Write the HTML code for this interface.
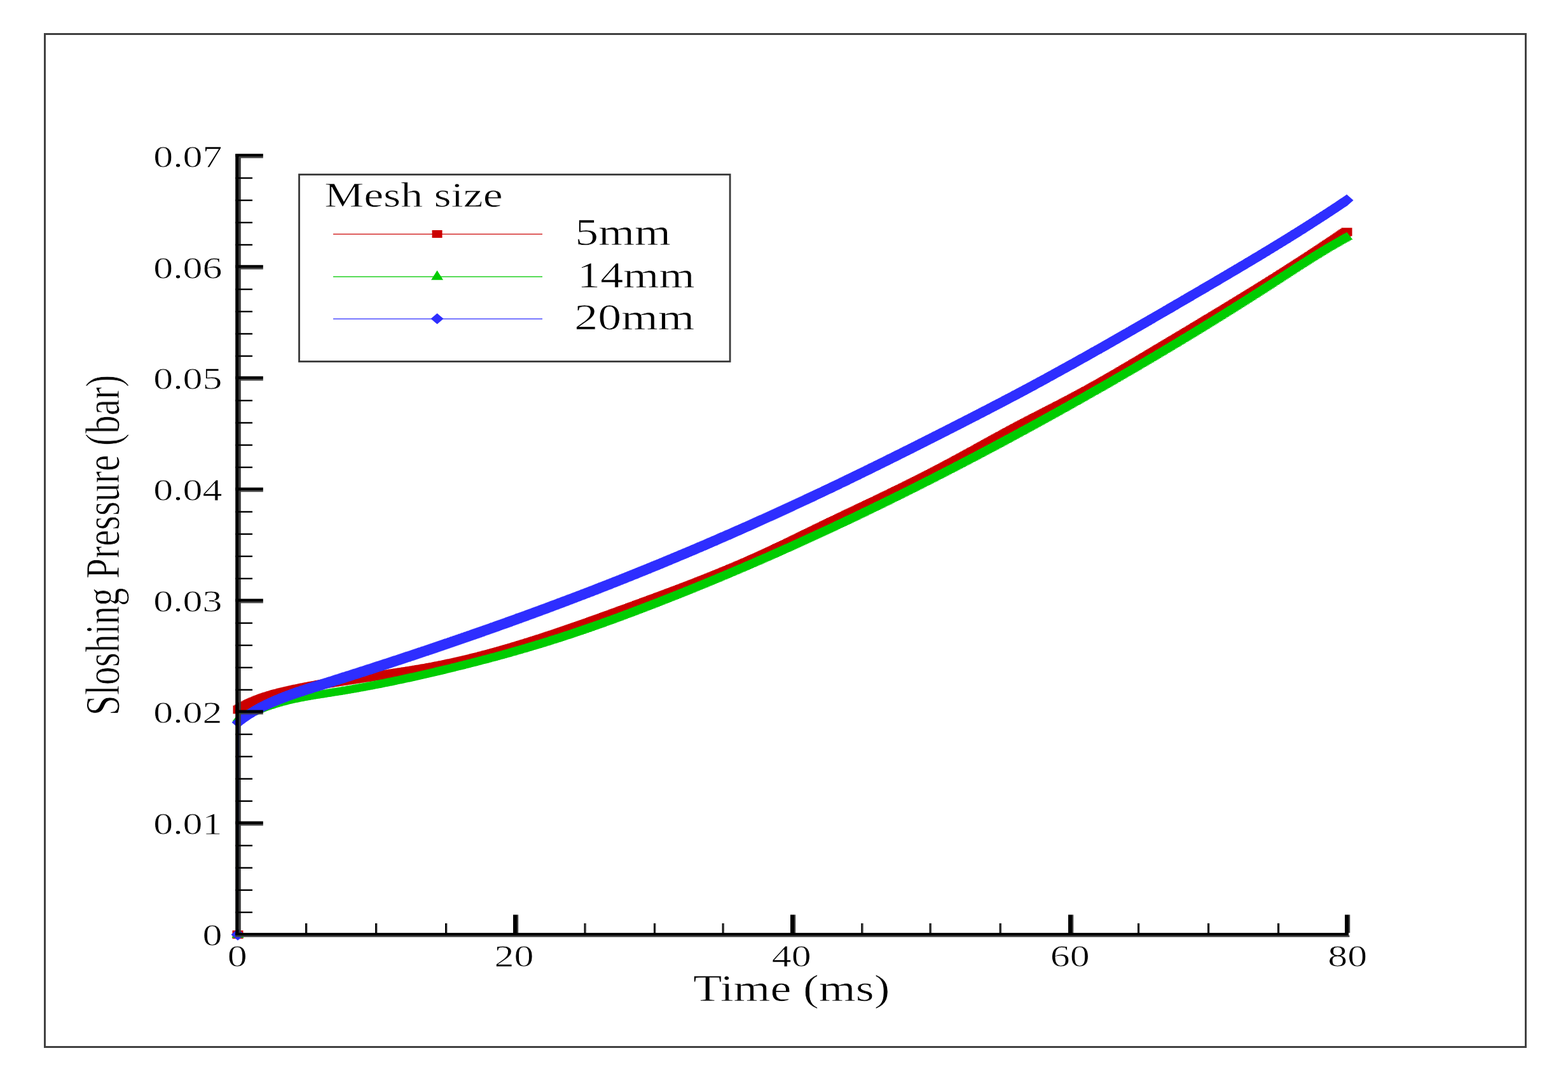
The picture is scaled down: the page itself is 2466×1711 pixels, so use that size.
<!DOCTYPE html>
<html><head><meta charset="utf-8"><title>Sloshing Pressure vs Time</title>
<style>html,body{margin:0;padding:0;background:#fff;overflow:hidden}svg{display:block}text{font-family:'Liberation Serif', 'Times New Roman', serif;fill:#000;stroke:#fff;stroke-width:0.7px}</style>
</head><body>
<svg width="2466" height="1711" viewBox="0 0 2466 1711">
<rect x="0" y="0" width="2466" height="1711" fill="#fff"/>
<rect x="70.5" y="53.5" width="2329" height="1593" fill="none" stroke="#404040" stroke-width="3"/>
<path d="M374.0 1469.8L375.0 1116.0L377.2 1114.7L379.4 1113.5L381.5 1112.3L383.7 1111.1L385.9 1110.0L388.1 1108.9L390.3 1107.8L392.4 1106.8L394.6 1105.8L396.8 1104.8L399.0 1103.8L401.1 1102.9L403.3 1102.0L405.5 1101.1L407.7 1100.2L409.9 1099.4L412.0 1098.6L414.2 1097.8L416.4 1097.0L418.6 1096.3L420.8 1095.6L422.9 1094.9L425.1 1094.2L427.3 1093.5L429.5 1092.9L431.6 1092.2L433.8 1091.6L436.0 1091.0L438.2 1090.4L440.4 1089.9L442.5 1089.3L444.7 1088.7L446.9 1088.2L449.1 1087.7L451.3 1087.2L453.4 1086.7L455.6 1086.2L457.8 1085.7L460.0 1085.2L462.1 1084.7L464.3 1084.2L466.5 1083.8L468.7 1083.3L470.9 1082.9L473.0 1082.4L475.2 1082.0L477.4 1081.5L479.6 1081.1L481.8 1080.7L483.9 1080.2L486.1 1079.8L488.3 1079.4L490.5 1079.0L492.7 1078.6L494.8 1078.2L497.0 1077.8L499.2 1077.4L501.4 1077.0L503.5 1076.6L505.7 1076.2L507.9 1075.8L510.1 1075.5L512.3 1075.1L514.4 1074.7L516.6 1074.4L518.8 1074.0L521.0 1073.6L523.2 1073.3L525.3 1072.9L527.5 1072.6L529.7 1072.2L531.9 1071.9L534.0 1071.5L536.2 1071.2L538.4 1070.9L540.6 1070.5L542.8 1070.2L544.9 1069.9L547.1 1069.5L549.3 1069.2L551.5 1068.9L553.7 1068.6L555.8 1068.2L558.0 1067.9L560.2 1067.6L562.4 1067.3L564.6 1067.0L566.7 1066.6L568.9 1066.3L571.1 1066.0L573.3 1065.7L575.4 1065.4L577.6 1065.1L579.8 1064.8L582.0 1064.4L584.2 1064.1L586.3 1063.8L588.5 1063.5L590.7 1063.2L592.9 1062.9L595.1 1062.6L597.2 1062.3L599.4 1061.9L601.6 1061.6L603.8 1061.3L605.9 1061.0L608.1 1060.7L610.3 1060.4L612.5 1060.0L614.7 1059.7L616.8 1059.4L619.0 1059.1L621.2 1058.8L623.4 1058.4L625.6 1058.1L627.7 1057.8L629.9 1057.5L632.1 1057.1L634.3 1056.8L636.5 1056.5L638.6 1056.1L640.8 1055.8L643.0 1055.4L645.2 1055.1L647.3 1054.7L649.5 1054.4L651.7 1054.0L653.9 1053.7L656.1 1053.3L658.2 1053.0L660.4 1052.6L662.6 1052.2L664.8 1051.9L667.0 1051.5L669.1 1051.1L671.3 1050.7L673.5 1050.4L675.7 1050.0L677.8 1049.6L680.0 1049.2L682.2 1048.8L684.4 1048.4L686.6 1048.0L688.7 1047.5L690.9 1047.1L693.1 1046.7L695.3 1046.3L697.5 1045.8L699.6 1045.4L701.8 1045.0L704.0 1044.5L706.2 1044.1L708.3 1043.6L710.5 1043.1L712.7 1042.7L714.9 1042.2L717.1 1041.7L719.2 1041.2L721.4 1040.8L723.6 1040.3L725.8 1039.8L728.0 1039.3L730.1 1038.8L732.3 1038.3L734.5 1037.8L736.7 1037.2L738.9 1036.7L741.0 1036.2L743.2 1035.7L745.4 1035.1L747.6 1034.6L749.7 1034.0L751.9 1033.5L754.1 1032.9L756.3 1032.4L758.5 1031.8L760.6 1031.3L762.8 1030.7L765.0 1030.1L767.2 1029.5L769.4 1029.0L771.5 1028.4L773.7 1027.8L775.9 1027.2L778.1 1026.6L780.2 1026.0L782.4 1025.4L784.6 1024.8L786.8 1024.2L789.0 1023.6L791.1 1022.9L793.3 1022.3L795.5 1021.7L797.7 1021.1L799.9 1020.4L802.0 1019.8L804.2 1019.2L806.4 1018.5L808.6 1017.9L810.8 1017.2L812.9 1016.6L815.1 1015.9L817.3 1015.3L819.5 1014.6L821.6 1014.0L823.8 1013.3L826.0 1012.6L828.2 1011.9L830.4 1011.3L832.5 1010.6L834.7 1009.9L836.9 1009.2L839.1 1008.5L841.3 1007.8L843.4 1007.2L845.6 1006.5L847.8 1005.8L850.0 1005.1L852.1 1004.4L854.3 1003.7L856.5 1002.9L858.7 1002.2L860.9 1001.5L863.0 1000.8L865.2 1000.1L867.4 999.4L869.6 998.6L871.8 997.9L873.9 997.2L876.1 996.5L878.3 995.7L880.5 995.0L882.6 994.3L884.8 993.5L887.0 992.8L889.2 992.0L891.4 991.3L893.5 990.6L895.7 989.8L897.9 989.1L900.1 988.3L902.3 987.6L904.4 986.8L906.6 986.0L908.8 985.3L911.0 984.5L913.2 983.8L915.3 983.0L917.5 982.2L919.7 981.5L921.9 980.7L924.0 979.9L926.2 979.2L928.4 978.4L930.6 977.6L932.8 976.8L934.9 976.1L937.1 975.3L939.3 974.5L941.5 973.7L943.7 973.0L945.8 972.2L948.0 971.4L950.2 970.6L952.4 969.8L954.5 969.0L956.7 968.2L958.9 967.5L961.1 966.7L963.3 965.9L965.4 965.1L967.6 964.3L969.8 963.5L972.0 962.7L974.2 961.9L976.3 961.1L978.5 960.3L980.7 959.5L982.9 958.8L985.0 958.0L987.2 957.2L989.4 956.4L991.6 955.6L993.8 954.8L995.9 954.0L998.1 953.2L1000.3 952.4L1002.5 951.6L1004.7 950.8L1006.8 950.0L1009.0 949.2L1011.2 948.4L1013.4 947.6L1015.6 946.8L1017.7 946.0L1019.9 945.2L1022.1 944.4L1024.3 943.6L1026.4 942.8L1028.6 942.0L1030.8 941.2L1033.0 940.4L1035.2 939.6L1037.3 938.8L1039.5 938.0L1041.7 937.2L1043.9 936.3L1046.1 935.5L1048.2 934.7L1050.4 933.9L1052.6 933.1L1054.8 932.3L1056.9 931.5L1059.1 930.7L1061.3 929.8L1063.5 929.0L1065.7 928.2L1067.8 927.4L1070.0 926.6L1072.2 925.7L1074.4 924.9L1076.6 924.1L1078.7 923.2L1080.9 922.4L1083.1 921.6L1085.3 920.7L1087.5 919.9L1089.6 919.1L1091.8 918.2L1094.0 917.4L1096.2 916.5L1098.3 915.7L1100.5 914.8L1102.7 914.0L1104.9 913.1L1107.1 912.3L1109.2 911.4L1111.4 910.6L1113.6 909.7L1115.8 908.8L1118.0 908.0L1120.1 907.1L1122.3 906.2L1124.5 905.3L1126.7 904.5L1128.8 903.6L1131.0 902.7L1133.2 901.8L1135.4 900.9L1137.6 900.0L1139.7 899.1L1141.9 898.2L1144.1 897.3L1146.3 896.4L1148.5 895.5L1150.6 894.6L1152.8 893.7L1155.0 892.8L1157.2 891.9L1159.3 890.9L1161.5 890.0L1163.7 889.1L1165.9 888.2L1168.1 887.2L1170.2 886.3L1172.4 885.3L1174.6 884.4L1176.8 883.4L1179.0 882.5L1181.1 881.5L1183.3 880.6L1185.5 879.6L1187.7 878.6L1189.9 877.7L1192.0 876.7L1194.2 875.7L1196.4 874.7L1198.6 873.7L1200.7 872.7L1202.9 871.7L1205.1 870.7L1207.3 869.7L1209.5 868.7L1211.6 867.7L1213.8 866.7L1216.0 865.7L1218.2 864.7L1220.4 863.6L1222.5 862.6L1224.7 861.6L1226.9 860.6L1229.1 859.5L1231.2 858.5L1233.4 857.4L1235.6 856.4L1237.8 855.4L1240.0 854.3L1242.1 853.3L1244.3 852.2L1246.5 851.2L1248.7 850.1L1250.9 849.1L1253.0 848.0L1255.2 846.9L1257.4 845.9L1259.6 844.8L1261.8 843.8L1263.9 842.7L1266.1 841.6L1268.3 840.6L1270.5 839.5L1272.6 838.5L1274.8 837.4L1277.0 836.3L1279.2 835.3L1281.4 834.2L1283.5 833.2L1285.7 832.1L1287.9 831.0L1290.1 830.0L1292.3 828.9L1294.4 827.9L1296.6 826.8L1298.8 825.8L1301.0 824.7L1303.1 823.7L1305.3 822.6L1307.5 821.6L1309.7 820.5L1311.9 819.5L1314.0 818.4L1316.2 817.4L1318.4 816.4L1320.6 815.3L1322.8 814.3L1324.9 813.2L1327.1 812.2L1329.3 811.2L1331.5 810.1L1333.7 809.1L1335.8 808.1L1338.0 807.0L1340.2 806.0L1342.4 805.0L1344.5 803.9L1346.7 802.9L1348.9 801.9L1351.1 800.8L1353.3 799.8L1355.4 798.8L1357.6 797.7L1359.8 796.7L1362.0 795.7L1364.2 794.6L1366.3 793.6L1368.5 792.5L1370.7 791.5L1372.9 790.5L1375.0 789.4L1377.2 788.4L1379.4 787.4L1381.6 786.3L1383.8 785.3L1385.9 784.2L1388.1 783.2L1390.3 782.1L1392.5 781.1L1394.7 780.0L1396.8 779.0L1399.0 777.9L1401.2 776.9L1403.4 775.8L1405.5 774.8L1407.7 773.7L1409.9 772.6L1412.1 771.6L1414.3 770.5L1416.4 769.5L1418.6 768.4L1420.8 767.3L1423.0 766.2L1425.2 765.2L1427.3 764.1L1429.5 763.0L1431.7 761.9L1433.9 760.8L1436.1 759.8L1438.2 758.7L1440.4 757.6L1442.6 756.5L1444.8 755.4L1446.9 754.3L1449.1 753.2L1451.3 752.1L1453.5 751.0L1455.7 749.9L1457.8 748.8L1460.0 747.7L1462.2 746.6L1464.4 745.4L1466.6 744.3L1468.7 743.2L1470.9 742.1L1473.1 740.9L1475.3 739.8L1477.4 738.7L1479.6 737.5L1481.8 736.4L1484.0 735.2L1486.2 734.1L1488.3 733.0L1490.5 731.8L1492.7 730.6L1494.9 729.5L1497.1 728.3L1499.2 727.2L1501.4 726.0L1503.6 724.8L1505.8 723.6L1508.0 722.5L1510.1 721.3L1512.3 720.1L1514.5 718.9L1516.7 717.7L1518.8 716.5L1521.0 715.3L1523.2 714.1L1525.4 713.0L1527.6 711.8L1529.7 710.6L1531.9 709.4L1534.1 708.2L1536.3 707.0L1538.5 705.8L1540.6 704.5L1542.8 703.3L1545.0 702.1L1547.2 700.9L1549.3 699.7L1551.5 698.5L1553.7 697.3L1555.9 696.1L1558.1 694.9L1560.2 693.7L1562.4 692.5L1564.6 691.3L1566.8 690.1L1569.0 688.9L1571.1 687.7L1573.3 686.5L1575.5 685.4L1577.7 684.2L1579.8 683.0L1582.0 681.8L1584.2 680.6L1586.4 679.4L1588.6 678.3L1590.7 677.1L1592.9 675.9L1595.1 674.7L1597.3 673.6L1599.5 672.4L1601.6 671.3L1603.8 670.1L1606.0 669.0L1608.2 667.8L1610.4 666.7L1612.5 665.5L1614.7 664.4L1616.9 663.3L1619.1 662.1L1621.2 661.0L1623.4 659.9L1625.6 658.8L1627.8 657.6L1630.0 656.5L1632.1 655.4L1634.3 654.3L1636.5 653.2L1638.7 652.0L1640.9 650.9L1643.0 649.8L1645.2 648.7L1647.4 647.6L1649.6 646.5L1651.7 645.3L1653.9 644.2L1656.1 643.1L1658.3 642.0L1660.5 640.9L1662.6 639.7L1664.8 638.6L1667.0 637.5L1669.2 636.4L1671.4 635.2L1673.5 634.1L1675.7 633.0L1677.9 631.8L1680.1 630.7L1682.2 629.6L1684.4 628.4L1686.6 627.3L1688.8 626.1L1691.0 625.0L1693.1 623.8L1695.3 622.6L1697.5 621.5L1699.7 620.3L1701.9 619.1L1704.0 617.9L1706.2 616.7L1708.4 615.6L1710.6 614.4L1712.8 613.2L1714.9 612.0L1717.1 610.8L1719.3 609.5L1721.5 608.3L1723.6 607.1L1725.8 605.9L1728.0 604.7L1730.2 603.4L1732.4 602.2L1734.5 601.0L1736.7 599.7L1738.9 598.5L1741.1 597.2L1743.3 596.0L1745.4 594.7L1747.6 593.5L1749.8 592.2L1752.0 591.0L1754.1 589.7L1756.3 588.4L1758.5 587.2L1760.7 585.9L1762.9 584.6L1765.0 583.4L1767.2 582.1L1769.4 580.8L1771.6 579.5L1773.8 578.3L1775.9 577.0L1778.1 575.7L1780.3 574.4L1782.5 573.1L1784.7 571.8L1786.8 570.5L1789.0 569.3L1791.2 568.0L1793.4 566.7L1795.5 565.4L1797.7 564.1L1799.9 562.8L1802.1 561.5L1804.3 560.2L1806.4 558.9L1808.6 557.6L1810.8 556.3L1813.0 555.0L1815.2 553.7L1817.3 552.4L1819.5 551.1L1821.7 549.8L1823.9 548.5L1826.0 547.2L1828.2 545.9L1830.4 544.6L1832.6 543.3L1834.8 542.0L1836.9 540.7L1839.1 539.4L1841.3 538.1L1843.5 536.8L1845.7 535.5L1847.8 534.2L1850.0 532.9L1852.2 531.6L1854.4 530.3L1856.5 529.0L1858.7 527.7L1860.9 526.4L1863.1 525.1L1865.3 523.8L1867.4 522.5L1869.6 521.2L1871.8 519.9L1874.0 518.5L1876.2 517.2L1878.3 515.9L1880.5 514.6L1882.7 513.3L1884.9 512.0L1887.1 510.7L1889.2 509.4L1891.4 508.1L1893.6 506.8L1895.8 505.5L1897.9 504.1L1900.1 502.8L1902.3 501.5L1904.5 500.2L1906.7 498.9L1908.8 497.6L1911.0 496.3L1913.2 494.9L1915.4 493.6L1917.6 492.3L1919.7 491.0L1921.9 489.7L1924.1 488.4L1926.3 487.0L1928.4 485.7L1930.6 484.4L1932.8 483.1L1935.0 481.8L1937.2 480.4L1939.3 479.1L1941.5 477.8L1943.7 476.4L1945.9 475.1L1948.1 473.8L1950.2 472.5L1952.4 471.1L1954.6 469.8L1956.8 468.5L1959.0 467.1L1961.1 465.8L1963.3 464.4L1965.5 463.1L1967.7 461.8L1969.8 460.4L1972.0 459.1L1974.2 457.7L1976.4 456.4L1978.6 455.0L1980.7 453.7L1982.9 452.3L1985.1 451.0L1987.3 449.6L1989.5 448.3L1991.6 446.9L1993.8 445.5L1996.0 444.2L1998.2 442.8L2000.3 441.5L2002.5 440.1L2004.7 438.7L2006.9 437.4L2009.1 436.0L2011.2 434.6L2013.4 433.2L2015.6 431.8L2017.8 430.5L2020.0 429.1L2022.1 427.7L2024.3 426.3L2026.5 424.9L2028.7 423.5L2030.8 422.1L2033.0 420.7L2035.2 419.3L2037.4 417.9L2039.6 416.5L2041.7 415.1L2043.9 413.7L2046.1 412.3L2048.3 410.9L2050.5 409.5L2052.6 408.1L2054.8 406.7L2057.0 405.2L2059.2 403.8L2061.4 402.4L2063.5 401.0L2065.7 399.5L2067.9 398.1L2070.1 396.7L2072.2 395.2L2074.4 393.8L2076.6 392.4L2078.8 390.9L2081.0 389.5L2083.1 388.0L2085.3 386.6L2087.5 385.1L2089.7 383.7L2091.9 382.2L2094.0 380.8L2096.2 379.3L2098.4 377.9L2100.6 376.4L2102.7 374.9L2104.9 373.5L2107.1 372.0L2109.3 370.6L2111.5 369.1L2113.6 367.6L2115.8 366.2L2118.0 364.7" fill="none" stroke="#cc0000" stroke-width="2"/>
<path d="M365.5 1463.2h17.0v13.0h-17.0zM366.5 1109.5h17.0v13.0h-17.0zM368.7 1108.2h17.0v13.0h-17.0zM370.9 1107.0h17.0v13.0h-17.0zM373.0 1105.8h17.0v13.0h-17.0zM375.2 1104.6h17.0v13.0h-17.0zM377.4 1103.5h17.0v13.0h-17.0zM379.6 1102.4h17.0v13.0h-17.0zM381.8 1101.3h17.0v13.0h-17.0zM383.9 1100.3h17.0v13.0h-17.0zM386.1 1099.3h17.0v13.0h-17.0zM388.3 1098.3h17.0v13.0h-17.0zM390.5 1097.3h17.0v13.0h-17.0zM392.6 1096.4h17.0v13.0h-17.0zM394.8 1095.5h17.0v13.0h-17.0zM397.0 1094.6h17.0v13.0h-17.0zM399.2 1093.7h17.0v13.0h-17.0zM401.4 1092.9h17.0v13.0h-17.0zM403.5 1092.1h17.0v13.0h-17.0zM405.7 1091.3h17.0v13.0h-17.0zM407.9 1090.5h17.0v13.0h-17.0zM410.1 1089.8h17.0v13.0h-17.0zM412.3 1089.1h17.0v13.0h-17.0zM414.4 1088.4h17.0v13.0h-17.0zM416.6 1087.7h17.0v13.0h-17.0zM418.8 1087.0h17.0v13.0h-17.0zM421.0 1086.4h17.0v13.0h-17.0zM423.1 1085.7h17.0v13.0h-17.0zM425.3 1085.1h17.0v13.0h-17.0zM427.5 1084.5h17.0v13.0h-17.0zM429.7 1083.9h17.0v13.0h-17.0zM431.9 1083.4h17.0v13.0h-17.0zM434.0 1082.8h17.0v13.0h-17.0zM436.2 1082.2h17.0v13.0h-17.0zM438.4 1081.7h17.0v13.0h-17.0zM440.6 1081.2h17.0v13.0h-17.0zM442.8 1080.7h17.0v13.0h-17.0zM444.9 1080.2h17.0v13.0h-17.0zM447.1 1079.7h17.0v13.0h-17.0zM449.3 1079.2h17.0v13.0h-17.0zM451.5 1078.7h17.0v13.0h-17.0zM453.6 1078.2h17.0v13.0h-17.0zM455.8 1077.7h17.0v13.0h-17.0zM458.0 1077.3h17.0v13.0h-17.0zM460.2 1076.8h17.0v13.0h-17.0zM462.4 1076.4h17.0v13.0h-17.0zM464.5 1075.9h17.0v13.0h-17.0zM466.7 1075.5h17.0v13.0h-17.0zM468.9 1075.0h17.0v13.0h-17.0zM471.1 1074.6h17.0v13.0h-17.0zM473.3 1074.2h17.0v13.0h-17.0zM475.4 1073.7h17.0v13.0h-17.0zM477.6 1073.3h17.0v13.0h-17.0zM479.8 1072.9h17.0v13.0h-17.0zM482.0 1072.5h17.0v13.0h-17.0zM484.2 1072.1h17.0v13.0h-17.0zM486.3 1071.7h17.0v13.0h-17.0zM488.5 1071.3h17.0v13.0h-17.0zM490.7 1070.9h17.0v13.0h-17.0zM492.9 1070.5h17.0v13.0h-17.0zM495.0 1070.1h17.0v13.0h-17.0zM497.2 1069.7h17.0v13.0h-17.0zM499.4 1069.3h17.0v13.0h-17.0zM501.6 1069.0h17.0v13.0h-17.0zM503.8 1068.6h17.0v13.0h-17.0zM505.9 1068.2h17.0v13.0h-17.0zM508.1 1067.9h17.0v13.0h-17.0zM510.3 1067.5h17.0v13.0h-17.0zM512.5 1067.1h17.0v13.0h-17.0zM514.7 1066.8h17.0v13.0h-17.0zM516.8 1066.4h17.0v13.0h-17.0zM519.0 1066.1h17.0v13.0h-17.0zM521.2 1065.7h17.0v13.0h-17.0zM523.4 1065.4h17.0v13.0h-17.0zM525.5 1065.0h17.0v13.0h-17.0zM527.7 1064.7h17.0v13.0h-17.0zM529.9 1064.4h17.0v13.0h-17.0zM532.1 1064.0h17.0v13.0h-17.0zM534.3 1063.7h17.0v13.0h-17.0zM536.4 1063.4h17.0v13.0h-17.0zM538.6 1063.0h17.0v13.0h-17.0zM540.8 1062.7h17.0v13.0h-17.0zM543.0 1062.4h17.0v13.0h-17.0zM545.2 1062.1h17.0v13.0h-17.0zM547.3 1061.7h17.0v13.0h-17.0zM549.5 1061.4h17.0v13.0h-17.0zM551.7 1061.1h17.0v13.0h-17.0zM553.9 1060.8h17.0v13.0h-17.0zM556.1 1060.5h17.0v13.0h-17.0zM558.2 1060.1h17.0v13.0h-17.0zM560.4 1059.8h17.0v13.0h-17.0zM562.6 1059.5h17.0v13.0h-17.0zM564.8 1059.2h17.0v13.0h-17.0zM566.9 1058.9h17.0v13.0h-17.0zM569.1 1058.6h17.0v13.0h-17.0zM571.3 1058.3h17.0v13.0h-17.0zM573.5 1057.9h17.0v13.0h-17.0zM575.7 1057.6h17.0v13.0h-17.0zM577.8 1057.3h17.0v13.0h-17.0zM580.0 1057.0h17.0v13.0h-17.0zM582.2 1056.7h17.0v13.0h-17.0zM584.4 1056.4h17.0v13.0h-17.0zM586.6 1056.1h17.0v13.0h-17.0zM588.7 1055.8h17.0v13.0h-17.0zM590.9 1055.4h17.0v13.0h-17.0zM593.1 1055.1h17.0v13.0h-17.0zM595.3 1054.8h17.0v13.0h-17.0zM597.4 1054.5h17.0v13.0h-17.0zM599.6 1054.2h17.0v13.0h-17.0zM601.8 1053.9h17.0v13.0h-17.0zM604.0 1053.5h17.0v13.0h-17.0zM606.2 1053.2h17.0v13.0h-17.0zM608.3 1052.9h17.0v13.0h-17.0zM610.5 1052.6h17.0v13.0h-17.0zM612.7 1052.3h17.0v13.0h-17.0zM614.9 1051.9h17.0v13.0h-17.0zM617.1 1051.6h17.0v13.0h-17.0zM619.2 1051.3h17.0v13.0h-17.0zM621.4 1051.0h17.0v13.0h-17.0zM623.6 1050.6h17.0v13.0h-17.0zM625.8 1050.3h17.0v13.0h-17.0zM628.0 1050.0h17.0v13.0h-17.0zM630.1 1049.6h17.0v13.0h-17.0zM632.3 1049.3h17.0v13.0h-17.0zM634.5 1048.9h17.0v13.0h-17.0zM636.7 1048.6h17.0v13.0h-17.0zM638.8 1048.2h17.0v13.0h-17.0zM641.0 1047.9h17.0v13.0h-17.0zM643.2 1047.5h17.0v13.0h-17.0zM645.4 1047.2h17.0v13.0h-17.0zM647.6 1046.8h17.0v13.0h-17.0zM649.7 1046.5h17.0v13.0h-17.0zM651.9 1046.1h17.0v13.0h-17.0zM654.1 1045.7h17.0v13.0h-17.0zM656.3 1045.4h17.0v13.0h-17.0zM658.5 1045.0h17.0v13.0h-17.0zM660.6 1044.6h17.0v13.0h-17.0zM662.8 1044.2h17.0v13.0h-17.0zM665.0 1043.9h17.0v13.0h-17.0zM667.2 1043.5h17.0v13.0h-17.0zM669.3 1043.1h17.0v13.0h-17.0zM671.5 1042.7h17.0v13.0h-17.0zM673.7 1042.3h17.0v13.0h-17.0zM675.9 1041.9h17.0v13.0h-17.0zM678.1 1041.5h17.0v13.0h-17.0zM680.2 1041.0h17.0v13.0h-17.0zM682.4 1040.6h17.0v13.0h-17.0zM684.6 1040.2h17.0v13.0h-17.0zM686.8 1039.8h17.0v13.0h-17.0zM689.0 1039.3h17.0v13.0h-17.0zM691.1 1038.9h17.0v13.0h-17.0zM693.3 1038.5h17.0v13.0h-17.0zM695.5 1038.0h17.0v13.0h-17.0zM697.7 1037.6h17.0v13.0h-17.0zM699.8 1037.1h17.0v13.0h-17.0zM702.0 1036.6h17.0v13.0h-17.0zM704.2 1036.2h17.0v13.0h-17.0zM706.4 1035.7h17.0v13.0h-17.0zM708.6 1035.2h17.0v13.0h-17.0zM710.7 1034.7h17.0v13.0h-17.0zM712.9 1034.3h17.0v13.0h-17.0zM715.1 1033.8h17.0v13.0h-17.0zM717.3 1033.3h17.0v13.0h-17.0zM719.5 1032.8h17.0v13.0h-17.0zM721.6 1032.3h17.0v13.0h-17.0zM723.8 1031.8h17.0v13.0h-17.0zM726.0 1031.3h17.0v13.0h-17.0zM728.2 1030.7h17.0v13.0h-17.0zM730.4 1030.2h17.0v13.0h-17.0zM732.5 1029.7h17.0v13.0h-17.0zM734.7 1029.2h17.0v13.0h-17.0zM736.9 1028.6h17.0v13.0h-17.0zM739.1 1028.1h17.0v13.0h-17.0zM741.2 1027.5h17.0v13.0h-17.0zM743.4 1027.0h17.0v13.0h-17.0zM745.6 1026.4h17.0v13.0h-17.0zM747.8 1025.9h17.0v13.0h-17.0zM750.0 1025.3h17.0v13.0h-17.0zM752.1 1024.8h17.0v13.0h-17.0zM754.3 1024.2h17.0v13.0h-17.0zM756.5 1023.6h17.0v13.0h-17.0zM758.7 1023.0h17.0v13.0h-17.0zM760.9 1022.5h17.0v13.0h-17.0zM763.0 1021.9h17.0v13.0h-17.0zM765.2 1021.3h17.0v13.0h-17.0zM767.4 1020.7h17.0v13.0h-17.0zM769.6 1020.1h17.0v13.0h-17.0zM771.7 1019.5h17.0v13.0h-17.0zM773.9 1018.9h17.0v13.0h-17.0zM776.1 1018.3h17.0v13.0h-17.0zM778.3 1017.7h17.0v13.0h-17.0zM780.5 1017.1h17.0v13.0h-17.0zM782.6 1016.4h17.0v13.0h-17.0zM784.8 1015.8h17.0v13.0h-17.0zM787.0 1015.2h17.0v13.0h-17.0zM789.2 1014.6h17.0v13.0h-17.0zM791.4 1013.9h17.0v13.0h-17.0zM793.5 1013.3h17.0v13.0h-17.0zM795.7 1012.7h17.0v13.0h-17.0zM797.9 1012.0h17.0v13.0h-17.0zM800.1 1011.4h17.0v13.0h-17.0zM802.2 1010.7h17.0v13.0h-17.0zM804.4 1010.1h17.0v13.0h-17.0zM806.6 1009.4h17.0v13.0h-17.0zM808.8 1008.8h17.0v13.0h-17.0zM811.0 1008.1h17.0v13.0h-17.0zM813.1 1007.5h17.0v13.0h-17.0zM815.3 1006.8h17.0v13.0h-17.0zM817.5 1006.1h17.0v13.0h-17.0zM819.7 1005.4h17.0v13.0h-17.0zM821.9 1004.8h17.0v13.0h-17.0zM824.0 1004.1h17.0v13.0h-17.0zM826.2 1003.4h17.0v13.0h-17.0zM828.4 1002.7h17.0v13.0h-17.0zM830.6 1002.0h17.0v13.0h-17.0zM832.8 1001.3h17.0v13.0h-17.0zM834.9 1000.7h17.0v13.0h-17.0zM837.1 1000.0h17.0v13.0h-17.0zM839.3 999.3h17.0v13.0h-17.0zM841.5 998.6h17.0v13.0h-17.0zM843.6 997.9h17.0v13.0h-17.0zM845.8 997.2h17.0v13.0h-17.0zM848.0 996.4h17.0v13.0h-17.0zM850.2 995.7h17.0v13.0h-17.0zM852.4 995.0h17.0v13.0h-17.0zM854.5 994.3h17.0v13.0h-17.0zM856.7 993.6h17.0v13.0h-17.0zM858.9 992.9h17.0v13.0h-17.0zM861.1 992.1h17.0v13.0h-17.0zM863.3 991.4h17.0v13.0h-17.0zM865.4 990.7h17.0v13.0h-17.0zM867.6 990.0h17.0v13.0h-17.0zM869.8 989.2h17.0v13.0h-17.0zM872.0 988.5h17.0v13.0h-17.0zM874.1 987.8h17.0v13.0h-17.0zM876.3 987.0h17.0v13.0h-17.0zM878.5 986.3h17.0v13.0h-17.0zM880.7 985.5h17.0v13.0h-17.0zM882.9 984.8h17.0v13.0h-17.0zM885.0 984.1h17.0v13.0h-17.0zM887.2 983.3h17.0v13.0h-17.0zM889.4 982.6h17.0v13.0h-17.0zM891.6 981.8h17.0v13.0h-17.0zM893.8 981.1h17.0v13.0h-17.0zM895.9 980.3h17.0v13.0h-17.0zM898.1 979.5h17.0v13.0h-17.0zM900.3 978.8h17.0v13.0h-17.0zM902.5 978.0h17.0v13.0h-17.0zM904.7 977.3h17.0v13.0h-17.0zM906.8 976.5h17.0v13.0h-17.0zM909.0 975.7h17.0v13.0h-17.0zM911.2 975.0h17.0v13.0h-17.0zM913.4 974.2h17.0v13.0h-17.0zM915.5 973.4h17.0v13.0h-17.0zM917.7 972.7h17.0v13.0h-17.0zM919.9 971.9h17.0v13.0h-17.0zM922.1 971.1h17.0v13.0h-17.0zM924.3 970.3h17.0v13.0h-17.0zM926.4 969.6h17.0v13.0h-17.0zM928.6 968.8h17.0v13.0h-17.0zM930.8 968.0h17.0v13.0h-17.0zM933.0 967.2h17.0v13.0h-17.0zM935.2 966.5h17.0v13.0h-17.0zM937.3 965.7h17.0v13.0h-17.0zM939.5 964.9h17.0v13.0h-17.0zM941.7 964.1h17.0v13.0h-17.0zM943.9 963.3h17.0v13.0h-17.0zM946.0 962.5h17.0v13.0h-17.0zM948.2 961.7h17.0v13.0h-17.0zM950.4 961.0h17.0v13.0h-17.0zM952.6 960.2h17.0v13.0h-17.0zM954.8 959.4h17.0v13.0h-17.0zM956.9 958.6h17.0v13.0h-17.0zM959.1 957.8h17.0v13.0h-17.0zM961.3 957.0h17.0v13.0h-17.0zM963.5 956.2h17.0v13.0h-17.0zM965.7 955.4h17.0v13.0h-17.0zM967.8 954.6h17.0v13.0h-17.0zM970.0 953.8h17.0v13.0h-17.0zM972.2 953.0h17.0v13.0h-17.0zM974.4 952.3h17.0v13.0h-17.0zM976.5 951.5h17.0v13.0h-17.0zM978.7 950.7h17.0v13.0h-17.0zM980.9 949.9h17.0v13.0h-17.0zM983.1 949.1h17.0v13.0h-17.0zM985.3 948.3h17.0v13.0h-17.0zM987.4 947.5h17.0v13.0h-17.0zM989.6 946.7h17.0v13.0h-17.0zM991.8 945.9h17.0v13.0h-17.0zM994.0 945.1h17.0v13.0h-17.0zM996.2 944.3h17.0v13.0h-17.0zM998.3 943.5h17.0v13.0h-17.0zM1000.5 942.7h17.0v13.0h-17.0zM1002.7 941.9h17.0v13.0h-17.0zM1004.9 941.1h17.0v13.0h-17.0zM1007.1 940.3h17.0v13.0h-17.0zM1009.2 939.5h17.0v13.0h-17.0zM1011.4 938.7h17.0v13.0h-17.0zM1013.6 937.9h17.0v13.0h-17.0zM1015.8 937.1h17.0v13.0h-17.0zM1017.9 936.3h17.0v13.0h-17.0zM1020.1 935.5h17.0v13.0h-17.0zM1022.3 934.7h17.0v13.0h-17.0zM1024.5 933.9h17.0v13.0h-17.0zM1026.7 933.1h17.0v13.0h-17.0zM1028.8 932.3h17.0v13.0h-17.0zM1031.0 931.5h17.0v13.0h-17.0zM1033.2 930.7h17.0v13.0h-17.0zM1035.4 929.8h17.0v13.0h-17.0zM1037.6 929.0h17.0v13.0h-17.0zM1039.7 928.2h17.0v13.0h-17.0zM1041.9 927.4h17.0v13.0h-17.0zM1044.1 926.6h17.0v13.0h-17.0zM1046.3 925.8h17.0v13.0h-17.0zM1048.4 925.0h17.0v13.0h-17.0zM1050.6 924.2h17.0v13.0h-17.0zM1052.8 923.3h17.0v13.0h-17.0zM1055.0 922.5h17.0v13.0h-17.0zM1057.2 921.7h17.0v13.0h-17.0zM1059.3 920.9h17.0v13.0h-17.0zM1061.5 920.1h17.0v13.0h-17.0zM1063.7 919.2h17.0v13.0h-17.0zM1065.9 918.4h17.0v13.0h-17.0zM1068.1 917.6h17.0v13.0h-17.0zM1070.2 916.7h17.0v13.0h-17.0zM1072.4 915.9h17.0v13.0h-17.0zM1074.6 915.1h17.0v13.0h-17.0zM1076.8 914.2h17.0v13.0h-17.0zM1079.0 913.4h17.0v13.0h-17.0zM1081.1 912.6h17.0v13.0h-17.0zM1083.3 911.7h17.0v13.0h-17.0zM1085.5 910.9h17.0v13.0h-17.0zM1087.7 910.0h17.0v13.0h-17.0zM1089.8 909.2h17.0v13.0h-17.0zM1092.0 908.3h17.0v13.0h-17.0zM1094.2 907.5h17.0v13.0h-17.0zM1096.4 906.6h17.0v13.0h-17.0zM1098.6 905.8h17.0v13.0h-17.0zM1100.7 904.9h17.0v13.0h-17.0zM1102.9 904.1h17.0v13.0h-17.0zM1105.1 903.2h17.0v13.0h-17.0zM1107.3 902.3h17.0v13.0h-17.0zM1109.5 901.5h17.0v13.0h-17.0zM1111.6 900.6h17.0v13.0h-17.0zM1113.8 899.7h17.0v13.0h-17.0zM1116.0 898.8h17.0v13.0h-17.0zM1118.2 898.0h17.0v13.0h-17.0zM1120.3 897.1h17.0v13.0h-17.0zM1122.5 896.2h17.0v13.0h-17.0zM1124.7 895.3h17.0v13.0h-17.0zM1126.9 894.4h17.0v13.0h-17.0zM1129.1 893.5h17.0v13.0h-17.0zM1131.2 892.6h17.0v13.0h-17.0zM1133.4 891.7h17.0v13.0h-17.0zM1135.6 890.8h17.0v13.0h-17.0zM1137.8 889.9h17.0v13.0h-17.0zM1140.0 889.0h17.0v13.0h-17.0zM1142.1 888.1h17.0v13.0h-17.0zM1144.3 887.2h17.0v13.0h-17.0zM1146.5 886.3h17.0v13.0h-17.0zM1148.7 885.4h17.0v13.0h-17.0zM1150.8 884.4h17.0v13.0h-17.0zM1153.0 883.5h17.0v13.0h-17.0zM1155.2 882.6h17.0v13.0h-17.0zM1157.4 881.7h17.0v13.0h-17.0zM1159.6 880.7h17.0v13.0h-17.0zM1161.7 879.8h17.0v13.0h-17.0zM1163.9 878.8h17.0v13.0h-17.0zM1166.1 877.9h17.0v13.0h-17.0zM1168.3 876.9h17.0v13.0h-17.0zM1170.5 876.0h17.0v13.0h-17.0zM1172.6 875.0h17.0v13.0h-17.0zM1174.8 874.1h17.0v13.0h-17.0zM1177.0 873.1h17.0v13.0h-17.0zM1179.2 872.1h17.0v13.0h-17.0zM1181.4 871.2h17.0v13.0h-17.0zM1183.5 870.2h17.0v13.0h-17.0zM1185.7 869.2h17.0v13.0h-17.0zM1187.9 868.2h17.0v13.0h-17.0zM1190.1 867.2h17.0v13.0h-17.0zM1192.2 866.2h17.0v13.0h-17.0zM1194.4 865.2h17.0v13.0h-17.0zM1196.6 864.2h17.0v13.0h-17.0zM1198.8 863.2h17.0v13.0h-17.0zM1201.0 862.2h17.0v13.0h-17.0zM1203.1 861.2h17.0v13.0h-17.0zM1205.3 860.2h17.0v13.0h-17.0zM1207.5 859.2h17.0v13.0h-17.0zM1209.7 858.2h17.0v13.0h-17.0zM1211.9 857.1h17.0v13.0h-17.0zM1214.0 856.1h17.0v13.0h-17.0zM1216.2 855.1h17.0v13.0h-17.0zM1218.4 854.1h17.0v13.0h-17.0zM1220.6 853.0h17.0v13.0h-17.0zM1222.7 852.0h17.0v13.0h-17.0zM1224.9 850.9h17.0v13.0h-17.0zM1227.1 849.9h17.0v13.0h-17.0zM1229.3 848.9h17.0v13.0h-17.0zM1231.5 847.8h17.0v13.0h-17.0zM1233.6 846.8h17.0v13.0h-17.0zM1235.8 845.7h17.0v13.0h-17.0zM1238.0 844.7h17.0v13.0h-17.0zM1240.2 843.6h17.0v13.0h-17.0zM1242.4 842.6h17.0v13.0h-17.0zM1244.5 841.5h17.0v13.0h-17.0zM1246.7 840.4h17.0v13.0h-17.0zM1248.9 839.4h17.0v13.0h-17.0zM1251.1 838.3h17.0v13.0h-17.0zM1253.3 837.3h17.0v13.0h-17.0zM1255.4 836.2h17.0v13.0h-17.0zM1257.6 835.1h17.0v13.0h-17.0zM1259.8 834.1h17.0v13.0h-17.0zM1262.0 833.0h17.0v13.0h-17.0zM1264.1 832.0h17.0v13.0h-17.0zM1266.3 830.9h17.0v13.0h-17.0zM1268.5 829.8h17.0v13.0h-17.0zM1270.7 828.8h17.0v13.0h-17.0zM1272.9 827.7h17.0v13.0h-17.0zM1275.0 826.7h17.0v13.0h-17.0zM1277.2 825.6h17.0v13.0h-17.0zM1279.4 824.5h17.0v13.0h-17.0zM1281.6 823.5h17.0v13.0h-17.0zM1283.8 822.4h17.0v13.0h-17.0zM1285.9 821.4h17.0v13.0h-17.0zM1288.1 820.3h17.0v13.0h-17.0zM1290.3 819.3h17.0v13.0h-17.0zM1292.5 818.2h17.0v13.0h-17.0zM1294.6 817.2h17.0v13.0h-17.0zM1296.8 816.1h17.0v13.0h-17.0zM1299.0 815.1h17.0v13.0h-17.0zM1301.2 814.0h17.0v13.0h-17.0zM1303.4 813.0h17.0v13.0h-17.0zM1305.5 811.9h17.0v13.0h-17.0zM1307.7 810.9h17.0v13.0h-17.0zM1309.9 809.9h17.0v13.0h-17.0zM1312.1 808.8h17.0v13.0h-17.0zM1314.3 807.8h17.0v13.0h-17.0zM1316.4 806.7h17.0v13.0h-17.0zM1318.6 805.7h17.0v13.0h-17.0zM1320.8 804.7h17.0v13.0h-17.0zM1323.0 803.6h17.0v13.0h-17.0zM1325.2 802.6h17.0v13.0h-17.0zM1327.3 801.6h17.0v13.0h-17.0zM1329.5 800.5h17.0v13.0h-17.0zM1331.7 799.5h17.0v13.0h-17.0zM1333.9 798.5h17.0v13.0h-17.0zM1336.0 797.4h17.0v13.0h-17.0zM1338.2 796.4h17.0v13.0h-17.0zM1340.4 795.4h17.0v13.0h-17.0zM1342.6 794.3h17.0v13.0h-17.0zM1344.8 793.3h17.0v13.0h-17.0zM1346.9 792.3h17.0v13.0h-17.0zM1349.1 791.2h17.0v13.0h-17.0zM1351.3 790.2h17.0v13.0h-17.0zM1353.5 789.2h17.0v13.0h-17.0zM1355.7 788.1h17.0v13.0h-17.0zM1357.8 787.1h17.0v13.0h-17.0zM1360.0 786.0h17.0v13.0h-17.0zM1362.2 785.0h17.0v13.0h-17.0zM1364.4 784.0h17.0v13.0h-17.0zM1366.5 782.9h17.0v13.0h-17.0zM1368.7 781.9h17.0v13.0h-17.0zM1370.9 780.9h17.0v13.0h-17.0zM1373.1 779.8h17.0v13.0h-17.0zM1375.3 778.8h17.0v13.0h-17.0zM1377.4 777.7h17.0v13.0h-17.0zM1379.6 776.7h17.0v13.0h-17.0zM1381.8 775.6h17.0v13.0h-17.0zM1384.0 774.6h17.0v13.0h-17.0zM1386.2 773.5h17.0v13.0h-17.0zM1388.3 772.5h17.0v13.0h-17.0zM1390.5 771.4h17.0v13.0h-17.0zM1392.7 770.4h17.0v13.0h-17.0zM1394.9 769.3h17.0v13.0h-17.0zM1397.0 768.3h17.0v13.0h-17.0zM1399.2 767.2h17.0v13.0h-17.0zM1401.4 766.1h17.0v13.0h-17.0zM1403.6 765.1h17.0v13.0h-17.0zM1405.8 764.0h17.0v13.0h-17.0zM1407.9 763.0h17.0v13.0h-17.0zM1410.1 761.9h17.0v13.0h-17.0zM1412.3 760.8h17.0v13.0h-17.0zM1414.5 759.7h17.0v13.0h-17.0zM1416.7 758.7h17.0v13.0h-17.0zM1418.8 757.6h17.0v13.0h-17.0zM1421.0 756.5h17.0v13.0h-17.0zM1423.2 755.4h17.0v13.0h-17.0zM1425.4 754.3h17.0v13.0h-17.0zM1427.6 753.3h17.0v13.0h-17.0zM1429.7 752.2h17.0v13.0h-17.0zM1431.9 751.1h17.0v13.0h-17.0zM1434.1 750.0h17.0v13.0h-17.0zM1436.3 748.9h17.0v13.0h-17.0zM1438.4 747.8h17.0v13.0h-17.0zM1440.6 746.7h17.0v13.0h-17.0zM1442.8 745.6h17.0v13.0h-17.0zM1445.0 744.5h17.0v13.0h-17.0zM1447.2 743.4h17.0v13.0h-17.0zM1449.3 742.3h17.0v13.0h-17.0zM1451.5 741.2h17.0v13.0h-17.0zM1453.7 740.1h17.0v13.0h-17.0zM1455.9 738.9h17.0v13.0h-17.0zM1458.1 737.8h17.0v13.0h-17.0zM1460.2 736.7h17.0v13.0h-17.0zM1462.4 735.6h17.0v13.0h-17.0zM1464.6 734.4h17.0v13.0h-17.0zM1466.8 733.3h17.0v13.0h-17.0zM1468.9 732.2h17.0v13.0h-17.0zM1471.1 731.0h17.0v13.0h-17.0zM1473.3 729.9h17.0v13.0h-17.0zM1475.5 728.7h17.0v13.0h-17.0zM1477.7 727.6h17.0v13.0h-17.0zM1479.8 726.5h17.0v13.0h-17.0zM1482.0 725.3h17.0v13.0h-17.0zM1484.2 724.1h17.0v13.0h-17.0zM1486.4 723.0h17.0v13.0h-17.0zM1488.6 721.8h17.0v13.0h-17.0zM1490.7 720.7h17.0v13.0h-17.0zM1492.9 719.5h17.0v13.0h-17.0zM1495.1 718.3h17.0v13.0h-17.0zM1497.3 717.1h17.0v13.0h-17.0zM1499.5 716.0h17.0v13.0h-17.0zM1501.6 714.8h17.0v13.0h-17.0zM1503.8 713.6h17.0v13.0h-17.0zM1506.0 712.4h17.0v13.0h-17.0zM1508.2 711.2h17.0v13.0h-17.0zM1510.3 710.0h17.0v13.0h-17.0zM1512.5 708.8h17.0v13.0h-17.0zM1514.7 707.6h17.0v13.0h-17.0zM1516.9 706.5h17.0v13.0h-17.0zM1519.1 705.3h17.0v13.0h-17.0zM1521.2 704.1h17.0v13.0h-17.0zM1523.4 702.9h17.0v13.0h-17.0zM1525.6 701.7h17.0v13.0h-17.0zM1527.8 700.5h17.0v13.0h-17.0zM1530.0 699.3h17.0v13.0h-17.0zM1532.1 698.0h17.0v13.0h-17.0zM1534.3 696.8h17.0v13.0h-17.0zM1536.5 695.6h17.0v13.0h-17.0zM1538.7 694.4h17.0v13.0h-17.0zM1540.8 693.2h17.0v13.0h-17.0zM1543.0 692.0h17.0v13.0h-17.0zM1545.2 690.8h17.0v13.0h-17.0zM1547.4 689.6h17.0v13.0h-17.0zM1549.6 688.4h17.0v13.0h-17.0zM1551.7 687.2h17.0v13.0h-17.0zM1553.9 686.0h17.0v13.0h-17.0zM1556.1 684.8h17.0v13.0h-17.0zM1558.3 683.6h17.0v13.0h-17.0zM1560.5 682.4h17.0v13.0h-17.0zM1562.6 681.2h17.0v13.0h-17.0zM1564.8 680.0h17.0v13.0h-17.0zM1567.0 678.9h17.0v13.0h-17.0zM1569.2 677.7h17.0v13.0h-17.0zM1571.3 676.5h17.0v13.0h-17.0zM1573.5 675.3h17.0v13.0h-17.0zM1575.7 674.1h17.0v13.0h-17.0zM1577.9 672.9h17.0v13.0h-17.0zM1580.1 671.8h17.0v13.0h-17.0zM1582.2 670.6h17.0v13.0h-17.0zM1584.4 669.4h17.0v13.0h-17.0zM1586.6 668.2h17.0v13.0h-17.0zM1588.8 667.1h17.0v13.0h-17.0zM1591.0 665.9h17.0v13.0h-17.0zM1593.1 664.8h17.0v13.0h-17.0zM1595.3 663.6h17.0v13.0h-17.0zM1597.5 662.5h17.0v13.0h-17.0zM1599.7 661.3h17.0v13.0h-17.0zM1601.9 660.2h17.0v13.0h-17.0zM1604.0 659.0h17.0v13.0h-17.0zM1606.2 657.9h17.0v13.0h-17.0zM1608.4 656.8h17.0v13.0h-17.0zM1610.6 655.6h17.0v13.0h-17.0zM1612.7 654.5h17.0v13.0h-17.0zM1614.9 653.4h17.0v13.0h-17.0zM1617.1 652.3h17.0v13.0h-17.0zM1619.3 651.1h17.0v13.0h-17.0zM1621.5 650.0h17.0v13.0h-17.0zM1623.6 648.9h17.0v13.0h-17.0zM1625.8 647.8h17.0v13.0h-17.0zM1628.0 646.7h17.0v13.0h-17.0zM1630.2 645.5h17.0v13.0h-17.0zM1632.4 644.4h17.0v13.0h-17.0zM1634.5 643.3h17.0v13.0h-17.0zM1636.7 642.2h17.0v13.0h-17.0zM1638.9 641.1h17.0v13.0h-17.0zM1641.1 640.0h17.0v13.0h-17.0zM1643.2 638.8h17.0v13.0h-17.0zM1645.4 637.7h17.0v13.0h-17.0zM1647.6 636.6h17.0v13.0h-17.0zM1649.8 635.5h17.0v13.0h-17.0zM1652.0 634.4h17.0v13.0h-17.0zM1654.1 633.2h17.0v13.0h-17.0zM1656.3 632.1h17.0v13.0h-17.0zM1658.5 631.0h17.0v13.0h-17.0zM1660.7 629.9h17.0v13.0h-17.0zM1662.9 628.7h17.0v13.0h-17.0zM1665.0 627.6h17.0v13.0h-17.0zM1667.2 626.5h17.0v13.0h-17.0zM1669.4 625.3h17.0v13.0h-17.0zM1671.6 624.2h17.0v13.0h-17.0zM1673.8 623.1h17.0v13.0h-17.0zM1675.9 621.9h17.0v13.0h-17.0zM1678.1 620.8h17.0v13.0h-17.0zM1680.3 619.6h17.0v13.0h-17.0zM1682.5 618.5h17.0v13.0h-17.0zM1684.6 617.3h17.0v13.0h-17.0zM1686.8 616.1h17.0v13.0h-17.0zM1689.0 615.0h17.0v13.0h-17.0zM1691.2 613.8h17.0v13.0h-17.0zM1693.4 612.6h17.0v13.0h-17.0zM1695.5 611.4h17.0v13.0h-17.0zM1697.7 610.2h17.0v13.0h-17.0zM1699.9 609.1h17.0v13.0h-17.0zM1702.1 607.9h17.0v13.0h-17.0zM1704.3 606.7h17.0v13.0h-17.0zM1706.4 605.5h17.0v13.0h-17.0zM1708.6 604.3h17.0v13.0h-17.0zM1710.8 603.0h17.0v13.0h-17.0zM1713.0 601.8h17.0v13.0h-17.0zM1715.1 600.6h17.0v13.0h-17.0zM1717.3 599.4h17.0v13.0h-17.0zM1719.5 598.2h17.0v13.0h-17.0zM1721.7 596.9h17.0v13.0h-17.0zM1723.9 595.7h17.0v13.0h-17.0zM1726.0 594.5h17.0v13.0h-17.0zM1728.2 593.2h17.0v13.0h-17.0zM1730.4 592.0h17.0v13.0h-17.0zM1732.6 590.7h17.0v13.0h-17.0zM1734.8 589.5h17.0v13.0h-17.0zM1736.9 588.2h17.0v13.0h-17.0zM1739.1 587.0h17.0v13.0h-17.0zM1741.3 585.7h17.0v13.0h-17.0zM1743.5 584.5h17.0v13.0h-17.0zM1745.6 583.2h17.0v13.0h-17.0zM1747.8 581.9h17.0v13.0h-17.0zM1750.0 580.7h17.0v13.0h-17.0zM1752.2 579.4h17.0v13.0h-17.0zM1754.4 578.1h17.0v13.0h-17.0zM1756.5 576.9h17.0v13.0h-17.0zM1758.7 575.6h17.0v13.0h-17.0zM1760.9 574.3h17.0v13.0h-17.0zM1763.1 573.0h17.0v13.0h-17.0zM1765.3 571.8h17.0v13.0h-17.0zM1767.4 570.5h17.0v13.0h-17.0zM1769.6 569.2h17.0v13.0h-17.0zM1771.8 567.9h17.0v13.0h-17.0zM1774.0 566.6h17.0v13.0h-17.0zM1776.2 565.3h17.0v13.0h-17.0zM1778.3 564.0h17.0v13.0h-17.0zM1780.5 562.8h17.0v13.0h-17.0zM1782.7 561.5h17.0v13.0h-17.0zM1784.9 560.2h17.0v13.0h-17.0zM1787.0 558.9h17.0v13.0h-17.0zM1789.2 557.6h17.0v13.0h-17.0zM1791.4 556.3h17.0v13.0h-17.0zM1793.6 555.0h17.0v13.0h-17.0zM1795.8 553.7h17.0v13.0h-17.0zM1797.9 552.4h17.0v13.0h-17.0zM1800.1 551.1h17.0v13.0h-17.0zM1802.3 549.8h17.0v13.0h-17.0zM1804.5 548.5h17.0v13.0h-17.0zM1806.7 547.2h17.0v13.0h-17.0zM1808.8 545.9h17.0v13.0h-17.0zM1811.0 544.6h17.0v13.0h-17.0zM1813.2 543.3h17.0v13.0h-17.0zM1815.4 542.0h17.0v13.0h-17.0zM1817.5 540.7h17.0v13.0h-17.0zM1819.7 539.4h17.0v13.0h-17.0zM1821.9 538.1h17.0v13.0h-17.0zM1824.1 536.8h17.0v13.0h-17.0zM1826.3 535.5h17.0v13.0h-17.0zM1828.4 534.2h17.0v13.0h-17.0zM1830.6 532.9h17.0v13.0h-17.0zM1832.8 531.6h17.0v13.0h-17.0zM1835.0 530.3h17.0v13.0h-17.0zM1837.2 529.0h17.0v13.0h-17.0zM1839.3 527.7h17.0v13.0h-17.0zM1841.5 526.4h17.0v13.0h-17.0zM1843.7 525.1h17.0v13.0h-17.0zM1845.9 523.8h17.0v13.0h-17.0zM1848.0 522.5h17.0v13.0h-17.0zM1850.2 521.2h17.0v13.0h-17.0zM1852.4 519.9h17.0v13.0h-17.0zM1854.6 518.6h17.0v13.0h-17.0zM1856.8 517.3h17.0v13.0h-17.0zM1858.9 516.0h17.0v13.0h-17.0zM1861.1 514.7h17.0v13.0h-17.0zM1863.3 513.4h17.0v13.0h-17.0zM1865.5 512.0h17.0v13.0h-17.0zM1867.7 510.7h17.0v13.0h-17.0zM1869.8 509.4h17.0v13.0h-17.0zM1872.0 508.1h17.0v13.0h-17.0zM1874.2 506.8h17.0v13.0h-17.0zM1876.4 505.5h17.0v13.0h-17.0zM1878.6 504.2h17.0v13.0h-17.0zM1880.7 502.9h17.0v13.0h-17.0zM1882.9 501.6h17.0v13.0h-17.0zM1885.1 500.3h17.0v13.0h-17.0zM1887.3 499.0h17.0v13.0h-17.0zM1889.4 497.6h17.0v13.0h-17.0zM1891.6 496.3h17.0v13.0h-17.0zM1893.8 495.0h17.0v13.0h-17.0zM1896.0 493.7h17.0v13.0h-17.0zM1898.2 492.4h17.0v13.0h-17.0zM1900.3 491.1h17.0v13.0h-17.0zM1902.5 489.8h17.0v13.0h-17.0zM1904.7 488.4h17.0v13.0h-17.0zM1906.9 487.1h17.0v13.0h-17.0zM1909.1 485.8h17.0v13.0h-17.0zM1911.2 484.5h17.0v13.0h-17.0zM1913.4 483.2h17.0v13.0h-17.0zM1915.6 481.9h17.0v13.0h-17.0zM1917.8 480.5h17.0v13.0h-17.0zM1919.9 479.2h17.0v13.0h-17.0zM1922.1 477.9h17.0v13.0h-17.0zM1924.3 476.6h17.0v13.0h-17.0zM1926.5 475.3h17.0v13.0h-17.0zM1928.7 473.9h17.0v13.0h-17.0zM1930.8 472.6h17.0v13.0h-17.0zM1933.0 471.3h17.0v13.0h-17.0zM1935.2 469.9h17.0v13.0h-17.0zM1937.4 468.6h17.0v13.0h-17.0zM1939.6 467.3h17.0v13.0h-17.0zM1941.7 466.0h17.0v13.0h-17.0zM1943.9 464.6h17.0v13.0h-17.0zM1946.1 463.3h17.0v13.0h-17.0zM1948.3 462.0h17.0v13.0h-17.0zM1950.5 460.6h17.0v13.0h-17.0zM1952.6 459.3h17.0v13.0h-17.0zM1954.8 457.9h17.0v13.0h-17.0zM1957.0 456.6h17.0v13.0h-17.0zM1959.2 455.3h17.0v13.0h-17.0zM1961.3 453.9h17.0v13.0h-17.0zM1963.5 452.6h17.0v13.0h-17.0zM1965.7 451.2h17.0v13.0h-17.0zM1967.9 449.9h17.0v13.0h-17.0zM1970.1 448.5h17.0v13.0h-17.0zM1972.2 447.2h17.0v13.0h-17.0zM1974.4 445.8h17.0v13.0h-17.0zM1976.6 444.5h17.0v13.0h-17.0zM1978.8 443.1h17.0v13.0h-17.0zM1981.0 441.8h17.0v13.0h-17.0zM1983.1 440.4h17.0v13.0h-17.0zM1985.3 439.0h17.0v13.0h-17.0zM1987.5 437.7h17.0v13.0h-17.0zM1989.7 436.3h17.0v13.0h-17.0zM1991.8 435.0h17.0v13.0h-17.0zM1994.0 433.6h17.0v13.0h-17.0zM1996.2 432.2h17.0v13.0h-17.0zM1998.4 430.9h17.0v13.0h-17.0zM2000.6 429.5h17.0v13.0h-17.0zM2002.7 428.1h17.0v13.0h-17.0zM2004.9 426.7h17.0v13.0h-17.0zM2007.1 425.3h17.0v13.0h-17.0zM2009.3 424.0h17.0v13.0h-17.0zM2011.5 422.6h17.0v13.0h-17.0zM2013.6 421.2h17.0v13.0h-17.0zM2015.8 419.8h17.0v13.0h-17.0zM2018.0 418.4h17.0v13.0h-17.0zM2020.2 417.0h17.0v13.0h-17.0zM2022.3 415.6h17.0v13.0h-17.0zM2024.5 414.2h17.0v13.0h-17.0zM2026.7 412.8h17.0v13.0h-17.0zM2028.9 411.4h17.0v13.0h-17.0zM2031.1 410.0h17.0v13.0h-17.0zM2033.2 408.6h17.0v13.0h-17.0zM2035.4 407.2h17.0v13.0h-17.0zM2037.6 405.8h17.0v13.0h-17.0zM2039.8 404.4h17.0v13.0h-17.0zM2042.0 403.0h17.0v13.0h-17.0zM2044.1 401.6h17.0v13.0h-17.0zM2046.3 400.2h17.0v13.0h-17.0zM2048.5 398.7h17.0v13.0h-17.0zM2050.7 397.3h17.0v13.0h-17.0zM2052.9 395.9h17.0v13.0h-17.0zM2055.0 394.5h17.0v13.0h-17.0zM2057.2 393.0h17.0v13.0h-17.0zM2059.4 391.6h17.0v13.0h-17.0zM2061.6 390.2h17.0v13.0h-17.0zM2063.7 388.7h17.0v13.0h-17.0zM2065.9 387.3h17.0v13.0h-17.0zM2068.1 385.9h17.0v13.0h-17.0zM2070.3 384.4h17.0v13.0h-17.0zM2072.5 383.0h17.0v13.0h-17.0zM2074.6 381.5h17.0v13.0h-17.0zM2076.8 380.1h17.0v13.0h-17.0zM2079.0 378.6h17.0v13.0h-17.0zM2081.2 377.2h17.0v13.0h-17.0zM2083.4 375.7h17.0v13.0h-17.0zM2085.5 374.3h17.0v13.0h-17.0zM2087.7 372.8h17.0v13.0h-17.0zM2089.9 371.4h17.0v13.0h-17.0zM2092.1 369.9h17.0v13.0h-17.0zM2094.2 368.4h17.0v13.0h-17.0zM2096.4 367.0h17.0v13.0h-17.0zM2098.6 365.5h17.0v13.0h-17.0zM2100.8 364.1h17.0v13.0h-17.0zM2103.0 362.6h17.0v13.0h-17.0zM2105.1 361.1h17.0v13.0h-17.0zM2107.3 359.7h17.0v13.0h-17.0zM2109.5 358.2h17.0v13.0h-17.0z" fill="#cc0000"/>
<path d="M374.0 1469.8L375.0 1129.0L377.2 1127.9L379.4 1126.8L381.5 1125.8L383.7 1124.8L385.9 1123.7L388.1 1122.7L390.3 1121.7L392.4 1120.8L394.6 1119.8L396.8 1118.9L399.0 1118.0L401.1 1117.1L403.3 1116.2L405.5 1115.3L407.7 1114.5L409.9 1113.6L412.0 1112.8L414.2 1112.0L416.4 1111.3L418.6 1110.5L420.8 1109.8L422.9 1109.1L425.1 1108.4L427.3 1107.7L429.5 1107.0L431.6 1106.4L433.8 1105.7L436.0 1105.1L438.2 1104.5L440.4 1104.0L442.5 1103.4L444.7 1102.9L446.9 1102.3L449.1 1101.8L451.3 1101.3L453.4 1100.8L455.6 1100.3L457.8 1099.8L460.0 1099.4L462.1 1098.9L464.3 1098.5L466.5 1098.0L468.7 1097.6L470.9 1097.2L473.0 1096.8L475.2 1096.4L477.4 1096.0L479.6 1095.6L481.8 1095.2L483.9 1094.9L486.1 1094.5L488.3 1094.1L490.5 1093.8L492.7 1093.4L494.8 1093.1L497.0 1092.7L499.2 1092.4L501.4 1092.1L503.5 1091.7L505.7 1091.4L507.9 1091.0L510.1 1090.7L512.3 1090.4L514.4 1090.0L516.6 1089.7L518.8 1089.3L521.0 1089.0L523.2 1088.6L525.3 1088.3L527.5 1087.9L529.7 1087.6L531.9 1087.2L534.0 1086.9L536.2 1086.5L538.4 1086.1L540.6 1085.8L542.8 1085.4L544.9 1085.0L547.1 1084.6L549.3 1084.3L551.5 1083.9L553.7 1083.5L555.8 1083.1L558.0 1082.7L560.2 1082.3L562.4 1081.9L564.6 1081.5L566.7 1081.1L568.9 1080.7L571.1 1080.3L573.3 1079.9L575.4 1079.5L577.6 1079.1L579.8 1078.7L582.0 1078.3L584.2 1077.8L586.3 1077.4L588.5 1077.0L590.7 1076.6L592.9 1076.1L595.1 1075.7L597.2 1075.3L599.4 1074.8L601.6 1074.4L603.8 1073.9L605.9 1073.5L608.1 1073.1L610.3 1072.6L612.5 1072.2L614.7 1071.7L616.8 1071.2L619.0 1070.8L621.2 1070.3L623.4 1069.9L625.6 1069.4L627.7 1068.9L629.9 1068.5L632.1 1068.0L634.3 1067.5L636.5 1067.1L638.6 1066.6L640.8 1066.1L643.0 1065.6L645.2 1065.1L647.3 1064.7L649.5 1064.2L651.7 1063.7L653.9 1063.2L656.1 1062.7L658.2 1062.2L660.4 1061.7L662.6 1061.2L664.8 1060.7L667.0 1060.2L669.1 1059.7L671.3 1059.2L673.5 1058.7L675.7 1058.2L677.8 1057.7L680.0 1057.2L682.2 1056.7L684.4 1056.1L686.6 1055.6L688.7 1055.1L690.9 1054.6L693.1 1054.1L695.3 1053.5L697.5 1053.0L699.6 1052.5L701.8 1052.0L704.0 1051.4L706.2 1050.9L708.3 1050.4L710.5 1049.8L712.7 1049.3L714.9 1048.8L717.1 1048.2L719.2 1047.7L721.4 1047.1L723.6 1046.6L725.8 1046.0L728.0 1045.5L730.1 1044.9L732.3 1044.4L734.5 1043.8L736.7 1043.3L738.9 1042.7L741.0 1042.2L743.2 1041.6L745.4 1041.0L747.6 1040.5L749.7 1039.9L751.9 1039.3L754.1 1038.8L756.3 1038.2L758.5 1037.6L760.6 1037.1L762.8 1036.5L765.0 1035.9L767.2 1035.3L769.4 1034.7L771.5 1034.1L773.7 1033.6L775.9 1033.0L778.1 1032.4L780.2 1031.8L782.4 1031.2L784.6 1030.6L786.8 1030.0L789.0 1029.4L791.1 1028.8L793.3 1028.2L795.5 1027.6L797.7 1026.9L799.9 1026.3L802.0 1025.7L804.2 1025.1L806.4 1024.5L808.6 1023.8L810.8 1023.2L812.9 1022.6L815.1 1022.0L817.3 1021.3L819.5 1020.7L821.6 1020.1L823.8 1019.4L826.0 1018.8L828.2 1018.1L830.4 1017.5L832.5 1016.8L834.7 1016.2L836.9 1015.5L839.1 1014.9L841.3 1014.2L843.4 1013.6L845.6 1012.9L847.8 1012.2L850.0 1011.6L852.1 1010.9L854.3 1010.2L856.5 1009.6L858.7 1008.9L860.9 1008.2L863.0 1007.5L865.2 1006.8L867.4 1006.1L869.6 1005.5L871.8 1004.8L873.9 1004.1L876.1 1003.4L878.3 1002.7L880.5 1002.0L882.6 1001.3L884.8 1000.5L887.0 999.8L889.2 999.1L891.4 998.4L893.5 997.7L895.7 997.0L897.9 996.2L900.1 995.5L902.3 994.8L904.4 994.0L906.6 993.3L908.8 992.6L911.0 991.8L913.2 991.1L915.3 990.3L917.5 989.6L919.7 988.8L921.9 988.1L924.0 987.3L926.2 986.6L928.4 985.8L930.6 985.0L932.8 984.3L934.9 983.5L937.1 982.7L939.3 981.9L941.5 981.2L943.7 980.4L945.8 979.6L948.0 978.8L950.2 978.0L952.4 977.3L954.5 976.5L956.7 975.7L958.9 974.9L961.1 974.1L963.3 973.3L965.4 972.5L967.6 971.7L969.8 970.9L972.0 970.1L974.2 969.3L976.3 968.5L978.5 967.7L980.7 966.8L982.9 966.0L985.0 965.2L987.2 964.4L989.4 963.6L991.6 962.8L993.8 961.9L995.9 961.1L998.1 960.3L1000.3 959.5L1002.5 958.6L1004.7 957.8L1006.8 957.0L1009.0 956.1L1011.2 955.3L1013.4 954.5L1015.6 953.6L1017.7 952.8L1019.9 951.9L1022.1 951.1L1024.3 950.3L1026.4 949.4L1028.6 948.6L1030.8 947.7L1033.0 946.9L1035.2 946.0L1037.3 945.2L1039.5 944.3L1041.7 943.5L1043.9 942.6L1046.1 941.8L1048.2 940.9L1050.4 940.0L1052.6 939.2L1054.8 938.3L1056.9 937.5L1059.1 936.6L1061.3 935.7L1063.5 934.9L1065.7 934.0L1067.8 933.1L1070.0 932.2L1072.2 931.4L1074.4 930.5L1076.6 929.6L1078.7 928.7L1080.9 927.9L1083.1 927.0L1085.3 926.1L1087.5 925.2L1089.6 924.3L1091.8 923.4L1094.0 922.5L1096.2 921.7L1098.3 920.8L1100.5 919.9L1102.7 919.0L1104.9 918.1L1107.1 917.2L1109.2 916.3L1111.4 915.4L1113.6 914.5L1115.8 913.6L1118.0 912.7L1120.1 911.8L1122.3 910.9L1124.5 910.0L1126.7 909.1L1128.8 908.1L1131.0 907.2L1133.2 906.3L1135.4 905.4L1137.6 904.5L1139.7 903.6L1141.9 902.7L1144.1 901.7L1146.3 900.8L1148.5 899.9L1150.6 899.0L1152.8 898.0L1155.0 897.1L1157.2 896.2L1159.3 895.3L1161.5 894.3L1163.7 893.4L1165.9 892.5L1168.1 891.5L1170.2 890.6L1172.4 889.6L1174.6 888.7L1176.8 887.8L1179.0 886.8L1181.1 885.9L1183.3 884.9L1185.5 884.0L1187.7 883.0L1189.9 882.1L1192.0 881.1L1194.2 880.2L1196.4 879.2L1198.6 878.3L1200.7 877.3L1202.9 876.4L1205.1 875.4L1207.3 874.5L1209.5 873.5L1211.6 872.5L1213.8 871.6L1216.0 870.6L1218.2 869.6L1220.4 868.7L1222.5 867.7L1224.7 866.7L1226.9 865.8L1229.1 864.8L1231.2 863.8L1233.4 862.8L1235.6 861.9L1237.8 860.9L1240.0 859.9L1242.1 858.9L1244.3 857.9L1246.5 857.0L1248.7 856.0L1250.9 855.0L1253.0 854.0L1255.2 853.0L1257.4 852.0L1259.6 851.0L1261.8 850.0L1263.9 849.0L1266.1 848.0L1268.3 847.0L1270.5 846.0L1272.6 845.0L1274.8 844.0L1277.0 843.0L1279.2 842.0L1281.4 841.0L1283.5 840.0L1285.7 839.0L1287.9 838.0L1290.1 837.0L1292.3 836.0L1294.4 835.0L1296.6 834.0L1298.8 833.0L1301.0 831.9L1303.1 830.9L1305.3 829.9L1307.5 828.9L1309.7 827.9L1311.9 826.8L1314.0 825.8L1316.2 824.8L1318.4 823.8L1320.6 822.7L1322.8 821.7L1324.9 820.7L1327.1 819.6L1329.3 818.6L1331.5 817.6L1333.7 816.5L1335.8 815.5L1338.0 814.5L1340.2 813.4L1342.4 812.4L1344.5 811.4L1346.7 810.3L1348.9 809.3L1351.1 808.2L1353.3 807.2L1355.4 806.1L1357.6 805.1L1359.8 804.0L1362.0 803.0L1364.2 801.9L1366.3 800.9L1368.5 799.8L1370.7 798.8L1372.9 797.7L1375.0 796.6L1377.2 795.6L1379.4 794.5L1381.6 793.5L1383.8 792.4L1385.9 791.3L1388.1 790.3L1390.3 789.2L1392.5 788.1L1394.7 787.1L1396.8 786.0L1399.0 784.9L1401.2 783.8L1403.4 782.8L1405.5 781.7L1407.7 780.6L1409.9 779.5L1412.1 778.5L1414.3 777.4L1416.4 776.3L1418.6 775.2L1420.8 774.1L1423.0 773.0L1425.2 771.9L1427.3 770.9L1429.5 769.8L1431.7 768.7L1433.9 767.6L1436.1 766.5L1438.2 765.4L1440.4 764.3L1442.6 763.2L1444.8 762.1L1446.9 761.0L1449.1 759.9L1451.3 758.8L1453.5 757.7L1455.7 756.6L1457.8 755.5L1460.0 754.4L1462.2 753.3L1464.4 752.2L1466.6 751.1L1468.7 750.0L1470.9 748.8L1473.1 747.7L1475.3 746.6L1477.4 745.5L1479.6 744.4L1481.8 743.3L1484.0 742.1L1486.2 741.0L1488.3 739.9L1490.5 738.8L1492.7 737.7L1494.9 736.5L1497.1 735.4L1499.2 734.3L1501.4 733.1L1503.6 732.0L1505.8 730.9L1508.0 729.7L1510.1 728.6L1512.3 727.5L1514.5 726.3L1516.7 725.2L1518.8 724.1L1521.0 722.9L1523.2 721.8L1525.4 720.6L1527.6 719.5L1529.7 718.4L1531.9 717.2L1534.1 716.1L1536.3 714.9L1538.5 713.8L1540.6 712.6L1542.8 711.5L1545.0 710.3L1547.2 709.2L1549.3 708.0L1551.5 706.9L1553.7 705.7L1555.9 704.5L1558.1 703.4L1560.2 702.2L1562.4 701.1L1564.6 699.9L1566.8 698.7L1569.0 697.6L1571.1 696.4L1573.3 695.2L1575.5 694.1L1577.7 692.9L1579.8 691.7L1582.0 690.6L1584.2 689.4L1586.4 688.2L1588.6 687.0L1590.7 685.9L1592.9 684.7L1595.1 683.5L1597.3 682.3L1599.5 681.2L1601.6 680.0L1603.8 678.8L1606.0 677.6L1608.2 676.4L1610.4 675.2L1612.5 674.0L1614.7 672.9L1616.9 671.7L1619.1 670.5L1621.2 669.3L1623.4 668.1L1625.6 666.9L1627.8 665.7L1630.0 664.5L1632.1 663.3L1634.3 662.1L1636.5 660.9L1638.7 659.7L1640.9 658.5L1643.0 657.3L1645.2 656.1L1647.4 654.9L1649.6 653.7L1651.7 652.5L1653.9 651.3L1656.1 650.1L1658.3 648.9L1660.5 647.7L1662.6 646.5L1664.8 645.2L1667.0 644.0L1669.2 642.8L1671.4 641.6L1673.5 640.4L1675.7 639.2L1677.9 637.9L1680.1 636.7L1682.2 635.5L1684.4 634.3L1686.6 633.0L1688.8 631.8L1691.0 630.6L1693.1 629.4L1695.3 628.1L1697.5 626.9L1699.7 625.7L1701.9 624.5L1704.0 623.2L1706.2 622.0L1708.4 620.8L1710.6 619.5L1712.8 618.3L1714.9 617.0L1717.1 615.8L1719.3 614.6L1721.5 613.3L1723.6 612.1L1725.8 610.8L1728.0 609.6L1730.2 608.4L1732.4 607.1L1734.5 605.9L1736.7 604.6L1738.9 603.4L1741.1 602.1L1743.3 600.9L1745.4 599.6L1747.6 598.4L1749.8 597.1L1752.0 595.8L1754.1 594.6L1756.3 593.3L1758.5 592.1L1760.7 590.8L1762.9 589.5L1765.0 588.3L1767.2 587.0L1769.4 585.8L1771.6 584.5L1773.8 583.2L1775.9 581.9L1778.1 580.7L1780.3 579.4L1782.5 578.1L1784.7 576.9L1786.8 575.6L1789.0 574.3L1791.2 573.0L1793.4 571.8L1795.5 570.5L1797.7 569.2L1799.9 567.9L1802.1 566.6L1804.3 565.3L1806.4 564.1L1808.6 562.8L1810.8 561.5L1813.0 560.2L1815.2 558.9L1817.3 557.6L1819.5 556.3L1821.7 555.0L1823.9 553.7L1826.0 552.4L1828.2 551.1L1830.4 549.8L1832.6 548.5L1834.8 547.2L1836.9 545.9L1839.1 544.6L1841.3 543.3L1843.5 542.0L1845.7 540.7L1847.8 539.4L1850.0 538.1L1852.2 536.8L1854.4 535.4L1856.5 534.1L1858.7 532.8L1860.9 531.5L1863.1 530.2L1865.3 528.9L1867.4 527.5L1869.6 526.2L1871.8 524.9L1874.0 523.6L1876.2 522.2L1878.3 520.9L1880.5 519.6L1882.7 518.2L1884.9 516.9L1887.1 515.6L1889.2 514.2L1891.4 512.9L1893.6 511.6L1895.8 510.2L1897.9 508.9L1900.1 507.5L1902.3 506.2L1904.5 504.9L1906.7 503.5L1908.8 502.2L1911.0 500.8L1913.2 499.5L1915.4 498.1L1917.6 496.8L1919.7 495.4L1921.9 494.0L1924.1 492.7L1926.3 491.3L1928.4 490.0L1930.6 488.6L1932.8 487.2L1935.0 485.9L1937.2 484.5L1939.3 483.1L1941.5 481.8L1943.7 480.4L1945.9 479.0L1948.1 477.7L1950.2 476.3L1952.4 474.9L1954.6 473.5L1956.8 472.2L1959.0 470.8L1961.1 469.4L1963.3 468.0L1965.5 466.6L1967.7 465.2L1969.8 463.8L1972.0 462.5L1974.2 461.1L1976.4 459.7L1978.6 458.3L1980.7 456.9L1982.9 455.5L1985.1 454.1L1987.3 452.7L1989.5 451.3L1991.6 449.9L1993.8 448.5L1996.0 447.1L1998.2 445.7L2000.3 444.2L2002.5 442.8L2004.7 441.4L2006.9 440.0L2009.1 438.6L2011.2 437.2L2013.4 435.8L2015.6 434.3L2017.8 432.9L2020.0 431.5L2022.1 430.1L2024.3 428.7L2026.5 427.3L2028.7 425.9L2030.8 424.5L2033.0 423.0L2035.2 421.6L2037.4 420.2L2039.6 418.8L2041.7 417.4L2043.9 416.0L2046.1 414.6L2048.3 413.2L2050.5 411.9L2052.6 410.5L2054.8 409.1L2057.0 407.7L2059.2 406.3L2061.4 405.0L2063.5 403.6L2065.7 402.3L2067.9 400.9L2070.1 399.6L2072.2 398.2L2074.4 396.9L2076.6 395.6L2078.8 394.2L2081.0 392.9L2083.1 391.6L2085.3 390.3L2087.5 389.0L2089.7 387.7L2091.9 386.5L2094.0 385.2L2096.2 383.9L2098.4 382.7L2100.6 381.4L2102.7 380.2L2104.9 379.0L2107.1 377.7L2109.3 376.5L2111.5 375.3L2113.6 374.1L2115.8 373.0L2118.0 371.8" fill="none" stroke="#00cc00" stroke-width="2"/>
<path d="M374.0 1462.8L383.5 1475.0L364.5 1475.0zM375.0 1122.0L384.5 1134.3L365.5 1134.3zM377.2 1120.9L386.7 1133.2L367.7 1133.2zM379.4 1119.8L388.9 1132.1L369.9 1132.1zM381.5 1118.8L391.0 1131.1L372.0 1131.1zM383.7 1117.8L393.2 1130.1L374.2 1130.1zM385.9 1116.7L395.4 1129.0L376.4 1129.0zM388.1 1115.7L397.6 1128.0L378.6 1128.0zM390.3 1114.7L399.8 1127.0L380.8 1127.0zM392.4 1113.8L401.9 1126.1L382.9 1126.1zM394.6 1112.8L404.1 1125.1L385.1 1125.1zM396.8 1111.9L406.3 1124.2L387.3 1124.2zM399.0 1111.0L408.5 1123.3L389.5 1123.3zM401.1 1110.1L410.6 1122.4L391.6 1122.4zM403.3 1109.2L412.8 1121.5L393.8 1121.5zM405.5 1108.3L415.0 1120.6L396.0 1120.6zM407.7 1107.5L417.2 1119.8L398.2 1119.8zM409.9 1106.6L419.4 1118.9L400.4 1118.9zM412.0 1105.8L421.5 1118.1L402.5 1118.1zM414.2 1105.0L423.7 1117.3L404.7 1117.3zM416.4 1104.3L425.9 1116.6L406.9 1116.6zM418.6 1103.5L428.1 1115.8L409.1 1115.8zM420.8 1102.8L430.3 1115.1L411.3 1115.1zM422.9 1102.1L432.4 1114.4L413.4 1114.4zM425.1 1101.4L434.6 1113.7L415.6 1113.7zM427.3 1100.7L436.8 1113.0L417.8 1113.0zM429.5 1100.0L439.0 1112.3L420.0 1112.3zM431.6 1099.4L441.1 1111.7L422.1 1111.7zM433.8 1098.7L443.3 1111.0L424.3 1111.0zM436.0 1098.1L445.5 1110.4L426.5 1110.4zM438.2 1097.5L447.7 1109.8L428.7 1109.8zM440.4 1097.0L449.9 1109.3L430.9 1109.3zM442.5 1096.4L452.0 1108.7L433.0 1108.7zM444.7 1095.9L454.2 1108.2L435.2 1108.2zM446.9 1095.3L456.4 1107.6L437.4 1107.6zM449.1 1094.8L458.6 1107.1L439.6 1107.1zM451.3 1094.3L460.8 1106.6L441.8 1106.6zM453.4 1093.8L462.9 1106.1L443.9 1106.1zM455.6 1093.3L465.1 1105.6L446.1 1105.6zM457.8 1092.8L467.3 1105.1L448.3 1105.1zM460.0 1092.4L469.5 1104.7L450.5 1104.7zM462.1 1091.9L471.6 1104.2L452.6 1104.2zM464.3 1091.5L473.8 1103.8L454.8 1103.8zM466.5 1091.0L476.0 1103.3L457.0 1103.3zM468.7 1090.6L478.2 1102.9L459.2 1102.9zM470.9 1090.2L480.4 1102.5L461.4 1102.5zM473.0 1089.8L482.5 1102.1L463.5 1102.1zM475.2 1089.4L484.7 1101.7L465.7 1101.7zM477.4 1089.0L486.9 1101.3L467.9 1101.3zM479.6 1088.6L489.1 1100.9L470.1 1100.9zM481.8 1088.2L491.3 1100.5L472.3 1100.5zM483.9 1087.9L493.4 1100.2L474.4 1100.2zM486.1 1087.5L495.6 1099.8L476.6 1099.8zM488.3 1087.1L497.8 1099.4L478.8 1099.4zM490.5 1086.8L500.0 1099.1L481.0 1099.1zM492.7 1086.4L502.2 1098.7L483.2 1098.7zM494.8 1086.1L504.3 1098.4L485.3 1098.4zM497.0 1085.7L506.5 1098.0L487.5 1098.0zM499.2 1085.4L508.7 1097.7L489.7 1097.7zM501.4 1085.1L510.9 1097.4L491.9 1097.4zM503.5 1084.7L513.0 1097.0L494.0 1097.0zM505.7 1084.4L515.2 1096.7L496.2 1096.7zM507.9 1084.0L517.4 1096.3L498.4 1096.3zM510.1 1083.7L519.6 1096.0L500.6 1096.0zM512.3 1083.4L521.8 1095.7L502.8 1095.7zM514.4 1083.0L523.9 1095.3L504.9 1095.3zM516.6 1082.7L526.1 1095.0L507.1 1095.0zM518.8 1082.3L528.3 1094.6L509.3 1094.6zM521.0 1082.0L530.5 1094.3L511.5 1094.3zM523.2 1081.6L532.7 1093.9L513.7 1093.9zM525.3 1081.3L534.8 1093.6L515.8 1093.6zM527.5 1080.9L537.0 1093.2L518.0 1093.2zM529.7 1080.6L539.2 1092.9L520.2 1092.9zM531.9 1080.2L541.4 1092.5L522.4 1092.5zM534.0 1079.9L543.5 1092.2L524.5 1092.2zM536.2 1079.5L545.7 1091.8L526.7 1091.8zM538.4 1079.1L547.9 1091.4L528.9 1091.4zM540.6 1078.8L550.1 1091.1L531.1 1091.1zM542.8 1078.4L552.3 1090.7L533.3 1090.7zM544.9 1078.0L554.4 1090.3L535.4 1090.3zM547.1 1077.6L556.6 1089.9L537.6 1089.9zM549.3 1077.3L558.8 1089.6L539.8 1089.6zM551.5 1076.9L561.0 1089.2L542.0 1089.2zM553.7 1076.5L563.2 1088.8L544.2 1088.8zM555.8 1076.1L565.3 1088.4L546.3 1088.4zM558.0 1075.7L567.5 1088.0L548.5 1088.0zM560.2 1075.3L569.7 1087.6L550.7 1087.6zM562.4 1074.9L571.9 1087.2L552.9 1087.2zM564.6 1074.5L574.1 1086.8L555.1 1086.8zM566.7 1074.1L576.2 1086.4L557.2 1086.4zM568.9 1073.7L578.4 1086.0L559.4 1086.0zM571.1 1073.3L580.6 1085.6L561.6 1085.6zM573.3 1072.9L582.8 1085.2L563.8 1085.2zM575.4 1072.5L584.9 1084.8L565.9 1084.8zM577.6 1072.1L587.1 1084.4L568.1 1084.4zM579.8 1071.7L589.3 1084.0L570.3 1084.0zM582.0 1071.3L591.5 1083.6L572.5 1083.6zM584.2 1070.8L593.7 1083.1L574.7 1083.1zM586.3 1070.4L595.8 1082.7L576.8 1082.7zM588.5 1070.0L598.0 1082.3L579.0 1082.3zM590.7 1069.6L600.2 1081.9L581.2 1081.9zM592.9 1069.1L602.4 1081.4L583.4 1081.4zM595.1 1068.7L604.6 1081.0L585.6 1081.0zM597.2 1068.3L606.7 1080.6L587.7 1080.6zM599.4 1067.8L608.9 1080.1L589.9 1080.1zM601.6 1067.4L611.1 1079.7L592.1 1079.7zM603.8 1066.9L613.3 1079.2L594.3 1079.2zM605.9 1066.5L615.4 1078.8L596.4 1078.8zM608.1 1066.1L617.6 1078.4L598.6 1078.4zM610.3 1065.6L619.8 1077.9L600.8 1077.9zM612.5 1065.2L622.0 1077.5L603.0 1077.5zM614.7 1064.7L624.2 1077.0L605.2 1077.0zM616.8 1064.2L626.3 1076.5L607.3 1076.5zM619.0 1063.8L628.5 1076.1L609.5 1076.1zM621.2 1063.3L630.7 1075.6L611.7 1075.6zM623.4 1062.9L632.9 1075.2L613.9 1075.2zM625.6 1062.4L635.1 1074.7L616.1 1074.7zM627.7 1061.9L637.2 1074.2L618.2 1074.2zM629.9 1061.5L639.4 1073.8L620.4 1073.8zM632.1 1061.0L641.6 1073.3L622.6 1073.3zM634.3 1060.5L643.8 1072.8L624.8 1072.8zM636.5 1060.1L646.0 1072.4L627.0 1072.4zM638.6 1059.6L648.1 1071.9L629.1 1071.9zM640.8 1059.1L650.3 1071.4L631.3 1071.4zM643.0 1058.6L652.5 1070.9L633.5 1070.9zM645.2 1058.1L654.7 1070.4L635.7 1070.4zM647.3 1057.7L656.8 1070.0L637.8 1070.0zM649.5 1057.2L659.0 1069.5L640.0 1069.5zM651.7 1056.7L661.2 1069.0L642.2 1069.0zM653.9 1056.2L663.4 1068.5L644.4 1068.5zM656.1 1055.7L665.6 1068.0L646.6 1068.0zM658.2 1055.2L667.7 1067.5L648.7 1067.5zM660.4 1054.7L669.9 1067.0L650.9 1067.0zM662.6 1054.2L672.1 1066.5L653.1 1066.5zM664.8 1053.7L674.3 1066.0L655.3 1066.0zM667.0 1053.2L676.5 1065.5L657.5 1065.5zM669.1 1052.7L678.6 1065.0L659.6 1065.0zM671.3 1052.2L680.8 1064.5L661.8 1064.5zM673.5 1051.7L683.0 1064.0L664.0 1064.0zM675.7 1051.2L685.2 1063.5L666.2 1063.5zM677.8 1050.7L687.3 1063.0L668.3 1063.0zM680.0 1050.2L689.5 1062.5L670.5 1062.5zM682.2 1049.7L691.7 1062.0L672.7 1062.0zM684.4 1049.1L693.9 1061.4L674.9 1061.4zM686.6 1048.6L696.1 1060.9L677.1 1060.9zM688.7 1048.1L698.2 1060.4L679.2 1060.4zM690.9 1047.6L700.4 1059.9L681.4 1059.9zM693.1 1047.1L702.6 1059.4L683.6 1059.4zM695.3 1046.5L704.8 1058.8L685.8 1058.8zM697.5 1046.0L707.0 1058.3L688.0 1058.3zM699.6 1045.5L709.1 1057.8L690.1 1057.8zM701.8 1045.0L711.3 1057.3L692.3 1057.3zM704.0 1044.4L713.5 1056.7L694.5 1056.7zM706.2 1043.9L715.7 1056.2L696.7 1056.2zM708.3 1043.4L717.8 1055.7L698.8 1055.7zM710.5 1042.8L720.0 1055.1L701.0 1055.1zM712.7 1042.3L722.2 1054.6L703.2 1054.6zM714.9 1041.8L724.4 1054.1L705.4 1054.1zM717.1 1041.2L726.6 1053.5L707.6 1053.5zM719.2 1040.7L728.7 1053.0L709.7 1053.0zM721.4 1040.1L730.9 1052.4L711.9 1052.4zM723.6 1039.6L733.1 1051.9L714.1 1051.9zM725.8 1039.0L735.3 1051.3L716.3 1051.3zM728.0 1038.5L737.5 1050.8L718.5 1050.8zM730.1 1037.9L739.6 1050.2L720.6 1050.2zM732.3 1037.4L741.8 1049.7L722.8 1049.7zM734.5 1036.8L744.0 1049.1L725.0 1049.1zM736.7 1036.3L746.2 1048.6L727.2 1048.6zM738.9 1035.7L748.4 1048.0L729.4 1048.0zM741.0 1035.2L750.5 1047.5L731.5 1047.5zM743.2 1034.6L752.7 1046.9L733.7 1046.9zM745.4 1034.0L754.9 1046.3L735.9 1046.3zM747.6 1033.5L757.1 1045.8L738.1 1045.8zM749.7 1032.9L759.2 1045.2L740.2 1045.2zM751.9 1032.3L761.4 1044.6L742.4 1044.6zM754.1 1031.8L763.6 1044.1L744.6 1044.1zM756.3 1031.2L765.8 1043.5L746.8 1043.5zM758.5 1030.6L768.0 1042.9L749.0 1042.9zM760.6 1030.1L770.1 1042.4L751.1 1042.4zM762.8 1029.5L772.3 1041.8L753.3 1041.8zM765.0 1028.9L774.5 1041.2L755.5 1041.2zM767.2 1028.3L776.7 1040.6L757.7 1040.6zM769.4 1027.7L778.9 1040.0L759.9 1040.0zM771.5 1027.1L781.0 1039.4L762.0 1039.4zM773.7 1026.6L783.2 1038.9L764.2 1038.9zM775.9 1026.0L785.4 1038.3L766.4 1038.3zM778.1 1025.4L787.6 1037.7L768.6 1037.7zM780.2 1024.8L789.7 1037.1L770.7 1037.1zM782.4 1024.2L791.9 1036.5L772.9 1036.5zM784.6 1023.6L794.1 1035.9L775.1 1035.9zM786.8 1023.0L796.3 1035.3L777.3 1035.3zM789.0 1022.4L798.5 1034.7L779.5 1034.7zM791.1 1021.8L800.6 1034.1L781.6 1034.1zM793.3 1021.2L802.8 1033.5L783.8 1033.5zM795.5 1020.6L805.0 1032.9L786.0 1032.9zM797.7 1019.9L807.2 1032.2L788.2 1032.2zM799.9 1019.3L809.4 1031.6L790.4 1031.6zM802.0 1018.7L811.5 1031.0L792.5 1031.0zM804.2 1018.1L813.7 1030.4L794.7 1030.4zM806.4 1017.5L815.9 1029.8L796.9 1029.8zM808.6 1016.8L818.1 1029.1L799.1 1029.1zM810.8 1016.2L820.2 1028.5L801.2 1028.5zM812.9 1015.6L822.4 1027.9L803.4 1027.9zM815.1 1015.0L824.6 1027.3L805.6 1027.3zM817.3 1014.3L826.8 1026.6L807.8 1026.6zM819.5 1013.7L829.0 1026.0L810.0 1026.0zM821.6 1013.1L831.1 1025.4L812.1 1025.4zM823.8 1012.4L833.3 1024.7L814.3 1024.7zM826.0 1011.8L835.5 1024.1L816.5 1024.1zM828.2 1011.1L837.7 1023.4L818.7 1023.4zM830.4 1010.5L839.9 1022.8L820.9 1022.8zM832.5 1009.8L842.0 1022.1L823.0 1022.1zM834.7 1009.2L844.2 1021.5L825.2 1021.5zM836.9 1008.5L846.4 1020.8L827.4 1020.8zM839.1 1007.9L848.6 1020.2L829.6 1020.2zM841.3 1007.2L850.8 1019.5L831.8 1019.5zM843.4 1006.6L852.9 1018.9L833.9 1018.9zM845.6 1005.9L855.1 1018.2L836.1 1018.2zM847.8 1005.2L857.3 1017.5L838.3 1017.5zM850.0 1004.6L859.5 1016.9L840.5 1016.9zM852.1 1003.9L861.6 1016.2L842.6 1016.2zM854.3 1003.2L863.8 1015.5L844.8 1015.5zM856.5 1002.6L866.0 1014.9L847.0 1014.9zM858.7 1001.9L868.2 1014.2L849.2 1014.2zM860.9 1001.2L870.4 1013.5L851.4 1013.5zM863.0 1000.5L872.5 1012.8L853.5 1012.8zM865.2 999.8L874.7 1012.1L855.7 1012.1zM867.4 999.1L876.9 1011.4L857.9 1011.4zM869.6 998.5L879.1 1010.8L860.1 1010.8zM871.8 997.8L881.3 1010.1L862.3 1010.1zM873.9 997.1L883.4 1009.4L864.4 1009.4zM876.1 996.4L885.6 1008.7L866.6 1008.7zM878.3 995.7L887.8 1008.0L868.8 1008.0zM880.5 995.0L890.0 1007.3L871.0 1007.3zM882.6 994.3L892.1 1006.6L873.1 1006.6zM884.8 993.5L894.3 1005.8L875.3 1005.8zM887.0 992.8L896.5 1005.1L877.5 1005.1zM889.2 992.1L898.7 1004.4L879.7 1004.4zM891.4 991.4L900.9 1003.7L881.9 1003.7zM893.5 990.7L903.0 1003.0L884.0 1003.0zM895.7 990.0L905.2 1002.3L886.2 1002.3zM897.9 989.2L907.4 1001.5L888.4 1001.5zM900.1 988.5L909.6 1000.8L890.6 1000.8zM902.3 987.8L911.8 1000.1L892.8 1000.1zM904.4 987.0L913.9 999.3L894.9 999.3zM906.6 986.3L916.1 998.6L897.1 998.6zM908.8 985.6L918.3 997.9L899.3 997.9zM911.0 984.8L920.5 997.1L901.5 997.1zM913.2 984.1L922.7 996.4L903.7 996.4zM915.3 983.3L924.8 995.6L905.8 995.6zM917.5 982.6L927.0 994.9L908.0 994.9zM919.7 981.8L929.2 994.1L910.2 994.1zM921.9 981.1L931.4 993.4L912.4 993.4zM924.0 980.3L933.5 992.6L914.5 992.6zM926.2 979.6L935.7 991.9L916.7 991.9zM928.4 978.8L937.9 991.1L918.9 991.1zM930.6 978.0L940.1 990.3L921.1 990.3zM932.8 977.3L942.3 989.6L923.3 989.6zM934.9 976.5L944.4 988.8L925.4 988.8zM937.1 975.7L946.6 988.0L927.6 988.0zM939.3 974.9L948.8 987.2L929.8 987.2zM941.5 974.2L951.0 986.5L932.0 986.5zM943.7 973.4L953.2 985.7L934.2 985.7zM945.8 972.6L955.3 984.9L936.3 984.9zM948.0 971.8L957.5 984.1L938.5 984.1zM950.2 971.0L959.7 983.3L940.7 983.3zM952.4 970.3L961.9 982.6L942.9 982.6zM954.5 969.5L964.0 981.8L945.0 981.8zM956.7 968.7L966.2 981.0L947.2 981.0zM958.9 967.9L968.4 980.2L949.4 980.2zM961.1 967.1L970.6 979.4L951.6 979.4zM963.3 966.3L972.8 978.6L953.8 978.6zM965.4 965.5L974.9 977.8L955.9 977.8zM967.6 964.7L977.1 977.0L958.1 977.0zM969.8 963.9L979.3 976.2L960.3 976.2zM972.0 963.1L981.5 975.4L962.5 975.4zM974.2 962.3L983.7 974.6L964.7 974.6zM976.3 961.5L985.8 973.8L966.8 973.8zM978.5 960.7L988.0 973.0L969.0 973.0zM980.7 959.8L990.2 972.1L971.2 972.1zM982.9 959.0L992.4 971.3L973.4 971.3zM985.0 958.2L994.5 970.5L975.5 970.5zM987.2 957.4L996.7 969.7L977.7 969.7zM989.4 956.6L998.9 968.9L979.9 968.9zM991.6 955.8L1001.1 968.1L982.1 968.1zM993.8 954.9L1003.3 967.2L984.3 967.2zM995.9 954.1L1005.4 966.4L986.4 966.4zM998.1 953.3L1007.6 965.6L988.6 965.6zM1000.3 952.5L1009.8 964.8L990.8 964.8zM1002.5 951.6L1012.0 963.9L993.0 963.9zM1004.7 950.8L1014.2 963.1L995.2 963.1zM1006.8 950.0L1016.3 962.3L997.3 962.3zM1009.0 949.1L1018.5 961.4L999.5 961.4zM1011.2 948.3L1020.7 960.6L1001.7 960.6zM1013.4 947.5L1022.9 959.8L1003.9 959.8zM1015.6 946.6L1025.1 958.9L1006.1 958.9zM1017.7 945.8L1027.2 958.1L1008.2 958.1zM1019.9 944.9L1029.4 957.2L1010.4 957.2zM1022.1 944.1L1031.6 956.4L1012.6 956.4zM1024.3 943.3L1033.8 955.6L1014.8 955.6zM1026.4 942.4L1035.9 954.7L1016.9 954.7zM1028.6 941.6L1038.1 953.9L1019.1 953.9zM1030.8 940.7L1040.3 953.0L1021.3 953.0zM1033.0 939.9L1042.5 952.2L1023.5 952.2zM1035.2 939.0L1044.7 951.3L1025.7 951.3zM1037.3 938.2L1046.8 950.5L1027.8 950.5zM1039.5 937.3L1049.0 949.6L1030.0 949.6zM1041.7 936.5L1051.2 948.8L1032.2 948.8zM1043.9 935.6L1053.4 947.9L1034.4 947.9zM1046.1 934.8L1055.6 947.1L1036.6 947.1zM1048.2 933.9L1057.7 946.2L1038.7 946.2zM1050.4 933.0L1059.9 945.3L1040.9 945.3zM1052.6 932.2L1062.1 944.5L1043.1 944.5zM1054.8 931.3L1064.3 943.6L1045.3 943.6zM1056.9 930.5L1066.4 942.8L1047.4 942.8zM1059.1 929.6L1068.6 941.9L1049.6 941.9zM1061.3 928.7L1070.8 941.0L1051.8 941.0zM1063.5 927.9L1073.0 940.2L1054.0 940.2zM1065.7 927.0L1075.2 939.3L1056.2 939.3zM1067.8 926.1L1077.3 938.4L1058.3 938.4zM1070.0 925.2L1079.5 937.5L1060.5 937.5zM1072.2 924.4L1081.7 936.7L1062.7 936.7zM1074.4 923.5L1083.9 935.8L1064.9 935.8zM1076.6 922.6L1086.1 934.9L1067.1 934.9zM1078.7 921.7L1088.2 934.0L1069.2 934.0zM1080.9 920.9L1090.4 933.2L1071.4 933.2zM1083.1 920.0L1092.6 932.3L1073.6 932.3zM1085.3 919.1L1094.8 931.4L1075.8 931.4zM1087.5 918.2L1097.0 930.5L1078.0 930.5zM1089.6 917.3L1099.1 929.6L1080.1 929.6zM1091.8 916.4L1101.3 928.7L1082.3 928.7zM1094.0 915.5L1103.5 927.8L1084.5 927.8zM1096.2 914.7L1105.7 927.0L1086.7 927.0zM1098.3 913.8L1107.8 926.1L1088.8 926.1zM1100.5 912.9L1110.0 925.2L1091.0 925.2zM1102.7 912.0L1112.2 924.3L1093.2 924.3zM1104.9 911.1L1114.4 923.4L1095.4 923.4zM1107.1 910.2L1116.6 922.5L1097.6 922.5zM1109.2 909.3L1118.7 921.6L1099.7 921.6zM1111.4 908.4L1120.9 920.7L1101.9 920.7zM1113.6 907.5L1123.1 919.8L1104.1 919.8zM1115.8 906.6L1125.3 918.9L1106.3 918.9zM1118.0 905.7L1127.5 918.0L1108.5 918.0zM1120.1 904.8L1129.6 917.1L1110.6 917.1zM1122.3 903.9L1131.8 916.2L1112.8 916.2zM1124.5 903.0L1134.0 915.3L1115.0 915.3zM1126.7 902.1L1136.2 914.4L1117.2 914.4zM1128.8 901.1L1138.3 913.4L1119.3 913.4zM1131.0 900.2L1140.5 912.5L1121.5 912.5zM1133.2 899.3L1142.7 911.6L1123.7 911.6zM1135.4 898.4L1144.9 910.7L1125.9 910.7zM1137.6 897.5L1147.1 909.8L1128.1 909.8zM1139.7 896.6L1149.2 908.9L1130.2 908.9zM1141.9 895.7L1151.4 908.0L1132.4 908.0zM1144.1 894.7L1153.6 907.0L1134.6 907.0zM1146.3 893.8L1155.8 906.1L1136.8 906.1zM1148.5 892.9L1158.0 905.2L1139.0 905.2zM1150.6 892.0L1160.1 904.3L1141.1 904.3zM1152.8 891.0L1162.3 903.3L1143.3 903.3zM1155.0 890.1L1164.5 902.4L1145.5 902.4zM1157.2 889.2L1166.7 901.5L1147.7 901.5zM1159.3 888.3L1168.8 900.6L1149.8 900.6zM1161.5 887.3L1171.0 899.6L1152.0 899.6zM1163.7 886.4L1173.2 898.7L1154.2 898.7zM1165.9 885.5L1175.4 897.8L1156.4 897.8zM1168.1 884.5L1177.6 896.8L1158.6 896.8zM1170.2 883.6L1179.7 895.9L1160.7 895.9zM1172.4 882.6L1181.9 894.9L1162.9 894.9zM1174.6 881.7L1184.1 894.0L1165.1 894.0zM1176.8 880.8L1186.3 893.1L1167.3 893.1zM1179.0 879.8L1188.5 892.1L1169.5 892.1zM1181.1 878.9L1190.6 891.2L1171.6 891.2zM1183.3 877.9L1192.8 890.2L1173.8 890.2zM1185.5 877.0L1195.0 889.3L1176.0 889.3zM1187.7 876.0L1197.2 888.3L1178.2 888.3zM1189.9 875.1L1199.4 887.4L1180.4 887.4zM1192.0 874.1L1201.5 886.4L1182.5 886.4zM1194.2 873.2L1203.7 885.5L1184.7 885.5zM1196.4 872.2L1205.9 884.5L1186.9 884.5zM1198.6 871.3L1208.1 883.6L1189.1 883.6zM1200.7 870.3L1210.2 882.6L1191.2 882.6zM1202.9 869.4L1212.4 881.7L1193.4 881.7zM1205.1 868.4L1214.6 880.7L1195.6 880.7zM1207.3 867.5L1216.8 879.8L1197.8 879.8zM1209.5 866.5L1219.0 878.8L1200.0 878.8zM1211.6 865.5L1221.1 877.8L1202.1 877.8zM1213.8 864.6L1223.3 876.9L1204.3 876.9zM1216.0 863.6L1225.5 875.9L1206.5 875.9zM1218.2 862.6L1227.7 874.9L1208.7 874.9zM1220.4 861.7L1229.9 874.0L1210.9 874.0zM1222.5 860.7L1232.0 873.0L1213.0 873.0zM1224.7 859.7L1234.2 872.0L1215.2 872.0zM1226.9 858.8L1236.4 871.1L1217.4 871.1zM1229.1 857.8L1238.6 870.1L1219.6 870.1zM1231.2 856.8L1240.7 869.1L1221.7 869.1zM1233.4 855.8L1242.9 868.1L1223.9 868.1zM1235.6 854.9L1245.1 867.2L1226.1 867.2zM1237.8 853.9L1247.3 866.2L1228.3 866.2zM1240.0 852.9L1249.5 865.2L1230.5 865.2zM1242.1 851.9L1251.6 864.2L1232.6 864.2zM1244.3 850.9L1253.8 863.2L1234.8 863.2zM1246.5 850.0L1256.0 862.3L1237.0 862.3zM1248.7 849.0L1258.2 861.3L1239.2 861.3zM1250.9 848.0L1260.4 860.3L1241.4 860.3zM1253.0 847.0L1262.5 859.3L1243.5 859.3zM1255.2 846.0L1264.7 858.3L1245.7 858.3zM1257.4 845.0L1266.9 857.3L1247.9 857.3zM1259.6 844.0L1269.1 856.3L1250.1 856.3zM1261.8 843.0L1271.3 855.3L1252.3 855.3zM1263.9 842.0L1273.4 854.3L1254.4 854.3zM1266.1 841.0L1275.6 853.3L1256.6 853.3zM1268.3 840.0L1277.8 852.3L1258.8 852.3zM1270.5 839.0L1280.0 851.3L1261.0 851.3zM1272.6 838.0L1282.1 850.3L1263.1 850.3zM1274.8 837.0L1284.3 849.3L1265.3 849.3zM1277.0 836.0L1286.5 848.3L1267.5 848.3zM1279.2 835.0L1288.7 847.3L1269.7 847.3zM1281.4 834.0L1290.9 846.3L1271.9 846.3zM1283.5 833.0L1293.0 845.3L1274.0 845.3zM1285.7 832.0L1295.2 844.3L1276.2 844.3zM1287.9 831.0L1297.4 843.3L1278.4 843.3zM1290.1 830.0L1299.6 842.3L1280.6 842.3zM1292.3 829.0L1301.8 841.3L1282.8 841.3zM1294.4 828.0L1303.9 840.3L1284.9 840.3zM1296.6 827.0L1306.1 839.3L1287.1 839.3zM1298.8 826.0L1308.3 838.3L1289.3 838.3zM1301.0 824.9L1310.5 837.2L1291.5 837.2zM1303.1 823.9L1312.6 836.2L1293.6 836.2zM1305.3 822.9L1314.8 835.2L1295.8 835.2zM1307.5 821.9L1317.0 834.2L1298.0 834.2zM1309.7 820.9L1319.2 833.2L1300.2 833.2zM1311.9 819.8L1321.4 832.1L1302.4 832.1zM1314.0 818.8L1323.5 831.1L1304.5 831.1zM1316.2 817.8L1325.7 830.1L1306.7 830.1zM1318.4 816.8L1327.9 829.1L1308.9 829.1zM1320.6 815.7L1330.1 828.0L1311.1 828.0zM1322.8 814.7L1332.3 827.0L1313.3 827.0zM1324.9 813.7L1334.4 826.0L1315.4 826.0zM1327.1 812.6L1336.6 824.9L1317.6 824.9zM1329.3 811.6L1338.8 823.9L1319.8 823.9zM1331.5 810.6L1341.0 822.9L1322.0 822.9zM1333.7 809.5L1343.2 821.8L1324.2 821.8zM1335.8 808.5L1345.3 820.8L1326.3 820.8zM1338.0 807.5L1347.5 819.8L1328.5 819.8zM1340.2 806.4L1349.7 818.7L1330.7 818.7zM1342.4 805.4L1351.9 817.7L1332.9 817.7zM1344.5 804.4L1354.0 816.7L1335.0 816.7zM1346.7 803.3L1356.2 815.6L1337.2 815.6zM1348.9 802.3L1358.4 814.6L1339.4 814.6zM1351.1 801.2L1360.6 813.5L1341.6 813.5zM1353.3 800.2L1362.8 812.5L1343.8 812.5zM1355.4 799.1L1364.9 811.4L1345.9 811.4zM1357.6 798.1L1367.1 810.4L1348.1 810.4zM1359.8 797.0L1369.3 809.3L1350.3 809.3zM1362.0 796.0L1371.5 808.3L1352.5 808.3zM1364.2 794.9L1373.7 807.2L1354.7 807.2zM1366.3 793.9L1375.8 806.2L1356.8 806.2zM1368.5 792.8L1378.0 805.1L1359.0 805.1zM1370.7 791.8L1380.2 804.1L1361.2 804.1zM1372.9 790.7L1382.4 803.0L1363.4 803.0zM1375.0 789.6L1384.5 801.9L1365.5 801.9zM1377.2 788.6L1386.7 800.9L1367.7 800.9zM1379.4 787.5L1388.9 799.8L1369.9 799.8zM1381.6 786.5L1391.1 798.8L1372.1 798.8zM1383.8 785.4L1393.3 797.7L1374.3 797.7zM1385.9 784.3L1395.4 796.6L1376.4 796.6zM1388.1 783.3L1397.6 795.6L1378.6 795.6zM1390.3 782.2L1399.8 794.5L1380.8 794.5zM1392.5 781.1L1402.0 793.4L1383.0 793.4zM1394.7 780.1L1404.2 792.4L1385.2 792.4zM1396.8 779.0L1406.3 791.3L1387.3 791.3zM1399.0 777.9L1408.5 790.2L1389.5 790.2zM1401.2 776.8L1410.7 789.1L1391.7 789.1zM1403.4 775.8L1412.9 788.1L1393.9 788.1zM1405.5 774.7L1415.0 787.0L1396.0 787.0zM1407.7 773.6L1417.2 785.9L1398.2 785.9zM1409.9 772.5L1419.4 784.8L1400.4 784.8zM1412.1 771.5L1421.6 783.8L1402.6 783.8zM1414.3 770.4L1423.8 782.7L1404.8 782.7zM1416.4 769.3L1425.9 781.6L1406.9 781.6zM1418.6 768.2L1428.1 780.5L1409.1 780.5zM1420.8 767.1L1430.3 779.4L1411.3 779.4zM1423.0 766.0L1432.5 778.3L1413.5 778.3zM1425.2 764.9L1434.7 777.2L1415.7 777.2zM1427.3 763.9L1436.8 776.2L1417.8 776.2zM1429.5 762.8L1439.0 775.1L1420.0 775.1zM1431.7 761.7L1441.2 774.0L1422.2 774.0zM1433.9 760.6L1443.4 772.9L1424.4 772.9zM1436.1 759.5L1445.6 771.8L1426.6 771.8zM1438.2 758.4L1447.7 770.7L1428.7 770.7zM1440.4 757.3L1449.9 769.6L1430.9 769.6zM1442.6 756.2L1452.1 768.5L1433.1 768.5zM1444.8 755.1L1454.3 767.4L1435.3 767.4zM1446.9 754.0L1456.4 766.3L1437.4 766.3zM1449.1 752.9L1458.6 765.2L1439.6 765.2zM1451.3 751.8L1460.8 764.1L1441.8 764.1zM1453.5 750.7L1463.0 763.0L1444.0 763.0zM1455.7 749.6L1465.2 761.9L1446.2 761.9zM1457.8 748.5L1467.3 760.8L1448.3 760.8zM1460.0 747.4L1469.5 759.7L1450.5 759.7zM1462.2 746.3L1471.7 758.6L1452.7 758.6zM1464.4 745.2L1473.9 757.5L1454.9 757.5zM1466.6 744.1L1476.1 756.4L1457.1 756.4zM1468.7 743.0L1478.2 755.3L1459.2 755.3zM1470.9 741.8L1480.4 754.1L1461.4 754.1zM1473.1 740.7L1482.6 753.0L1463.6 753.0zM1475.3 739.6L1484.8 751.9L1465.8 751.9zM1477.4 738.5L1486.9 750.8L1467.9 750.8zM1479.6 737.4L1489.1 749.7L1470.1 749.7zM1481.8 736.3L1491.3 748.6L1472.3 748.6zM1484.0 735.1L1493.5 747.4L1474.5 747.4zM1486.2 734.0L1495.7 746.3L1476.7 746.3zM1488.3 732.9L1497.8 745.2L1478.8 745.2zM1490.5 731.8L1500.0 744.1L1481.0 744.1zM1492.7 730.7L1502.2 743.0L1483.2 743.0zM1494.9 729.5L1504.4 741.8L1485.4 741.8zM1497.1 728.4L1506.6 740.7L1487.6 740.7zM1499.2 727.3L1508.7 739.6L1489.7 739.6zM1501.4 726.1L1510.9 738.4L1491.9 738.4zM1503.6 725.0L1513.1 737.3L1494.1 737.3zM1505.8 723.9L1515.3 736.2L1496.3 736.2zM1508.0 722.7L1517.5 735.0L1498.5 735.0zM1510.1 721.6L1519.6 733.9L1500.6 733.9zM1512.3 720.5L1521.8 732.8L1502.8 732.8zM1514.5 719.3L1524.0 731.6L1505.0 731.6zM1516.7 718.2L1526.2 730.5L1507.2 730.5zM1518.8 717.1L1528.3 729.4L1509.3 729.4zM1521.0 715.9L1530.5 728.2L1511.5 728.2zM1523.2 714.8L1532.7 727.1L1513.7 727.1zM1525.4 713.6L1534.9 725.9L1515.9 725.9zM1527.6 712.5L1537.1 724.8L1518.1 724.8zM1529.7 711.4L1539.2 723.7L1520.2 723.7zM1531.9 710.2L1541.4 722.5L1522.4 722.5zM1534.1 709.1L1543.6 721.4L1524.6 721.4zM1536.3 707.9L1545.8 720.2L1526.8 720.2zM1538.5 706.8L1548.0 719.1L1529.0 719.1zM1540.6 705.6L1550.1 717.9L1531.1 717.9zM1542.8 704.5L1552.3 716.8L1533.3 716.8zM1545.0 703.3L1554.5 715.6L1535.5 715.6zM1547.2 702.2L1556.7 714.5L1537.7 714.5zM1549.3 701.0L1558.8 713.3L1539.8 713.3zM1551.5 699.9L1561.0 712.2L1542.0 712.2zM1553.7 698.7L1563.2 711.0L1544.2 711.0zM1555.9 697.5L1565.4 709.8L1546.4 709.8zM1558.1 696.4L1567.6 708.7L1548.6 708.7zM1560.2 695.2L1569.7 707.5L1550.7 707.5zM1562.4 694.1L1571.9 706.4L1552.9 706.4zM1564.6 692.9L1574.1 705.2L1555.1 705.2zM1566.8 691.7L1576.3 704.0L1557.3 704.0zM1569.0 690.6L1578.5 702.9L1559.5 702.9zM1571.1 689.4L1580.6 701.7L1561.6 701.7zM1573.3 688.2L1582.8 700.5L1563.8 700.5zM1575.5 687.1L1585.0 699.4L1566.0 699.4zM1577.7 685.9L1587.2 698.2L1568.2 698.2zM1579.8 684.7L1589.3 697.0L1570.3 697.0zM1582.0 683.6L1591.5 695.9L1572.5 695.9zM1584.2 682.4L1593.7 694.7L1574.7 694.7zM1586.4 681.2L1595.9 693.5L1576.9 693.5zM1588.6 680.0L1598.1 692.3L1579.1 692.3zM1590.7 678.9L1600.2 691.2L1581.2 691.2zM1592.9 677.7L1602.4 690.0L1583.4 690.0zM1595.1 676.5L1604.6 688.8L1585.6 688.8zM1597.3 675.3L1606.8 687.6L1587.8 687.6zM1599.5 674.2L1609.0 686.5L1590.0 686.5zM1601.6 673.0L1611.1 685.3L1592.1 685.3zM1603.8 671.8L1613.3 684.1L1594.3 684.1zM1606.0 670.6L1615.5 682.9L1596.5 682.9zM1608.2 669.4L1617.7 681.7L1598.7 681.7zM1610.4 668.2L1619.9 680.5L1600.9 680.5zM1612.5 667.0L1622.0 679.3L1603.0 679.3zM1614.7 665.9L1624.2 678.2L1605.2 678.2zM1616.9 664.7L1626.4 677.0L1607.4 677.0zM1619.1 663.5L1628.6 675.8L1609.6 675.8zM1621.2 662.3L1630.7 674.6L1611.7 674.6zM1623.4 661.1L1632.9 673.4L1613.9 673.4zM1625.6 659.9L1635.1 672.2L1616.1 672.2zM1627.8 658.7L1637.3 671.0L1618.3 671.0zM1630.0 657.5L1639.5 669.8L1620.5 669.8zM1632.1 656.3L1641.6 668.6L1622.6 668.6zM1634.3 655.1L1643.8 667.4L1624.8 667.4zM1636.5 653.9L1646.0 666.2L1627.0 666.2zM1638.7 652.7L1648.2 665.0L1629.2 665.0zM1640.9 651.5L1650.4 663.8L1631.4 663.8zM1643.0 650.3L1652.5 662.6L1633.5 662.6zM1645.2 649.1L1654.7 661.4L1635.7 661.4zM1647.4 647.9L1656.9 660.2L1637.9 660.2zM1649.6 646.7L1659.1 659.0L1640.1 659.0zM1651.7 645.5L1661.2 657.8L1642.2 657.8zM1653.9 644.3L1663.4 656.6L1644.4 656.6zM1656.1 643.1L1665.6 655.4L1646.6 655.4zM1658.3 641.9L1667.8 654.2L1648.8 654.2zM1660.5 640.7L1670.0 653.0L1651.0 653.0zM1662.6 639.5L1672.1 651.8L1653.1 651.8zM1664.8 638.2L1674.3 650.5L1655.3 650.5zM1667.0 637.0L1676.5 649.3L1657.5 649.3zM1669.2 635.8L1678.7 648.1L1659.7 648.1zM1671.4 634.6L1680.9 646.9L1661.9 646.9zM1673.5 633.4L1683.0 645.7L1664.0 645.7zM1675.7 632.2L1685.2 644.5L1666.2 644.5zM1677.9 630.9L1687.4 643.2L1668.4 643.2zM1680.1 629.7L1689.6 642.0L1670.6 642.0zM1682.2 628.5L1691.8 640.8L1672.8 640.8zM1684.4 627.3L1693.9 639.6L1674.9 639.6zM1686.6 626.0L1696.1 638.3L1677.1 638.3zM1688.8 624.8L1698.3 637.1L1679.3 637.1zM1691.0 623.6L1700.5 635.9L1681.5 635.9zM1693.1 622.4L1702.6 634.7L1683.6 634.7zM1695.3 621.1L1704.8 633.4L1685.8 633.4zM1697.5 619.9L1707.0 632.2L1688.0 632.2zM1699.7 618.7L1709.2 631.0L1690.2 631.0zM1701.9 617.5L1711.4 629.8L1692.4 629.8zM1704.0 616.2L1713.5 628.5L1694.5 628.5zM1706.2 615.0L1715.7 627.3L1696.7 627.3zM1708.4 613.8L1717.9 626.1L1698.9 626.1zM1710.6 612.5L1720.1 624.8L1701.1 624.8zM1712.8 611.3L1722.3 623.6L1703.3 623.6zM1714.9 610.0L1724.4 622.3L1705.4 622.3zM1717.1 608.8L1726.6 621.1L1707.6 621.1zM1719.3 607.6L1728.8 619.9L1709.8 619.9zM1721.5 606.3L1731.0 618.6L1712.0 618.6zM1723.6 605.1L1733.1 617.4L1714.1 617.4zM1725.8 603.8L1735.3 616.1L1716.3 616.1zM1728.0 602.6L1737.5 614.9L1718.5 614.9zM1730.2 601.4L1739.7 613.7L1720.7 613.7zM1732.4 600.1L1741.9 612.4L1722.9 612.4zM1734.5 598.9L1744.0 611.2L1725.0 611.2zM1736.7 597.6L1746.2 609.9L1727.2 609.9zM1738.9 596.4L1748.4 608.7L1729.4 608.7zM1741.1 595.1L1750.6 607.4L1731.6 607.4zM1743.3 593.9L1752.8 606.2L1733.8 606.2zM1745.4 592.6L1754.9 604.9L1735.9 604.9zM1747.6 591.4L1757.1 603.7L1738.1 603.7zM1749.8 590.1L1759.3 602.4L1740.3 602.4zM1752.0 588.8L1761.5 601.1L1742.5 601.1zM1754.1 587.6L1763.6 599.9L1744.6 599.9zM1756.3 586.3L1765.8 598.6L1746.8 598.6zM1758.5 585.1L1768.0 597.4L1749.0 597.4zM1760.7 583.8L1770.2 596.1L1751.2 596.1zM1762.9 582.5L1772.4 594.8L1753.4 594.8zM1765.0 581.3L1774.5 593.6L1755.5 593.6zM1767.2 580.0L1776.7 592.3L1757.7 592.3zM1769.4 578.8L1778.9 591.1L1759.9 591.1zM1771.6 577.5L1781.1 589.8L1762.1 589.8zM1773.8 576.2L1783.3 588.5L1764.3 588.5zM1775.9 574.9L1785.4 587.2L1766.4 587.2zM1778.1 573.7L1787.6 586.0L1768.6 586.0zM1780.3 572.4L1789.8 584.7L1770.8 584.7zM1782.5 571.1L1792.0 583.4L1773.0 583.4zM1784.7 569.9L1794.2 582.2L1775.2 582.2zM1786.8 568.6L1796.3 580.9L1777.3 580.9zM1789.0 567.3L1798.5 579.6L1779.5 579.6zM1791.2 566.0L1800.7 578.3L1781.7 578.3zM1793.4 564.8L1802.9 577.1L1783.9 577.1zM1795.5 563.5L1805.0 575.8L1786.0 575.8zM1797.7 562.2L1807.2 574.5L1788.2 574.5zM1799.9 560.9L1809.4 573.2L1790.4 573.2zM1802.1 559.6L1811.6 571.9L1792.6 571.9zM1804.3 558.3L1813.8 570.6L1794.8 570.6zM1806.4 557.1L1815.9 569.4L1796.9 569.4zM1808.6 555.8L1818.1 568.1L1799.1 568.1zM1810.8 554.5L1820.3 566.8L1801.3 566.8zM1813.0 553.2L1822.5 565.5L1803.5 565.5zM1815.2 551.9L1824.7 564.2L1805.7 564.2zM1817.3 550.6L1826.8 562.9L1807.8 562.9zM1819.5 549.3L1829.0 561.6L1810.0 561.6zM1821.7 548.0L1831.2 560.3L1812.2 560.3zM1823.9 546.7L1833.4 559.0L1814.4 559.0zM1826.0 545.4L1835.5 557.7L1816.5 557.7zM1828.2 544.1L1837.7 556.4L1818.7 556.4zM1830.4 542.8L1839.9 555.1L1820.9 555.1zM1832.6 541.5L1842.1 553.8L1823.1 553.8zM1834.8 540.2L1844.3 552.5L1825.3 552.5zM1836.9 538.9L1846.4 551.2L1827.4 551.2zM1839.1 537.6L1848.6 549.9L1829.6 549.9zM1841.3 536.3L1850.8 548.6L1831.8 548.6zM1843.5 535.0L1853.0 547.3L1834.0 547.3zM1845.7 533.7L1855.2 546.0L1836.2 546.0zM1847.8 532.4L1857.3 544.7L1838.3 544.7zM1850.0 531.1L1859.5 543.4L1840.5 543.4zM1852.2 529.8L1861.7 542.1L1842.7 542.1zM1854.4 528.4L1863.9 540.7L1844.9 540.7zM1856.5 527.1L1866.0 539.4L1847.0 539.4zM1858.7 525.8L1868.2 538.1L1849.2 538.1zM1860.9 524.5L1870.4 536.8L1851.4 536.8zM1863.1 523.2L1872.6 535.5L1853.6 535.5zM1865.3 521.9L1874.8 534.2L1855.8 534.2zM1867.4 520.5L1876.9 532.8L1857.9 532.8zM1869.6 519.2L1879.1 531.5L1860.1 531.5zM1871.8 517.9L1881.3 530.2L1862.3 530.2zM1874.0 516.6L1883.5 528.9L1864.5 528.9zM1876.2 515.2L1885.7 527.5L1866.7 527.5zM1878.3 513.9L1887.8 526.2L1868.8 526.2zM1880.5 512.6L1890.0 524.9L1871.0 524.9zM1882.7 511.2L1892.2 523.5L1873.2 523.5zM1884.9 509.9L1894.4 522.2L1875.4 522.2zM1887.1 508.6L1896.6 520.9L1877.6 520.9zM1889.2 507.2L1898.7 519.5L1879.7 519.5zM1891.4 505.9L1900.9 518.2L1881.9 518.2zM1893.6 504.6L1903.1 516.9L1884.1 516.9zM1895.8 503.2L1905.3 515.5L1886.3 515.5zM1897.9 501.9L1907.4 514.2L1888.4 514.2zM1900.1 500.5L1909.6 512.8L1890.6 512.8zM1902.3 499.2L1911.8 511.5L1892.8 511.5zM1904.5 497.9L1914.0 510.2L1895.0 510.2zM1906.7 496.5L1916.2 508.8L1897.2 508.8zM1908.8 495.2L1918.3 507.5L1899.3 507.5zM1911.0 493.8L1920.5 506.1L1901.5 506.1zM1913.2 492.5L1922.7 504.8L1903.7 504.8zM1915.4 491.1L1924.9 503.4L1905.9 503.4zM1917.6 489.8L1927.1 502.1L1908.1 502.1zM1919.7 488.4L1929.2 500.7L1910.2 500.7zM1921.9 487.0L1931.4 499.3L1912.4 499.3zM1924.1 485.7L1933.6 498.0L1914.6 498.0zM1926.3 484.3L1935.8 496.6L1916.8 496.6zM1928.4 483.0L1937.9 495.3L1918.9 495.3zM1930.6 481.6L1940.1 493.9L1921.1 493.9zM1932.8 480.2L1942.3 492.5L1923.3 492.5zM1935.0 478.9L1944.5 491.2L1925.5 491.2zM1937.2 477.5L1946.7 489.8L1927.7 489.8zM1939.3 476.1L1948.8 488.4L1929.8 488.4zM1941.5 474.8L1951.0 487.1L1932.0 487.1zM1943.7 473.4L1953.2 485.7L1934.2 485.7zM1945.9 472.0L1955.4 484.3L1936.4 484.3zM1948.1 470.7L1957.6 483.0L1938.6 483.0zM1950.2 469.3L1959.7 481.6L1940.7 481.6zM1952.4 467.9L1961.9 480.2L1942.9 480.2zM1954.6 466.5L1964.1 478.8L1945.1 478.8zM1956.8 465.2L1966.3 477.5L1947.3 477.5zM1959.0 463.8L1968.5 476.1L1949.5 476.1zM1961.1 462.4L1970.6 474.7L1951.6 474.7zM1963.3 461.0L1972.8 473.3L1953.8 473.3zM1965.5 459.6L1975.0 471.9L1956.0 471.9zM1967.7 458.2L1977.2 470.5L1958.2 470.5zM1969.8 456.8L1979.3 469.1L1960.3 469.1zM1972.0 455.5L1981.5 467.8L1962.5 467.8zM1974.2 454.1L1983.7 466.4L1964.7 466.4zM1976.4 452.7L1985.9 465.0L1966.9 465.0zM1978.6 451.3L1988.1 463.6L1969.1 463.6zM1980.7 449.9L1990.2 462.2L1971.2 462.2zM1982.9 448.5L1992.4 460.8L1973.4 460.8zM1985.1 447.1L1994.6 459.4L1975.6 459.4zM1987.3 445.7L1996.8 458.0L1977.8 458.0zM1989.5 444.3L1999.0 456.6L1980.0 456.6zM1991.6 442.9L2001.1 455.2L1982.1 455.2zM1993.8 441.5L2003.3 453.8L1984.3 453.8zM1996.0 440.1L2005.5 452.4L1986.5 452.4zM1998.2 438.7L2007.7 451.0L1988.7 451.0zM2000.3 437.2L2009.8 449.5L1990.8 449.5zM2002.5 435.8L2012.0 448.1L1993.0 448.1zM2004.7 434.4L2014.2 446.7L1995.2 446.7zM2006.9 433.0L2016.4 445.3L1997.4 445.3zM2009.1 431.6L2018.6 443.9L1999.6 443.9zM2011.2 430.2L2020.7 442.5L2001.7 442.5zM2013.4 428.8L2022.9 441.1L2003.9 441.1zM2015.6 427.3L2025.1 439.6L2006.1 439.6zM2017.8 425.9L2027.3 438.2L2008.3 438.2zM2020.0 424.5L2029.5 436.8L2010.5 436.8zM2022.1 423.1L2031.6 435.4L2012.6 435.4zM2024.3 421.7L2033.8 434.0L2014.8 434.0zM2026.5 420.3L2036.0 432.6L2017.0 432.6zM2028.7 418.9L2038.2 431.2L2019.2 431.2zM2030.8 417.5L2040.3 429.8L2021.3 429.8zM2033.0 416.0L2042.5 428.3L2023.5 428.3zM2035.2 414.6L2044.7 426.9L2025.7 426.9zM2037.4 413.2L2046.9 425.5L2027.9 425.5zM2039.6 411.8L2049.1 424.1L2030.1 424.1zM2041.7 410.4L2051.2 422.7L2032.2 422.7zM2043.9 409.0L2053.4 421.3L2034.4 421.3zM2046.1 407.6L2055.6 419.9L2036.6 419.9zM2048.3 406.2L2057.8 418.5L2038.8 418.5zM2050.5 404.9L2060.0 417.2L2041.0 417.2zM2052.6 403.5L2062.1 415.8L2043.1 415.8zM2054.8 402.1L2064.3 414.4L2045.3 414.4zM2057.0 400.7L2066.5 413.0L2047.5 413.0zM2059.2 399.3L2068.7 411.6L2049.7 411.6zM2061.4 398.0L2070.9 410.3L2051.9 410.3zM2063.5 396.6L2073.0 408.9L2054.0 408.9zM2065.7 395.3L2075.2 407.6L2056.2 407.6zM2067.9 393.9L2077.4 406.2L2058.4 406.2zM2070.1 392.6L2079.6 404.9L2060.6 404.9zM2072.2 391.2L2081.7 403.5L2062.7 403.5zM2074.4 389.9L2083.9 402.2L2064.9 402.2zM2076.6 388.6L2086.1 400.9L2067.1 400.9zM2078.8 387.2L2088.3 399.5L2069.3 399.5zM2081.0 385.9L2090.5 398.2L2071.5 398.2zM2083.1 384.6L2092.6 396.9L2073.6 396.9zM2085.3 383.3L2094.8 395.6L2075.8 395.6zM2087.5 382.0L2097.0 394.3L2078.0 394.3zM2089.7 380.7L2099.2 393.0L2080.2 393.0zM2091.9 379.5L2101.4 391.8L2082.4 391.8zM2094.0 378.2L2103.5 390.5L2084.5 390.5zM2096.2 376.9L2105.7 389.2L2086.7 389.2zM2098.4 375.7L2107.9 388.0L2088.9 388.0zM2100.6 374.4L2110.1 386.7L2091.1 386.7zM2102.7 373.2L2112.2 385.5L2093.2 385.5zM2104.9 372.0L2114.4 384.3L2095.4 384.3zM2107.1 370.7L2116.6 383.0L2097.6 383.0zM2109.3 369.5L2118.8 381.8L2099.8 381.8zM2111.5 368.3L2121.0 380.6L2102.0 380.6zM2113.6 367.1L2123.1 379.4L2104.1 379.4zM2115.8 366.0L2125.3 378.3L2106.3 378.3zM2118.0 364.8L2127.5 377.1L2108.5 377.1z" fill="#00cc00"/>
<path d="M374.0 1469.8L375.0 1136.0L377.2 1134.1L379.4 1132.4L381.5 1130.6L383.7 1129.0L385.9 1127.3L388.1 1125.8L390.3 1124.3L392.4 1122.8L394.6 1121.4L396.8 1120.0L399.0 1118.7L401.1 1117.4L403.3 1116.2L405.5 1115.0L407.7 1113.8L409.9 1112.7L412.0 1111.6L414.2 1110.5L416.4 1109.4L418.6 1108.4L420.8 1107.4L422.9 1106.4L425.1 1105.4L427.3 1104.4L429.5 1103.4L431.6 1102.5L433.8 1101.6L436.0 1100.7L438.2 1099.8L440.4 1098.9L442.5 1098.1L444.7 1097.2L446.9 1096.4L449.1 1095.5L451.3 1094.7L453.4 1093.9L455.6 1093.1L457.8 1092.3L460.0 1091.6L462.1 1090.8L464.3 1090.0L466.5 1089.3L468.7 1088.6L470.9 1087.8L473.0 1087.1L475.2 1086.4L477.4 1085.7L479.6 1084.9L481.8 1084.2L483.9 1083.5L486.1 1082.8L488.3 1082.2L490.5 1081.5L492.7 1080.8L494.8 1080.1L497.0 1079.4L499.2 1078.7L501.4 1078.0L503.5 1077.4L505.7 1076.7L507.9 1076.0L510.1 1075.3L512.3 1074.6L514.4 1073.9L516.6 1073.2L518.8 1072.6L521.0 1071.9L523.2 1071.2L525.3 1070.5L527.5 1069.8L529.7 1069.1L531.9 1068.4L534.0 1067.7L536.2 1067.0L538.4 1066.3L540.6 1065.6L542.8 1065.0L544.9 1064.3L547.1 1063.6L549.3 1062.9L551.5 1062.2L553.7 1061.5L555.8 1060.8L558.0 1060.1L560.2 1059.4L562.4 1058.7L564.6 1058.0L566.7 1057.3L568.9 1056.6L571.1 1055.9L573.3 1055.2L575.4 1054.5L577.6 1053.8L579.8 1053.1L582.0 1052.4L584.2 1051.7L586.3 1051.0L588.5 1050.3L590.7 1049.5L592.9 1048.8L595.1 1048.1L597.2 1047.4L599.4 1046.7L601.6 1046.0L603.8 1045.3L605.9 1044.6L608.1 1043.9L610.3 1043.2L612.5 1042.4L614.7 1041.7L616.8 1041.0L619.0 1040.3L621.2 1039.6L623.4 1038.9L625.6 1038.1L627.7 1037.4L629.9 1036.7L632.1 1036.0L634.3 1035.3L636.5 1034.5L638.6 1033.8L640.8 1033.1L643.0 1032.4L645.2 1031.7L647.3 1030.9L649.5 1030.2L651.7 1029.5L653.9 1028.7L656.1 1028.0L658.2 1027.3L660.4 1026.6L662.6 1025.8L664.8 1025.1L667.0 1024.4L669.1 1023.6L671.3 1022.9L673.5 1022.2L675.7 1021.4L677.8 1020.7L680.0 1020.0L682.2 1019.2L684.4 1018.5L686.6 1017.8L688.7 1017.0L690.9 1016.3L693.1 1015.5L695.3 1014.8L697.5 1014.0L699.6 1013.3L701.8 1012.6L704.0 1011.8L706.2 1011.1L708.3 1010.3L710.5 1009.6L712.7 1008.8L714.9 1008.1L717.1 1007.3L719.2 1006.6L721.4 1005.8L723.6 1005.1L725.8 1004.3L728.0 1003.6L730.1 1002.8L732.3 1002.1L734.5 1001.3L736.7 1000.6L738.9 999.8L741.0 999.0L743.2 998.3L745.4 997.5L747.6 996.8L749.7 996.0L751.9 995.2L754.1 994.5L756.3 993.7L758.5 992.9L760.6 992.2L762.8 991.4L765.0 990.6L767.2 989.9L769.4 989.1L771.5 988.3L773.7 987.6L775.9 986.8L778.1 986.0L780.2 985.2L782.4 984.5L784.6 983.7L786.8 982.9L789.0 982.1L791.1 981.4L793.3 980.6L795.5 979.8L797.7 979.0L799.9 978.2L802.0 977.5L804.2 976.7L806.4 975.9L808.6 975.1L810.8 974.3L812.9 973.5L815.1 972.7L817.3 971.9L819.5 971.2L821.6 970.4L823.8 969.6L826.0 968.8L828.2 968.0L830.4 967.2L832.5 966.4L834.7 965.6L836.9 964.8L839.1 964.0L841.3 963.2L843.4 962.4L845.6 961.6L847.8 960.8L850.0 960.0L852.1 959.2L854.3 958.4L856.5 957.6L858.7 956.8L860.9 956.0L863.0 955.2L865.2 954.3L867.4 953.5L869.6 952.7L871.8 951.9L873.9 951.1L876.1 950.3L878.3 949.5L880.5 948.6L882.6 947.8L884.8 947.0L887.0 946.2L889.2 945.4L891.4 944.5L893.5 943.7L895.7 942.9L897.9 942.1L900.1 941.2L902.3 940.4L904.4 939.6L906.6 938.8L908.8 937.9L911.0 937.1L913.2 936.3L915.3 935.4L917.5 934.6L919.7 933.8L921.9 932.9L924.0 932.1L926.2 931.2L928.4 930.4L930.6 929.6L932.8 928.7L934.9 927.9L937.1 927.0L939.3 926.2L941.5 925.3L943.7 924.5L945.8 923.6L948.0 922.8L950.2 921.9L952.4 921.1L954.5 920.2L956.7 919.4L958.9 918.5L961.1 917.7L963.3 916.8L965.4 915.9L967.6 915.1L969.8 914.2L972.0 913.4L974.2 912.5L976.3 911.6L978.5 910.8L980.7 909.9L982.9 909.0L985.0 908.2L987.2 907.3L989.4 906.4L991.6 905.5L993.8 904.7L995.9 903.8L998.1 902.9L1000.3 902.0L1002.5 901.2L1004.7 900.3L1006.8 899.4L1009.0 898.5L1011.2 897.6L1013.4 896.8L1015.6 895.9L1017.7 895.0L1019.9 894.1L1022.1 893.2L1024.3 892.3L1026.4 891.4L1028.6 890.5L1030.8 889.6L1033.0 888.7L1035.2 887.9L1037.3 887.0L1039.5 886.1L1041.7 885.2L1043.9 884.3L1046.1 883.4L1048.2 882.5L1050.4 881.5L1052.6 880.6L1054.8 879.7L1056.9 878.8L1059.1 877.9L1061.3 877.0L1063.5 876.1L1065.7 875.2L1067.8 874.3L1070.0 873.4L1072.2 872.4L1074.4 871.5L1076.6 870.6L1078.7 869.7L1080.9 868.8L1083.1 867.9L1085.3 866.9L1087.5 866.0L1089.6 865.1L1091.8 864.2L1094.0 863.2L1096.2 862.3L1098.3 861.4L1100.5 860.4L1102.7 859.5L1104.9 858.6L1107.1 857.6L1109.2 856.7L1111.4 855.8L1113.6 854.8L1115.8 853.9L1118.0 853.0L1120.1 852.0L1122.3 851.1L1124.5 850.1L1126.7 849.2L1128.8 848.2L1131.0 847.3L1133.2 846.3L1135.4 845.4L1137.6 844.4L1139.7 843.5L1141.9 842.5L1144.1 841.6L1146.3 840.6L1148.5 839.7L1150.6 838.7L1152.8 837.8L1155.0 836.8L1157.2 835.8L1159.3 834.9L1161.5 833.9L1163.7 833.0L1165.9 832.0L1168.1 831.0L1170.2 830.1L1172.4 829.1L1174.6 828.1L1176.8 827.1L1179.0 826.2L1181.1 825.2L1183.3 824.2L1185.5 823.2L1187.7 822.3L1189.9 821.3L1192.0 820.3L1194.2 819.3L1196.4 818.4L1198.6 817.4L1200.7 816.4L1202.9 815.4L1205.1 814.4L1207.3 813.4L1209.5 812.4L1211.6 811.4L1213.8 810.5L1216.0 809.5L1218.2 808.5L1220.4 807.5L1222.5 806.5L1224.7 805.5L1226.9 804.5L1229.1 803.5L1231.2 802.5L1233.4 801.5L1235.6 800.5L1237.8 799.5L1240.0 798.5L1242.1 797.5L1244.3 796.5L1246.5 795.5L1248.7 794.5L1250.9 793.4L1253.0 792.4L1255.2 791.4L1257.4 790.4L1259.6 789.4L1261.8 788.4L1263.9 787.4L1266.1 786.3L1268.3 785.3L1270.5 784.3L1272.6 783.3L1274.8 782.3L1277.0 781.2L1279.2 780.2L1281.4 779.2L1283.5 778.2L1285.7 777.1L1287.9 776.1L1290.1 775.1L1292.3 774.0L1294.4 773.0L1296.6 772.0L1298.8 770.9L1301.0 769.9L1303.1 768.9L1305.3 767.8L1307.5 766.8L1309.7 765.7L1311.9 764.7L1314.0 763.6L1316.2 762.6L1318.4 761.6L1320.6 760.5L1322.8 759.5L1324.9 758.4L1327.1 757.4L1329.3 756.3L1331.5 755.3L1333.7 754.2L1335.8 753.2L1338.0 752.1L1340.2 751.0L1342.4 750.0L1344.5 748.9L1346.7 747.9L1348.9 746.8L1351.1 745.7L1353.3 744.7L1355.4 743.6L1357.6 742.6L1359.8 741.5L1362.0 740.4L1364.2 739.4L1366.3 738.3L1368.5 737.2L1370.7 736.2L1372.9 735.1L1375.0 734.0L1377.2 732.9L1379.4 731.9L1381.6 730.8L1383.8 729.7L1385.9 728.6L1388.1 727.6L1390.3 726.5L1392.5 725.4L1394.7 724.3L1396.8 723.3L1399.0 722.2L1401.2 721.1L1403.4 720.0L1405.5 718.9L1407.7 717.8L1409.9 716.8L1412.1 715.7L1414.3 714.6L1416.4 713.5L1418.6 712.4L1420.8 711.3L1423.0 710.2L1425.2 709.1L1427.3 708.1L1429.5 707.0L1431.7 705.9L1433.9 704.8L1436.1 703.7L1438.2 702.6L1440.4 701.5L1442.6 700.4L1444.8 699.3L1446.9 698.2L1449.1 697.1L1451.3 696.0L1453.5 694.9L1455.7 693.8L1457.8 692.7L1460.0 691.6L1462.2 690.5L1464.4 689.4L1466.6 688.3L1468.7 687.2L1470.9 686.1L1473.1 685.0L1475.3 683.9L1477.4 682.8L1479.6 681.7L1481.8 680.6L1484.0 679.5L1486.2 678.4L1488.3 677.3L1490.5 676.2L1492.7 675.1L1494.9 673.9L1497.1 672.8L1499.2 671.7L1501.4 670.6L1503.6 669.5L1505.8 668.4L1508.0 667.3L1510.1 666.2L1512.3 665.1L1514.5 664.0L1516.7 662.8L1518.8 661.7L1521.0 660.6L1523.2 659.5L1525.4 658.4L1527.6 657.3L1529.7 656.1L1531.9 655.0L1534.1 653.9L1536.3 652.8L1538.5 651.7L1540.6 650.5L1542.8 649.4L1545.0 648.3L1547.2 647.2L1549.3 646.1L1551.5 644.9L1553.7 643.8L1555.9 642.7L1558.1 641.5L1560.2 640.4L1562.4 639.3L1564.6 638.1L1566.8 637.0L1569.0 635.9L1571.1 634.7L1573.3 633.6L1575.5 632.5L1577.7 631.3L1579.8 630.2L1582.0 629.0L1584.2 627.9L1586.4 626.7L1588.6 625.6L1590.7 624.4L1592.9 623.3L1595.1 622.1L1597.3 621.0L1599.5 619.8L1601.6 618.7L1603.8 617.5L1606.0 616.4L1608.2 615.2L1610.4 614.0L1612.5 612.9L1614.7 611.7L1616.9 610.5L1619.1 609.4L1621.2 608.2L1623.4 607.0L1625.6 605.8L1627.8 604.7L1630.0 603.5L1632.1 602.3L1634.3 601.1L1636.5 599.9L1638.7 598.8L1640.9 597.6L1643.0 596.4L1645.2 595.2L1647.4 594.0L1649.6 592.8L1651.7 591.6L1653.9 590.4L1656.1 589.2L1658.3 588.0L1660.5 586.8L1662.6 585.6L1664.8 584.4L1667.0 583.2L1669.2 582.0L1671.4 580.8L1673.5 579.6L1675.7 578.4L1677.9 577.2L1680.1 576.0L1682.2 574.8L1684.4 573.6L1686.6 572.4L1688.8 571.2L1691.0 570.0L1693.1 568.7L1695.3 567.5L1697.5 566.3L1699.7 565.1L1701.9 563.9L1704.0 562.6L1706.2 561.4L1708.4 560.2L1710.6 559.0L1712.8 557.7L1714.9 556.5L1717.1 555.3L1719.3 554.1L1721.5 552.8L1723.6 551.6L1725.8 550.4L1728.0 549.1L1730.2 547.9L1732.4 546.7L1734.5 545.4L1736.7 544.2L1738.9 543.0L1741.1 541.7L1743.3 540.5L1745.4 539.2L1747.6 538.0L1749.8 536.8L1752.0 535.5L1754.1 534.3L1756.3 533.0L1758.5 531.8L1760.7 530.5L1762.9 529.3L1765.0 528.0L1767.2 526.8L1769.4 525.6L1771.6 524.3L1773.8 523.1L1775.9 521.8L1778.1 520.5L1780.3 519.3L1782.5 518.0L1784.7 516.8L1786.8 515.5L1789.0 514.3L1791.2 513.0L1793.4 511.8L1795.5 510.5L1797.7 509.3L1799.9 508.0L1802.1 506.7L1804.3 505.5L1806.4 504.2L1808.6 503.0L1810.8 501.7L1813.0 500.4L1815.2 499.2L1817.3 497.9L1819.5 496.6L1821.7 495.4L1823.9 494.1L1826.0 492.9L1828.2 491.6L1830.4 490.3L1832.6 489.1L1834.8 487.8L1836.9 486.5L1839.1 485.3L1841.3 484.0L1843.5 482.7L1845.7 481.5L1847.8 480.2L1850.0 478.9L1852.2 477.7L1854.4 476.4L1856.5 475.1L1858.7 473.8L1860.9 472.6L1863.1 471.3L1865.3 470.0L1867.4 468.8L1869.6 467.5L1871.8 466.2L1874.0 465.0L1876.2 463.7L1878.3 462.4L1880.5 461.1L1882.7 459.9L1884.9 458.6L1887.1 457.3L1889.2 456.0L1891.4 454.8L1893.6 453.5L1895.8 452.2L1897.9 451.0L1900.1 449.7L1902.3 448.4L1904.5 447.1L1906.7 445.9L1908.8 444.6L1911.0 443.3L1913.2 442.0L1915.4 440.7L1917.6 439.5L1919.7 438.2L1921.9 436.9L1924.1 435.6L1926.3 434.3L1928.4 433.1L1930.6 431.8L1932.8 430.5L1935.0 429.2L1937.2 427.9L1939.3 426.6L1941.5 425.3L1943.7 424.1L1945.9 422.8L1948.1 421.5L1950.2 420.2L1952.4 418.9L1954.6 417.6L1956.8 416.3L1959.0 415.0L1961.1 413.7L1963.3 412.4L1965.5 411.1L1967.7 409.8L1969.8 408.5L1972.0 407.2L1974.2 405.9L1976.4 404.6L1978.6 403.3L1980.7 402.0L1982.9 400.7L1985.1 399.3L1987.3 398.0L1989.5 396.7L1991.6 395.4L1993.8 394.1L1996.0 392.7L1998.2 391.4L2000.3 390.1L2002.5 388.8L2004.7 387.4L2006.9 386.1L2009.1 384.8L2011.2 383.4L2013.4 382.1L2015.6 380.8L2017.8 379.4L2020.0 378.1L2022.1 376.7L2024.3 375.4L2026.5 374.0L2028.7 372.7L2030.8 371.3L2033.0 370.0L2035.2 368.6L2037.4 367.3L2039.6 365.9L2041.7 364.5L2043.9 363.2L2046.1 361.8L2048.3 360.4L2050.5 359.0L2052.6 357.7L2054.8 356.3L2057.0 354.9L2059.2 353.5L2061.4 352.1L2063.5 350.7L2065.7 349.3L2067.9 347.9L2070.1 346.5L2072.2 345.1L2074.4 343.7L2076.6 342.3L2078.8 340.9L2081.0 339.5L2083.1 338.1L2085.3 336.7L2087.5 335.2L2089.7 333.8L2091.9 332.4L2094.0 331.0L2096.2 329.5L2098.4 328.1L2100.6 326.6L2102.7 325.2L2104.9 323.8L2107.1 322.3L2109.3 320.8L2111.5 319.4L2113.6 317.9L2115.8 316.5L2118.0 315.0" fill="none" stroke="#2e2eff" stroke-width="2"/>
<path d="M374.0 1460.5L384.5 1469.8L374.0 1479.0L363.5 1469.8zM375.0 1126.8L385.5 1136.0L375.0 1145.2L364.5 1136.0zM377.2 1124.9L387.7 1134.1L377.2 1143.3L366.7 1134.1zM379.4 1123.2L389.9 1132.4L379.4 1141.6L368.9 1132.4zM381.5 1121.4L392.0 1130.6L381.5 1139.8L371.0 1130.6zM383.7 1119.8L394.2 1129.0L383.7 1138.2L373.2 1129.0zM385.9 1118.1L396.4 1127.3L385.9 1136.5L375.4 1127.3zM388.1 1116.6L398.6 1125.8L388.1 1135.0L377.6 1125.8zM390.3 1115.1L400.8 1124.3L390.3 1133.5L379.8 1124.3zM392.4 1113.6L402.9 1122.8L392.4 1132.0L381.9 1122.8zM394.6 1112.2L405.1 1121.4L394.6 1130.6L384.1 1121.4zM396.8 1110.8L407.3 1120.0L396.8 1129.2L386.3 1120.0zM399.0 1109.5L409.5 1118.7L399.0 1127.9L388.5 1118.7zM401.1 1108.2L411.6 1117.4L401.1 1126.6L390.6 1117.4zM403.3 1107.0L413.8 1116.2L403.3 1125.4L392.8 1116.2zM405.5 1105.8L416.0 1115.0L405.5 1124.2L395.0 1115.0zM407.7 1104.6L418.2 1113.8L407.7 1123.0L397.2 1113.8zM409.9 1103.5L420.4 1112.7L409.9 1121.9L399.4 1112.7zM412.0 1102.4L422.5 1111.6L412.0 1120.8L401.5 1111.6zM414.2 1101.3L424.7 1110.5L414.2 1119.7L403.7 1110.5zM416.4 1100.2L426.9 1109.4L416.4 1118.6L405.9 1109.4zM418.6 1099.2L429.1 1108.4L418.6 1117.6L408.1 1108.4zM420.8 1098.2L431.3 1107.4L420.8 1116.6L410.3 1107.4zM422.9 1097.2L433.4 1106.4L422.9 1115.6L412.4 1106.4zM425.1 1096.2L435.6 1105.4L425.1 1114.6L414.6 1105.4zM427.3 1095.2L437.8 1104.4L427.3 1113.6L416.8 1104.4zM429.5 1094.2L440.0 1103.4L429.5 1112.6L419.0 1103.4zM431.6 1093.3L442.1 1102.5L431.6 1111.7L421.1 1102.5zM433.8 1092.4L444.3 1101.6L433.8 1110.8L423.3 1101.6zM436.0 1091.5L446.5 1100.7L436.0 1109.9L425.5 1100.7zM438.2 1090.6L448.7 1099.8L438.2 1109.0L427.7 1099.8zM440.4 1089.7L450.9 1098.9L440.4 1108.1L429.9 1098.9zM442.5 1088.9L453.0 1098.1L442.5 1107.3L432.0 1098.1zM444.7 1088.0L455.2 1097.2L444.7 1106.4L434.2 1097.2zM446.9 1087.2L457.4 1096.4L446.9 1105.6L436.4 1096.4zM449.1 1086.3L459.6 1095.5L449.1 1104.7L438.6 1095.5zM451.3 1085.5L461.8 1094.7L451.3 1103.9L440.8 1094.7zM453.4 1084.7L463.9 1093.9L453.4 1103.1L442.9 1093.9zM455.6 1083.9L466.1 1093.1L455.6 1102.3L445.1 1093.1zM457.8 1083.1L468.3 1092.3L457.8 1101.5L447.3 1092.3zM460.0 1082.4L470.5 1091.6L460.0 1100.8L449.5 1091.6zM462.1 1081.6L472.6 1090.8L462.1 1100.0L451.6 1090.8zM464.3 1080.8L474.8 1090.0L464.3 1099.2L453.8 1090.0zM466.5 1080.1L477.0 1089.3L466.5 1098.5L456.0 1089.3zM468.7 1079.4L479.2 1088.6L468.7 1097.8L458.2 1088.6zM470.9 1078.6L481.4 1087.8L470.9 1097.0L460.4 1087.8zM473.0 1077.9L483.5 1087.1L473.0 1096.3L462.5 1087.1zM475.2 1077.2L485.7 1086.4L475.2 1095.6L464.7 1086.4zM477.4 1076.5L487.9 1085.7L477.4 1094.9L466.9 1085.7zM479.6 1075.7L490.1 1084.9L479.6 1094.1L469.1 1084.9zM481.8 1075.0L492.3 1084.2L481.8 1093.4L471.3 1084.2zM483.9 1074.3L494.4 1083.5L483.9 1092.7L473.4 1083.5zM486.1 1073.6L496.6 1082.8L486.1 1092.0L475.6 1082.8zM488.3 1073.0L498.8 1082.2L488.3 1091.4L477.8 1082.2zM490.5 1072.3L501.0 1081.5L490.5 1090.7L480.0 1081.5zM492.7 1071.6L503.2 1080.8L492.7 1090.0L482.2 1080.8zM494.8 1070.9L505.3 1080.1L494.8 1089.3L484.3 1080.1zM497.0 1070.2L507.5 1079.4L497.0 1088.6L486.5 1079.4zM499.2 1069.5L509.7 1078.7L499.2 1087.9L488.7 1078.7zM501.4 1068.8L511.9 1078.0L501.4 1087.2L490.9 1078.0zM503.5 1068.2L514.0 1077.4L503.5 1086.6L493.0 1077.4zM505.7 1067.5L516.2 1076.7L505.7 1085.9L495.2 1076.7zM507.9 1066.8L518.4 1076.0L507.9 1085.2L497.4 1076.0zM510.1 1066.1L520.6 1075.3L510.1 1084.5L499.6 1075.3zM512.3 1065.4L522.8 1074.6L512.3 1083.8L501.8 1074.6zM514.4 1064.7L524.9 1073.9L514.4 1083.1L503.9 1073.9zM516.6 1064.0L527.1 1073.2L516.6 1082.4L506.1 1073.2zM518.8 1063.4L529.3 1072.6L518.8 1081.8L508.3 1072.6zM521.0 1062.7L531.5 1071.9L521.0 1081.1L510.5 1071.9zM523.2 1062.0L533.7 1071.2L523.2 1080.4L512.7 1071.2zM525.3 1061.3L535.8 1070.5L525.3 1079.7L514.8 1070.5zM527.5 1060.6L538.0 1069.8L527.5 1079.0L517.0 1069.8zM529.7 1059.9L540.2 1069.1L529.7 1078.3L519.2 1069.1zM531.9 1059.2L542.4 1068.4L531.9 1077.6L521.4 1068.4zM534.0 1058.5L544.5 1067.7L534.0 1076.9L523.5 1067.7zM536.2 1057.8L546.7 1067.0L536.2 1076.2L525.7 1067.0zM538.4 1057.1L548.9 1066.3L538.4 1075.5L527.9 1066.3zM540.6 1056.4L551.1 1065.6L540.6 1074.8L530.1 1065.6zM542.8 1055.8L553.3 1065.0L542.8 1074.2L532.3 1065.0zM544.9 1055.1L555.4 1064.3L544.9 1073.5L534.4 1064.3zM547.1 1054.4L557.6 1063.6L547.1 1072.8L536.6 1063.6zM549.3 1053.7L559.8 1062.9L549.3 1072.1L538.8 1062.9zM551.5 1053.0L562.0 1062.2L551.5 1071.4L541.0 1062.2zM553.7 1052.3L564.2 1061.5L553.7 1070.7L543.2 1061.5zM555.8 1051.6L566.3 1060.8L555.8 1070.0L545.3 1060.8zM558.0 1050.9L568.5 1060.1L558.0 1069.3L547.5 1060.1zM560.2 1050.2L570.7 1059.4L560.2 1068.6L549.7 1059.4zM562.4 1049.5L572.9 1058.7L562.4 1067.9L551.9 1058.7zM564.6 1048.8L575.1 1058.0L564.6 1067.2L554.1 1058.0zM566.7 1048.1L577.2 1057.3L566.7 1066.5L556.2 1057.3zM568.9 1047.4L579.4 1056.6L568.9 1065.8L558.4 1056.6zM571.1 1046.7L581.6 1055.9L571.1 1065.1L560.6 1055.9zM573.3 1046.0L583.8 1055.2L573.3 1064.4L562.8 1055.2zM575.4 1045.3L585.9 1054.5L575.4 1063.7L564.9 1054.5zM577.6 1044.6L588.1 1053.8L577.6 1063.0L567.1 1053.8zM579.8 1043.9L590.3 1053.1L579.8 1062.3L569.3 1053.1zM582.0 1043.2L592.5 1052.4L582.0 1061.6L571.5 1052.4zM584.2 1042.5L594.7 1051.7L584.2 1060.9L573.7 1051.7zM586.3 1041.8L596.8 1051.0L586.3 1060.2L575.8 1051.0zM588.5 1041.1L599.0 1050.3L588.5 1059.5L578.0 1050.3zM590.7 1040.3L601.2 1049.5L590.7 1058.7L580.2 1049.5zM592.9 1039.6L603.4 1048.8L592.9 1058.0L582.4 1048.8zM595.1 1038.9L605.6 1048.1L595.1 1057.3L584.6 1048.1zM597.2 1038.2L607.7 1047.4L597.2 1056.6L586.7 1047.4zM599.4 1037.5L609.9 1046.7L599.4 1055.9L588.9 1046.7zM601.6 1036.8L612.1 1046.0L601.6 1055.2L591.1 1046.0zM603.8 1036.1L614.3 1045.3L603.8 1054.5L593.3 1045.3zM605.9 1035.4L616.4 1044.6L605.9 1053.8L595.4 1044.6zM608.1 1034.7L618.6 1043.9L608.1 1053.1L597.6 1043.9zM610.3 1034.0L620.8 1043.2L610.3 1052.4L599.8 1043.2zM612.5 1033.2L623.0 1042.4L612.5 1051.6L602.0 1042.4zM614.7 1032.5L625.2 1041.7L614.7 1050.9L604.2 1041.7zM616.8 1031.8L627.3 1041.0L616.8 1050.2L606.3 1041.0zM619.0 1031.1L629.5 1040.3L619.0 1049.5L608.5 1040.3zM621.2 1030.4L631.7 1039.6L621.2 1048.8L610.7 1039.6zM623.4 1029.7L633.9 1038.9L623.4 1048.1L612.9 1038.9zM625.6 1028.9L636.1 1038.1L625.6 1047.3L615.1 1038.1zM627.7 1028.2L638.2 1037.4L627.7 1046.6L617.2 1037.4zM629.9 1027.5L640.4 1036.7L629.9 1045.9L619.4 1036.7zM632.1 1026.8L642.6 1036.0L632.1 1045.2L621.6 1036.0zM634.3 1026.1L644.8 1035.3L634.3 1044.5L623.8 1035.3zM636.5 1025.3L647.0 1034.5L636.5 1043.7L626.0 1034.5zM638.6 1024.6L649.1 1033.8L638.6 1043.0L628.1 1033.8zM640.8 1023.9L651.3 1033.1L640.8 1042.3L630.3 1033.1zM643.0 1023.2L653.5 1032.4L643.0 1041.6L632.5 1032.4zM645.2 1022.5L655.7 1031.7L645.2 1040.9L634.7 1031.7zM647.3 1021.7L657.8 1030.9L647.3 1040.1L636.8 1030.9zM649.5 1021.0L660.0 1030.2L649.5 1039.4L639.0 1030.2zM651.7 1020.3L662.2 1029.5L651.7 1038.7L641.2 1029.5zM653.9 1019.5L664.4 1028.7L653.9 1037.9L643.4 1028.7zM656.1 1018.8L666.6 1028.0L656.1 1037.2L645.6 1028.0zM658.2 1018.1L668.7 1027.3L658.2 1036.5L647.7 1027.3zM660.4 1017.4L670.9 1026.6L660.4 1035.8L649.9 1026.6zM662.6 1016.6L673.1 1025.8L662.6 1035.0L652.1 1025.8zM664.8 1015.9L675.3 1025.1L664.8 1034.3L654.3 1025.1zM667.0 1015.2L677.5 1024.4L667.0 1033.6L656.5 1024.4zM669.1 1014.4L679.6 1023.6L669.1 1032.8L658.6 1023.6zM671.3 1013.7L681.8 1022.9L671.3 1032.1L660.8 1022.9zM673.5 1013.0L684.0 1022.2L673.5 1031.4L663.0 1022.2zM675.7 1012.2L686.2 1021.4L675.7 1030.6L665.2 1021.4zM677.8 1011.5L688.3 1020.7L677.8 1029.9L667.3 1020.7zM680.0 1010.8L690.5 1020.0L680.0 1029.2L669.5 1020.0zM682.2 1010.0L692.7 1019.2L682.2 1028.4L671.7 1019.2zM684.4 1009.3L694.9 1018.5L684.4 1027.7L673.9 1018.5zM686.6 1008.6L697.1 1017.8L686.6 1027.0L676.1 1017.8zM688.7 1007.8L699.2 1017.0L688.7 1026.2L678.2 1017.0zM690.9 1007.1L701.4 1016.3L690.9 1025.5L680.4 1016.3zM693.1 1006.3L703.6 1015.5L693.1 1024.7L682.6 1015.5zM695.3 1005.6L705.8 1014.8L695.3 1024.0L684.8 1014.8zM697.5 1004.8L708.0 1014.0L697.5 1023.2L687.0 1014.0zM699.6 1004.1L710.1 1013.3L699.6 1022.5L689.1 1013.3zM701.8 1003.4L712.3 1012.6L701.8 1021.8L691.3 1012.6zM704.0 1002.6L714.5 1011.8L704.0 1021.0L693.5 1011.8zM706.2 1001.9L716.7 1011.1L706.2 1020.3L695.7 1011.1zM708.3 1001.1L718.8 1010.3L708.3 1019.5L697.8 1010.3zM710.5 1000.4L721.0 1009.6L710.5 1018.8L700.0 1009.6zM712.7 999.6L723.2 1008.8L712.7 1018.0L702.2 1008.8zM714.9 998.9L725.4 1008.1L714.9 1017.3L704.4 1008.1zM717.1 998.1L727.6 1007.3L717.1 1016.5L706.6 1007.3zM719.2 997.4L729.7 1006.6L719.2 1015.8L708.7 1006.6zM721.4 996.6L731.9 1005.8L721.4 1015.0L710.9 1005.8zM723.6 995.9L734.1 1005.1L723.6 1014.3L713.1 1005.1zM725.8 995.1L736.3 1004.3L725.8 1013.5L715.3 1004.3zM728.0 994.4L738.5 1003.6L728.0 1012.8L717.5 1003.6zM730.1 993.6L740.6 1002.8L730.1 1012.0L719.6 1002.8zM732.3 992.9L742.8 1002.1L732.3 1011.3L721.8 1002.1zM734.5 992.1L745.0 1001.3L734.5 1010.5L724.0 1001.3zM736.7 991.4L747.2 1000.6L736.7 1009.8L726.2 1000.6zM738.9 990.6L749.4 999.8L738.9 1009.0L728.4 999.8zM741.0 989.8L751.5 999.0L741.0 1008.2L730.5 999.0zM743.2 989.1L753.7 998.3L743.2 1007.5L732.7 998.3zM745.4 988.3L755.9 997.5L745.4 1006.7L734.9 997.5zM747.6 987.6L758.1 996.8L747.6 1006.0L737.1 996.8zM749.7 986.8L760.2 996.0L749.7 1005.2L739.2 996.0zM751.9 986.0L762.4 995.2L751.9 1004.4L741.4 995.2zM754.1 985.3L764.6 994.5L754.1 1003.7L743.6 994.5zM756.3 984.5L766.8 993.7L756.3 1002.9L745.8 993.7zM758.5 983.7L769.0 992.9L758.5 1002.1L748.0 992.9zM760.6 983.0L771.1 992.2L760.6 1001.4L750.1 992.2zM762.8 982.2L773.3 991.4L762.8 1000.6L752.3 991.4zM765.0 981.4L775.5 990.6L765.0 999.8L754.5 990.6zM767.2 980.7L777.7 989.9L767.2 999.1L756.7 989.9zM769.4 979.9L779.9 989.1L769.4 998.3L758.9 989.1zM771.5 979.1L782.0 988.3L771.5 997.5L761.0 988.3zM773.7 978.4L784.2 987.6L773.7 996.8L763.2 987.6zM775.9 977.6L786.4 986.8L775.9 996.0L765.4 986.8zM778.1 976.8L788.6 986.0L778.1 995.2L767.6 986.0zM780.2 976.0L790.7 985.2L780.2 994.4L769.7 985.2zM782.4 975.3L792.9 984.5L782.4 993.7L771.9 984.5zM784.6 974.5L795.1 983.7L784.6 992.9L774.1 983.7zM786.8 973.7L797.3 982.9L786.8 992.1L776.3 982.9zM789.0 972.9L799.5 982.1L789.0 991.3L778.5 982.1zM791.1 972.2L801.6 981.4L791.1 990.6L780.6 981.4zM793.3 971.4L803.8 980.6L793.3 989.8L782.8 980.6zM795.5 970.6L806.0 979.8L795.5 989.0L785.0 979.8zM797.7 969.8L808.2 979.0L797.7 988.2L787.2 979.0zM799.9 969.0L810.4 978.2L799.9 987.4L789.4 978.2zM802.0 968.3L812.5 977.5L802.0 986.7L791.5 977.5zM804.2 967.5L814.7 976.7L804.2 985.9L793.7 976.7zM806.4 966.7L816.9 975.9L806.4 985.1L795.9 975.9zM808.6 965.9L819.1 975.1L808.6 984.3L798.1 975.1zM810.8 965.1L821.2 974.3L810.8 983.5L800.2 974.3zM812.9 964.3L823.4 973.5L812.9 982.7L802.4 973.5zM815.1 963.5L825.6 972.7L815.1 981.9L804.6 972.7zM817.3 962.7L827.8 971.9L817.3 981.1L806.8 971.9zM819.5 962.0L830.0 971.2L819.5 980.4L809.0 971.2zM821.6 961.2L832.1 970.4L821.6 979.6L811.1 970.4zM823.8 960.4L834.3 969.6L823.8 978.8L813.3 969.6zM826.0 959.6L836.5 968.8L826.0 978.0L815.5 968.8zM828.2 958.8L838.7 968.0L828.2 977.2L817.7 968.0zM830.4 958.0L840.9 967.2L830.4 976.4L819.9 967.2zM832.5 957.2L843.0 966.4L832.5 975.6L822.0 966.4zM834.7 956.4L845.2 965.6L834.7 974.8L824.2 965.6zM836.9 955.6L847.4 964.8L836.9 974.0L826.4 964.8zM839.1 954.8L849.6 964.0L839.1 973.2L828.6 964.0zM841.3 954.0L851.8 963.2L841.3 972.4L830.8 963.2zM843.4 953.2L853.9 962.4L843.4 971.6L832.9 962.4zM845.6 952.4L856.1 961.6L845.6 970.8L835.1 961.6zM847.8 951.6L858.3 960.8L847.8 970.0L837.3 960.8zM850.0 950.8L860.5 960.0L850.0 969.2L839.5 960.0zM852.1 950.0L862.6 959.2L852.1 968.4L841.6 959.2zM854.3 949.2L864.8 958.4L854.3 967.6L843.8 958.4zM856.5 948.4L867.0 957.6L856.5 966.8L846.0 957.6zM858.7 947.6L869.2 956.8L858.7 966.0L848.2 956.8zM860.9 946.8L871.4 956.0L860.9 965.2L850.4 956.0zM863.0 946.0L873.5 955.2L863.0 964.4L852.5 955.2zM865.2 945.1L875.7 954.3L865.2 963.5L854.7 954.3zM867.4 944.3L877.9 953.5L867.4 962.7L856.9 953.5zM869.6 943.5L880.1 952.7L869.6 961.9L859.1 952.7zM871.8 942.7L882.3 951.9L871.8 961.1L861.3 951.9zM873.9 941.9L884.4 951.1L873.9 960.3L863.4 951.1zM876.1 941.1L886.6 950.3L876.1 959.5L865.6 950.3zM878.3 940.3L888.8 949.5L878.3 958.7L867.8 949.5zM880.5 939.4L891.0 948.6L880.5 957.8L870.0 948.6zM882.6 938.6L893.1 947.8L882.6 957.0L872.1 947.8zM884.8 937.8L895.3 947.0L884.8 956.2L874.3 947.0zM887.0 937.0L897.5 946.2L887.0 955.4L876.5 946.2zM889.2 936.2L899.7 945.4L889.2 954.6L878.7 945.4zM891.4 935.3L901.9 944.5L891.4 953.7L880.9 944.5zM893.5 934.5L904.0 943.7L893.5 952.9L883.0 943.7zM895.7 933.7L906.2 942.9L895.7 952.1L885.2 942.9zM897.9 932.9L908.4 942.1L897.9 951.3L887.4 942.1zM900.1 932.0L910.6 941.2L900.1 950.4L889.6 941.2zM902.3 931.2L912.8 940.4L902.3 949.6L891.8 940.4zM904.4 930.4L914.9 939.6L904.4 948.8L893.9 939.6zM906.6 929.6L917.1 938.8L906.6 948.0L896.1 938.8zM908.8 928.7L919.3 937.9L908.8 947.1L898.3 937.9zM911.0 927.9L921.5 937.1L911.0 946.3L900.5 937.1zM913.2 927.1L923.7 936.3L913.2 945.5L902.7 936.3zM915.3 926.2L925.8 935.4L915.3 944.6L904.8 935.4zM917.5 925.4L928.0 934.6L917.5 943.8L907.0 934.6zM919.7 924.6L930.2 933.8L919.7 943.0L909.2 933.8zM921.9 923.7L932.4 932.9L921.9 942.1L911.4 932.9zM924.0 922.9L934.5 932.1L924.0 941.3L913.5 932.1zM926.2 922.0L936.7 931.2L926.2 940.4L915.7 931.2zM928.4 921.2L938.9 930.4L928.4 939.6L917.9 930.4zM930.6 920.4L941.1 929.6L930.6 938.8L920.1 929.6zM932.8 919.5L943.3 928.7L932.8 937.9L922.3 928.7zM934.9 918.7L945.4 927.9L934.9 937.1L924.4 927.9zM937.1 917.8L947.6 927.0L937.1 936.2L926.6 927.0zM939.3 917.0L949.8 926.2L939.3 935.4L928.8 926.2zM941.5 916.1L952.0 925.3L941.5 934.5L931.0 925.3zM943.7 915.3L954.2 924.5L943.7 933.7L933.2 924.5zM945.8 914.4L956.3 923.6L945.8 932.8L935.3 923.6zM948.0 913.6L958.5 922.8L948.0 932.0L937.5 922.8zM950.2 912.7L960.7 921.9L950.2 931.1L939.7 921.9zM952.4 911.9L962.9 921.1L952.4 930.3L941.9 921.1zM954.5 911.0L965.0 920.2L954.5 929.4L944.0 920.2zM956.7 910.2L967.2 919.4L956.7 928.6L946.2 919.4zM958.9 909.3L969.4 918.5L958.9 927.7L948.4 918.5zM961.1 908.5L971.6 917.7L961.1 926.9L950.6 917.7zM963.3 907.6L973.8 916.8L963.3 926.0L952.8 916.8zM965.4 906.7L975.9 915.9L965.4 925.1L954.9 915.9zM967.6 905.9L978.1 915.1L967.6 924.3L957.1 915.1zM969.8 905.0L980.3 914.2L969.8 923.4L959.3 914.2zM972.0 904.2L982.5 913.4L972.0 922.6L961.5 913.4zM974.2 903.3L984.7 912.5L974.2 921.7L963.7 912.5zM976.3 902.4L986.8 911.6L976.3 920.8L965.8 911.6zM978.5 901.6L989.0 910.8L978.5 920.0L968.0 910.8zM980.7 900.7L991.2 909.9L980.7 919.1L970.2 909.9zM982.9 899.8L993.4 909.0L982.9 918.2L972.4 909.0zM985.0 899.0L995.5 908.2L985.0 917.4L974.5 908.2zM987.2 898.1L997.7 907.3L987.2 916.5L976.7 907.3zM989.4 897.2L999.9 906.4L989.4 915.6L978.9 906.4zM991.6 896.3L1002.1 905.5L991.6 914.7L981.1 905.5zM993.8 895.5L1004.3 904.7L993.8 913.9L983.3 904.7zM995.9 894.6L1006.4 903.8L995.9 913.0L985.4 903.8zM998.1 893.7L1008.6 902.9L998.1 912.1L987.6 902.9zM1000.3 892.8L1010.8 902.0L1000.3 911.2L989.8 902.0zM1002.5 892.0L1013.0 901.2L1002.5 910.4L992.0 901.2zM1004.7 891.1L1015.2 900.3L1004.7 909.5L994.2 900.3zM1006.8 890.2L1017.3 899.4L1006.8 908.6L996.3 899.4zM1009.0 889.3L1019.5 898.5L1009.0 907.7L998.5 898.5zM1011.2 888.4L1021.7 897.6L1011.2 906.8L1000.7 897.6zM1013.4 887.6L1023.9 896.8L1013.4 906.0L1002.9 896.8zM1015.6 886.7L1026.1 895.9L1015.6 905.1L1005.1 895.9zM1017.7 885.8L1028.2 895.0L1017.7 904.2L1007.2 895.0zM1019.9 884.9L1030.4 894.1L1019.9 903.3L1009.4 894.1zM1022.1 884.0L1032.6 893.2L1022.1 902.4L1011.6 893.2zM1024.3 883.1L1034.8 892.3L1024.3 901.5L1013.8 892.3zM1026.4 882.2L1036.9 891.4L1026.4 900.6L1015.9 891.4zM1028.6 881.3L1039.1 890.5L1028.6 899.7L1018.1 890.5zM1030.8 880.4L1041.3 889.6L1030.8 898.8L1020.3 889.6zM1033.0 879.5L1043.5 888.7L1033.0 897.9L1022.5 888.7zM1035.2 878.7L1045.7 887.9L1035.2 897.1L1024.7 887.9zM1037.3 877.8L1047.8 887.0L1037.3 896.2L1026.8 887.0zM1039.5 876.9L1050.0 886.1L1039.5 895.3L1029.0 886.1zM1041.7 876.0L1052.2 885.2L1041.7 894.4L1031.2 885.2zM1043.9 875.1L1054.4 884.3L1043.9 893.5L1033.4 884.3zM1046.1 874.2L1056.6 883.4L1046.1 892.6L1035.6 883.4zM1048.2 873.3L1058.7 882.5L1048.2 891.7L1037.7 882.5zM1050.4 872.3L1060.9 881.5L1050.4 890.7L1039.9 881.5zM1052.6 871.4L1063.1 880.6L1052.6 889.8L1042.1 880.6zM1054.8 870.5L1065.3 879.7L1054.8 888.9L1044.3 879.7zM1056.9 869.6L1067.4 878.8L1056.9 888.0L1046.4 878.8zM1059.1 868.7L1069.6 877.9L1059.1 887.1L1048.6 877.9zM1061.3 867.8L1071.8 877.0L1061.3 886.2L1050.8 877.0zM1063.5 866.9L1074.0 876.1L1063.5 885.3L1053.0 876.1zM1065.7 866.0L1076.2 875.2L1065.7 884.4L1055.2 875.2zM1067.8 865.1L1078.3 874.3L1067.8 883.5L1057.3 874.3zM1070.0 864.2L1080.5 873.4L1070.0 882.6L1059.5 873.4zM1072.2 863.2L1082.7 872.4L1072.2 881.6L1061.7 872.4zM1074.4 862.3L1084.9 871.5L1074.4 880.7L1063.9 871.5zM1076.6 861.4L1087.1 870.6L1076.6 879.8L1066.1 870.6zM1078.7 860.5L1089.2 869.7L1078.7 878.9L1068.2 869.7zM1080.9 859.6L1091.4 868.8L1080.9 878.0L1070.4 868.8zM1083.1 858.7L1093.6 867.9L1083.1 877.1L1072.6 867.9zM1085.3 857.7L1095.8 866.9L1085.3 876.1L1074.8 866.9zM1087.5 856.8L1098.0 866.0L1087.5 875.2L1077.0 866.0zM1089.6 855.9L1100.1 865.1L1089.6 874.3L1079.1 865.1zM1091.8 855.0L1102.3 864.2L1091.8 873.4L1081.3 864.2zM1094.0 854.0L1104.5 863.2L1094.0 872.4L1083.5 863.2zM1096.2 853.1L1106.7 862.3L1096.2 871.5L1085.7 862.3zM1098.3 852.2L1108.8 861.4L1098.3 870.6L1087.8 861.4zM1100.5 851.2L1111.0 860.4L1100.5 869.6L1090.0 860.4zM1102.7 850.3L1113.2 859.5L1102.7 868.7L1092.2 859.5zM1104.9 849.4L1115.4 858.6L1104.9 867.8L1094.4 858.6zM1107.1 848.4L1117.6 857.6L1107.1 866.8L1096.6 857.6zM1109.2 847.5L1119.7 856.7L1109.2 865.9L1098.7 856.7zM1111.4 846.6L1121.9 855.8L1111.4 865.0L1100.9 855.8zM1113.6 845.6L1124.1 854.8L1113.6 864.0L1103.1 854.8zM1115.8 844.7L1126.3 853.9L1115.8 863.1L1105.3 853.9zM1118.0 843.8L1128.5 853.0L1118.0 862.2L1107.5 853.0zM1120.1 842.8L1130.6 852.0L1120.1 861.2L1109.6 852.0zM1122.3 841.9L1132.8 851.1L1122.3 860.3L1111.8 851.1zM1124.5 840.9L1135.0 850.1L1124.5 859.3L1114.0 850.1zM1126.7 840.0L1137.2 849.2L1126.7 858.4L1116.2 849.2zM1128.8 839.0L1139.3 848.2L1128.8 857.4L1118.3 848.2zM1131.0 838.1L1141.5 847.3L1131.0 856.5L1120.5 847.3zM1133.2 837.1L1143.7 846.3L1133.2 855.5L1122.7 846.3zM1135.4 836.2L1145.9 845.4L1135.4 854.6L1124.9 845.4zM1137.6 835.2L1148.1 844.4L1137.6 853.6L1127.1 844.4zM1139.7 834.3L1150.2 843.5L1139.7 852.7L1129.2 843.5zM1141.9 833.3L1152.4 842.5L1141.9 851.7L1131.4 842.5zM1144.1 832.4L1154.6 841.6L1144.1 850.8L1133.6 841.6zM1146.3 831.4L1156.8 840.6L1146.3 849.8L1135.8 840.6zM1148.5 830.5L1159.0 839.7L1148.5 848.9L1138.0 839.7zM1150.6 829.5L1161.1 838.7L1150.6 847.9L1140.1 838.7zM1152.8 828.6L1163.3 837.8L1152.8 847.0L1142.3 837.8zM1155.0 827.6L1165.5 836.8L1155.0 846.0L1144.5 836.8zM1157.2 826.6L1167.7 835.8L1157.2 845.0L1146.7 835.8zM1159.3 825.7L1169.8 834.9L1159.3 844.1L1148.8 834.9zM1161.5 824.7L1172.0 833.9L1161.5 843.1L1151.0 833.9zM1163.7 823.8L1174.2 833.0L1163.7 842.2L1153.2 833.0zM1165.9 822.8L1176.4 832.0L1165.9 841.2L1155.4 832.0zM1168.1 821.8L1178.6 831.0L1168.1 840.2L1157.6 831.0zM1170.2 820.9L1180.7 830.1L1170.2 839.3L1159.7 830.1zM1172.4 819.9L1182.9 829.1L1172.4 838.3L1161.9 829.1zM1174.6 818.9L1185.1 828.1L1174.6 837.3L1164.1 828.1zM1176.8 817.9L1187.3 827.1L1176.8 836.3L1166.3 827.1zM1179.0 817.0L1189.5 826.2L1179.0 835.4L1168.5 826.2zM1181.1 816.0L1191.6 825.2L1181.1 834.4L1170.6 825.2zM1183.3 815.0L1193.8 824.2L1183.3 833.4L1172.8 824.2zM1185.5 814.0L1196.0 823.2L1185.5 832.4L1175.0 823.2zM1187.7 813.1L1198.2 822.3L1187.7 831.5L1177.2 822.3zM1189.9 812.1L1200.4 821.3L1189.9 830.5L1179.4 821.3zM1192.0 811.1L1202.5 820.3L1192.0 829.5L1181.5 820.3zM1194.2 810.1L1204.7 819.3L1194.2 828.5L1183.7 819.3zM1196.4 809.2L1206.9 818.4L1196.4 827.6L1185.9 818.4zM1198.6 808.2L1209.1 817.4L1198.6 826.6L1188.1 817.4zM1200.7 807.2L1211.2 816.4L1200.7 825.6L1190.2 816.4zM1202.9 806.2L1213.4 815.4L1202.9 824.6L1192.4 815.4zM1205.1 805.2L1215.6 814.4L1205.1 823.6L1194.6 814.4zM1207.3 804.2L1217.8 813.4L1207.3 822.6L1196.8 813.4zM1209.5 803.2L1220.0 812.4L1209.5 821.6L1199.0 812.4zM1211.6 802.2L1222.1 811.4L1211.6 820.6L1201.1 811.4zM1213.8 801.3L1224.3 810.5L1213.8 819.7L1203.3 810.5zM1216.0 800.3L1226.5 809.5L1216.0 818.7L1205.5 809.5zM1218.2 799.3L1228.7 808.5L1218.2 817.7L1207.7 808.5zM1220.4 798.3L1230.9 807.5L1220.4 816.7L1209.9 807.5zM1222.5 797.3L1233.0 806.5L1222.5 815.7L1212.0 806.5zM1224.7 796.3L1235.2 805.5L1224.7 814.7L1214.2 805.5zM1226.9 795.3L1237.4 804.5L1226.9 813.7L1216.4 804.5zM1229.1 794.3L1239.6 803.5L1229.1 812.7L1218.6 803.5zM1231.2 793.3L1241.7 802.5L1231.2 811.7L1220.7 802.5zM1233.4 792.3L1243.9 801.5L1233.4 810.7L1222.9 801.5zM1235.6 791.3L1246.1 800.5L1235.6 809.7L1225.1 800.5zM1237.8 790.3L1248.3 799.5L1237.8 808.7L1227.3 799.5zM1240.0 789.3L1250.5 798.5L1240.0 807.7L1229.5 798.5zM1242.1 788.3L1252.6 797.5L1242.1 806.7L1231.6 797.5zM1244.3 787.3L1254.8 796.5L1244.3 805.7L1233.8 796.5zM1246.5 786.3L1257.0 795.5L1246.5 804.7L1236.0 795.5zM1248.7 785.3L1259.2 794.5L1248.7 803.7L1238.2 794.5zM1250.9 784.2L1261.4 793.4L1250.9 802.6L1240.4 793.4zM1253.0 783.2L1263.5 792.4L1253.0 801.6L1242.5 792.4zM1255.2 782.2L1265.7 791.4L1255.2 800.6L1244.7 791.4zM1257.4 781.2L1267.9 790.4L1257.4 799.6L1246.9 790.4zM1259.6 780.2L1270.1 789.4L1259.6 798.6L1249.1 789.4zM1261.8 779.2L1272.3 788.4L1261.8 797.6L1251.3 788.4zM1263.9 778.2L1274.4 787.4L1263.9 796.6L1253.4 787.4zM1266.1 777.1L1276.6 786.3L1266.1 795.5L1255.6 786.3zM1268.3 776.1L1278.8 785.3L1268.3 794.5L1257.8 785.3zM1270.5 775.1L1281.0 784.3L1270.5 793.5L1260.0 784.3zM1272.6 774.1L1283.1 783.3L1272.6 792.5L1262.1 783.3zM1274.8 773.1L1285.3 782.3L1274.8 791.5L1264.3 782.3zM1277.0 772.0L1287.5 781.2L1277.0 790.4L1266.5 781.2zM1279.2 771.0L1289.7 780.2L1279.2 789.4L1268.7 780.2zM1281.4 770.0L1291.9 779.2L1281.4 788.4L1270.9 779.2zM1283.5 769.0L1294.0 778.2L1283.5 787.4L1273.0 778.2zM1285.7 767.9L1296.2 777.1L1285.7 786.3L1275.2 777.1zM1287.9 766.9L1298.4 776.1L1287.9 785.3L1277.4 776.1zM1290.1 765.9L1300.6 775.1L1290.1 784.3L1279.6 775.1zM1292.3 764.8L1302.8 774.0L1292.3 783.2L1281.8 774.0zM1294.4 763.8L1304.9 773.0L1294.4 782.2L1283.9 773.0zM1296.6 762.8L1307.1 772.0L1296.6 781.2L1286.1 772.0zM1298.8 761.7L1309.3 770.9L1298.8 780.1L1288.3 770.9zM1301.0 760.7L1311.5 769.9L1301.0 779.1L1290.5 769.9zM1303.1 759.7L1313.6 768.9L1303.1 778.1L1292.6 768.9zM1305.3 758.6L1315.8 767.8L1305.3 777.0L1294.8 767.8zM1307.5 757.6L1318.0 766.8L1307.5 776.0L1297.0 766.8zM1309.7 756.5L1320.2 765.7L1309.7 774.9L1299.2 765.7zM1311.9 755.5L1322.4 764.7L1311.9 773.9L1301.4 764.7zM1314.0 754.4L1324.5 763.6L1314.0 772.8L1303.5 763.6zM1316.2 753.4L1326.7 762.6L1316.2 771.8L1305.7 762.6zM1318.4 752.4L1328.9 761.6L1318.4 770.8L1307.9 761.6zM1320.6 751.3L1331.1 760.5L1320.6 769.7L1310.1 760.5zM1322.8 750.3L1333.3 759.5L1322.8 768.7L1312.3 759.5zM1324.9 749.2L1335.4 758.4L1324.9 767.6L1314.4 758.4zM1327.1 748.2L1337.6 757.4L1327.1 766.6L1316.6 757.4zM1329.3 747.1L1339.8 756.3L1329.3 765.5L1318.8 756.3zM1331.5 746.1L1342.0 755.3L1331.5 764.5L1321.0 755.3zM1333.7 745.0L1344.2 754.2L1333.7 763.4L1323.2 754.2zM1335.8 744.0L1346.3 753.2L1335.8 762.4L1325.3 753.2zM1338.0 742.9L1348.5 752.1L1338.0 761.3L1327.5 752.1zM1340.2 741.8L1350.7 751.0L1340.2 760.2L1329.7 751.0zM1342.4 740.8L1352.9 750.0L1342.4 759.2L1331.9 750.0zM1344.5 739.7L1355.0 748.9L1344.5 758.1L1334.0 748.9zM1346.7 738.7L1357.2 747.9L1346.7 757.1L1336.2 747.9zM1348.9 737.6L1359.4 746.8L1348.9 756.0L1338.4 746.8zM1351.1 736.5L1361.6 745.7L1351.1 754.9L1340.6 745.7zM1353.3 735.5L1363.8 744.7L1353.3 753.9L1342.8 744.7zM1355.4 734.4L1365.9 743.6L1355.4 752.8L1344.9 743.6zM1357.6 733.4L1368.1 742.6L1357.6 751.8L1347.1 742.6zM1359.8 732.3L1370.3 741.5L1359.8 750.7L1349.3 741.5zM1362.0 731.2L1372.5 740.4L1362.0 749.6L1351.5 740.4zM1364.2 730.2L1374.7 739.4L1364.2 748.6L1353.7 739.4zM1366.3 729.1L1376.8 738.3L1366.3 747.5L1355.8 738.3zM1368.5 728.0L1379.0 737.2L1368.5 746.4L1358.0 737.2zM1370.7 727.0L1381.2 736.2L1370.7 745.4L1360.2 736.2zM1372.9 725.9L1383.4 735.1L1372.9 744.3L1362.4 735.1zM1375.0 724.8L1385.5 734.0L1375.0 743.2L1364.5 734.0zM1377.2 723.7L1387.7 732.9L1377.2 742.1L1366.7 732.9zM1379.4 722.7L1389.9 731.9L1379.4 741.1L1368.9 731.9zM1381.6 721.6L1392.1 730.8L1381.6 740.0L1371.1 730.8zM1383.8 720.5L1394.3 729.7L1383.8 738.9L1373.3 729.7zM1385.9 719.4L1396.4 728.6L1385.9 737.8L1375.4 728.6zM1388.1 718.4L1398.6 727.6L1388.1 736.8L1377.6 727.6zM1390.3 717.3L1400.8 726.5L1390.3 735.7L1379.8 726.5zM1392.5 716.2L1403.0 725.4L1392.5 734.6L1382.0 725.4zM1394.7 715.1L1405.2 724.3L1394.7 733.5L1384.2 724.3zM1396.8 714.1L1407.3 723.3L1396.8 732.5L1386.3 723.3zM1399.0 713.0L1409.5 722.2L1399.0 731.4L1388.5 722.2zM1401.2 711.9L1411.7 721.1L1401.2 730.3L1390.7 721.1zM1403.4 710.8L1413.9 720.0L1403.4 729.2L1392.9 720.0zM1405.5 709.7L1416.0 718.9L1405.5 728.1L1395.0 718.9zM1407.7 708.6L1418.2 717.8L1407.7 727.0L1397.2 717.8zM1409.9 707.6L1420.4 716.8L1409.9 726.0L1399.4 716.8zM1412.1 706.5L1422.6 715.7L1412.1 724.9L1401.6 715.7zM1414.3 705.4L1424.8 714.6L1414.3 723.8L1403.8 714.6zM1416.4 704.3L1426.9 713.5L1416.4 722.7L1405.9 713.5zM1418.6 703.2L1429.1 712.4L1418.6 721.6L1408.1 712.4zM1420.8 702.1L1431.3 711.3L1420.8 720.5L1410.3 711.3zM1423.0 701.0L1433.5 710.2L1423.0 719.4L1412.5 710.2zM1425.2 699.9L1435.7 709.1L1425.2 718.3L1414.7 709.1zM1427.3 698.9L1437.8 708.1L1427.3 717.3L1416.8 708.1zM1429.5 697.8L1440.0 707.0L1429.5 716.2L1419.0 707.0zM1431.7 696.7L1442.2 705.9L1431.7 715.1L1421.2 705.9zM1433.9 695.6L1444.4 704.8L1433.9 714.0L1423.4 704.8zM1436.1 694.5L1446.6 703.7L1436.1 712.9L1425.6 703.7zM1438.2 693.4L1448.7 702.6L1438.2 711.8L1427.7 702.6zM1440.4 692.3L1450.9 701.5L1440.4 710.7L1429.9 701.5zM1442.6 691.2L1453.1 700.4L1442.6 709.6L1432.1 700.4zM1444.8 690.1L1455.3 699.3L1444.8 708.5L1434.3 699.3zM1446.9 689.0L1457.4 698.2L1446.9 707.4L1436.4 698.2zM1449.1 687.9L1459.6 697.1L1449.1 706.3L1438.6 697.1zM1451.3 686.8L1461.8 696.0L1451.3 705.2L1440.8 696.0zM1453.5 685.7L1464.0 694.9L1453.5 704.1L1443.0 694.9zM1455.7 684.6L1466.2 693.8L1455.7 703.0L1445.2 693.8zM1457.8 683.5L1468.3 692.7L1457.8 701.9L1447.3 692.7zM1460.0 682.4L1470.5 691.6L1460.0 700.8L1449.5 691.6zM1462.2 681.3L1472.7 690.5L1462.2 699.7L1451.7 690.5zM1464.4 680.2L1474.9 689.4L1464.4 698.6L1453.9 689.4zM1466.6 679.1L1477.1 688.3L1466.6 697.5L1456.1 688.3zM1468.7 678.0L1479.2 687.2L1468.7 696.4L1458.2 687.2zM1470.9 676.9L1481.4 686.1L1470.9 695.3L1460.4 686.1zM1473.1 675.8L1483.6 685.0L1473.1 694.2L1462.6 685.0zM1475.3 674.7L1485.8 683.9L1475.3 693.1L1464.8 683.9zM1477.4 673.6L1487.9 682.8L1477.4 692.0L1466.9 682.8zM1479.6 672.5L1490.1 681.7L1479.6 690.9L1469.1 681.7zM1481.8 671.4L1492.3 680.6L1481.8 689.8L1471.3 680.6zM1484.0 670.3L1494.5 679.5L1484.0 688.7L1473.5 679.5zM1486.2 669.2L1496.7 678.4L1486.2 687.6L1475.7 678.4zM1488.3 668.1L1498.8 677.3L1488.3 686.5L1477.8 677.3zM1490.5 667.0L1501.0 676.2L1490.5 685.4L1480.0 676.2zM1492.7 665.9L1503.2 675.1L1492.7 684.3L1482.2 675.1zM1494.9 664.7L1505.4 673.9L1494.9 683.1L1484.4 673.9zM1497.1 663.6L1507.6 672.8L1497.1 682.0L1486.6 672.8zM1499.2 662.5L1509.7 671.7L1499.2 680.9L1488.7 671.7zM1501.4 661.4L1511.9 670.6L1501.4 679.8L1490.9 670.6zM1503.6 660.3L1514.1 669.5L1503.6 678.7L1493.1 669.5zM1505.8 659.2L1516.3 668.4L1505.8 677.6L1495.3 668.4zM1508.0 658.1L1518.5 667.3L1508.0 676.5L1497.5 667.3zM1510.1 657.0L1520.6 666.2L1510.1 675.4L1499.6 666.2zM1512.3 655.9L1522.8 665.1L1512.3 674.3L1501.8 665.1zM1514.5 654.8L1525.0 664.0L1514.5 673.2L1504.0 664.0zM1516.7 653.6L1527.2 662.8L1516.7 672.0L1506.2 662.8zM1518.8 652.5L1529.3 661.7L1518.8 670.9L1508.3 661.7zM1521.0 651.4L1531.5 660.6L1521.0 669.8L1510.5 660.6zM1523.2 650.3L1533.7 659.5L1523.2 668.7L1512.7 659.5zM1525.4 649.2L1535.9 658.4L1525.4 667.6L1514.9 658.4zM1527.6 648.1L1538.1 657.3L1527.6 666.5L1517.1 657.3zM1529.7 646.9L1540.2 656.1L1529.7 665.3L1519.2 656.1zM1531.9 645.8L1542.4 655.0L1531.9 664.2L1521.4 655.0zM1534.1 644.7L1544.6 653.9L1534.1 663.1L1523.6 653.9zM1536.3 643.6L1546.8 652.8L1536.3 662.0L1525.8 652.8zM1538.5 642.5L1549.0 651.7L1538.5 660.9L1528.0 651.7zM1540.6 641.3L1551.1 650.5L1540.6 659.7L1530.1 650.5zM1542.8 640.2L1553.3 649.4L1542.8 658.6L1532.3 649.4zM1545.0 639.1L1555.5 648.3L1545.0 657.5L1534.5 648.3zM1547.2 638.0L1557.7 647.2L1547.2 656.4L1536.7 647.2zM1549.3 636.9L1559.8 646.1L1549.3 655.3L1538.8 646.1zM1551.5 635.7L1562.0 644.9L1551.5 654.1L1541.0 644.9zM1553.7 634.6L1564.2 643.8L1553.7 653.0L1543.2 643.8zM1555.9 633.5L1566.4 642.7L1555.9 651.9L1545.4 642.7zM1558.1 632.3L1568.6 641.5L1558.1 650.7L1547.6 641.5zM1560.2 631.2L1570.7 640.4L1560.2 649.6L1549.7 640.4zM1562.4 630.1L1572.9 639.3L1562.4 648.5L1551.9 639.3zM1564.6 628.9L1575.1 638.1L1564.6 647.3L1554.1 638.1zM1566.8 627.8L1577.3 637.0L1566.8 646.2L1556.3 637.0zM1569.0 626.7L1579.5 635.9L1569.0 645.1L1558.5 635.9zM1571.1 625.5L1581.6 634.7L1571.1 643.9L1560.6 634.7zM1573.3 624.4L1583.8 633.6L1573.3 642.8L1562.8 633.6zM1575.5 623.3L1586.0 632.5L1575.5 641.7L1565.0 632.5zM1577.7 622.1L1588.2 631.3L1577.7 640.5L1567.2 631.3zM1579.8 621.0L1590.3 630.2L1579.8 639.4L1569.3 630.2zM1582.0 619.8L1592.5 629.0L1582.0 638.2L1571.5 629.0zM1584.2 618.7L1594.7 627.9L1584.2 637.1L1573.7 627.9zM1586.4 617.5L1596.9 626.7L1586.4 635.9L1575.9 626.7zM1588.6 616.4L1599.1 625.6L1588.6 634.8L1578.1 625.6zM1590.7 615.2L1601.2 624.4L1590.7 633.6L1580.2 624.4zM1592.9 614.1L1603.4 623.3L1592.9 632.5L1582.4 623.3zM1595.1 612.9L1605.6 622.1L1595.1 631.3L1584.6 622.1zM1597.3 611.8L1607.8 621.0L1597.3 630.2L1586.8 621.0zM1599.5 610.6L1610.0 619.8L1599.5 629.0L1589.0 619.8zM1601.6 609.5L1612.1 618.7L1601.6 627.9L1591.1 618.7zM1603.8 608.3L1614.3 617.5L1603.8 626.7L1593.3 617.5zM1606.0 607.2L1616.5 616.4L1606.0 625.6L1595.5 616.4zM1608.2 606.0L1618.7 615.2L1608.2 624.4L1597.7 615.2zM1610.4 604.8L1620.9 614.0L1610.4 623.2L1599.9 614.0zM1612.5 603.7L1623.0 612.9L1612.5 622.1L1602.0 612.9zM1614.7 602.5L1625.2 611.7L1614.7 620.9L1604.2 611.7zM1616.9 601.3L1627.4 610.5L1616.9 619.7L1606.4 610.5zM1619.1 600.2L1629.6 609.4L1619.1 618.6L1608.6 609.4zM1621.2 599.0L1631.7 608.2L1621.2 617.4L1610.7 608.2zM1623.4 597.8L1633.9 607.0L1623.4 616.2L1612.9 607.0zM1625.6 596.6L1636.1 605.8L1625.6 615.0L1615.1 605.8zM1627.8 595.5L1638.3 604.7L1627.8 613.9L1617.3 604.7zM1630.0 594.3L1640.5 603.5L1630.0 612.7L1619.5 603.5zM1632.1 593.1L1642.6 602.3L1632.1 611.5L1621.6 602.3zM1634.3 591.9L1644.8 601.1L1634.3 610.3L1623.8 601.1zM1636.5 590.7L1647.0 599.9L1636.5 609.1L1626.0 599.9zM1638.7 589.6L1649.2 598.8L1638.7 608.0L1628.2 598.8zM1640.9 588.4L1651.4 597.6L1640.9 606.8L1630.4 597.6zM1643.0 587.2L1653.5 596.4L1643.0 605.6L1632.5 596.4zM1645.2 586.0L1655.7 595.2L1645.2 604.4L1634.7 595.2zM1647.4 584.8L1657.9 594.0L1647.4 603.2L1636.9 594.0zM1649.6 583.6L1660.1 592.8L1649.6 602.0L1639.1 592.8zM1651.7 582.4L1662.2 591.6L1651.7 600.8L1641.2 591.6zM1653.9 581.2L1664.4 590.4L1653.9 599.6L1643.4 590.4zM1656.1 580.0L1666.6 589.2L1656.1 598.4L1645.6 589.2zM1658.3 578.8L1668.8 588.0L1658.3 597.2L1647.8 588.0zM1660.5 577.6L1671.0 586.8L1660.5 596.0L1650.0 586.8zM1662.6 576.4L1673.1 585.6L1662.6 594.8L1652.1 585.6zM1664.8 575.2L1675.3 584.4L1664.8 593.6L1654.3 584.4zM1667.0 574.0L1677.5 583.2L1667.0 592.4L1656.5 583.2zM1669.2 572.8L1679.7 582.0L1669.2 591.2L1658.7 582.0zM1671.4 571.6L1681.9 580.8L1671.4 590.0L1660.9 580.8zM1673.5 570.4L1684.0 579.6L1673.5 588.8L1663.0 579.6zM1675.7 569.2L1686.2 578.4L1675.7 587.6L1665.2 578.4zM1677.9 568.0L1688.4 577.2L1677.9 586.4L1667.4 577.2zM1680.1 566.8L1690.6 576.0L1680.1 585.2L1669.6 576.0zM1682.2 565.6L1692.8 574.8L1682.2 584.0L1671.8 574.8zM1684.4 564.4L1694.9 573.6L1684.4 582.8L1673.9 573.6zM1686.6 563.2L1697.1 572.4L1686.6 581.6L1676.1 572.4zM1688.8 562.0L1699.3 571.2L1688.8 580.4L1678.3 571.2zM1691.0 560.8L1701.5 570.0L1691.0 579.2L1680.5 570.0zM1693.1 559.5L1703.6 568.7L1693.1 577.9L1682.6 568.7zM1695.3 558.3L1705.8 567.5L1695.3 576.7L1684.8 567.5zM1697.5 557.1L1708.0 566.3L1697.5 575.5L1687.0 566.3zM1699.7 555.9L1710.2 565.1L1699.7 574.3L1689.2 565.1zM1701.9 554.7L1712.4 563.9L1701.9 573.1L1691.4 563.9zM1704.0 553.4L1714.5 562.6L1704.0 571.8L1693.5 562.6zM1706.2 552.2L1716.7 561.4L1706.2 570.6L1695.7 561.4zM1708.4 551.0L1718.9 560.2L1708.4 569.4L1697.9 560.2zM1710.6 549.8L1721.1 559.0L1710.6 568.2L1700.1 559.0zM1712.8 548.5L1723.3 557.7L1712.8 566.9L1702.3 557.7zM1714.9 547.3L1725.4 556.5L1714.9 565.7L1704.4 556.5zM1717.1 546.1L1727.6 555.3L1717.1 564.5L1706.6 555.3zM1719.3 544.9L1729.8 554.1L1719.3 563.3L1708.8 554.1zM1721.5 543.6L1732.0 552.8L1721.5 562.0L1711.0 552.8zM1723.6 542.4L1734.1 551.6L1723.6 560.8L1713.1 551.6zM1725.8 541.2L1736.3 550.4L1725.8 559.6L1715.3 550.4zM1728.0 539.9L1738.5 549.1L1728.0 558.3L1717.5 549.1zM1730.2 538.7L1740.7 547.9L1730.2 557.1L1719.7 547.9zM1732.4 537.5L1742.9 546.7L1732.4 555.9L1721.9 546.7zM1734.5 536.2L1745.0 545.4L1734.5 554.6L1724.0 545.4zM1736.7 535.0L1747.2 544.2L1736.7 553.4L1726.2 544.2zM1738.9 533.8L1749.4 543.0L1738.9 552.2L1728.4 543.0zM1741.1 532.5L1751.6 541.7L1741.1 550.9L1730.6 541.7zM1743.3 531.3L1753.8 540.5L1743.3 549.7L1732.8 540.5zM1745.4 530.0L1755.9 539.2L1745.4 548.4L1734.9 539.2zM1747.6 528.8L1758.1 538.0L1747.6 547.2L1737.1 538.0zM1749.8 527.6L1760.3 536.8L1749.8 546.0L1739.3 536.8zM1752.0 526.3L1762.5 535.5L1752.0 544.7L1741.5 535.5zM1754.1 525.1L1764.6 534.3L1754.1 543.5L1743.6 534.3zM1756.3 523.8L1766.8 533.0L1756.3 542.2L1745.8 533.0zM1758.5 522.6L1769.0 531.8L1758.5 541.0L1748.0 531.8zM1760.7 521.3L1771.2 530.5L1760.7 539.7L1750.2 530.5zM1762.9 520.1L1773.4 529.3L1762.9 538.5L1752.4 529.3zM1765.0 518.8L1775.5 528.0L1765.0 537.2L1754.5 528.0zM1767.2 517.6L1777.7 526.8L1767.2 536.0L1756.7 526.8zM1769.4 516.4L1779.9 525.6L1769.4 534.8L1758.9 525.6zM1771.6 515.1L1782.1 524.3L1771.6 533.5L1761.1 524.3zM1773.8 513.9L1784.3 523.1L1773.8 532.3L1763.3 523.1zM1775.9 512.6L1786.4 521.8L1775.9 531.0L1765.4 521.8zM1778.1 511.3L1788.6 520.5L1778.1 529.7L1767.6 520.5zM1780.3 510.1L1790.8 519.3L1780.3 528.5L1769.8 519.3zM1782.5 508.8L1793.0 518.0L1782.5 527.2L1772.0 518.0zM1784.7 507.6L1795.2 516.8L1784.7 526.0L1774.2 516.8zM1786.8 506.3L1797.3 515.5L1786.8 524.7L1776.3 515.5zM1789.0 505.1L1799.5 514.3L1789.0 523.5L1778.5 514.3zM1791.2 503.8L1801.7 513.0L1791.2 522.2L1780.7 513.0zM1793.4 502.6L1803.9 511.8L1793.4 521.0L1782.9 511.8zM1795.5 501.3L1806.0 510.5L1795.5 519.7L1785.0 510.5zM1797.7 500.1L1808.2 509.3L1797.7 518.5L1787.2 509.3zM1799.9 498.8L1810.4 508.0L1799.9 517.2L1789.4 508.0zM1802.1 497.5L1812.6 506.7L1802.1 515.9L1791.6 506.7zM1804.3 496.3L1814.8 505.5L1804.3 514.7L1793.8 505.5zM1806.4 495.0L1816.9 504.2L1806.4 513.4L1795.9 504.2zM1808.6 493.8L1819.1 503.0L1808.6 512.2L1798.1 503.0zM1810.8 492.5L1821.3 501.7L1810.8 510.9L1800.3 501.7zM1813.0 491.2L1823.5 500.4L1813.0 509.6L1802.5 500.4zM1815.2 490.0L1825.7 499.2L1815.2 508.4L1804.7 499.2zM1817.3 488.7L1827.8 497.9L1817.3 507.1L1806.8 497.9zM1819.5 487.4L1830.0 496.6L1819.5 505.8L1809.0 496.6zM1821.7 486.2L1832.2 495.4L1821.7 504.6L1811.2 495.4zM1823.9 484.9L1834.4 494.1L1823.9 503.3L1813.4 494.1zM1826.0 483.7L1836.5 492.9L1826.0 502.1L1815.5 492.9zM1828.2 482.4L1838.7 491.6L1828.2 500.8L1817.7 491.6zM1830.4 481.1L1840.9 490.3L1830.4 499.5L1819.9 490.3zM1832.6 479.9L1843.1 489.1L1832.6 498.3L1822.1 489.1zM1834.8 478.6L1845.3 487.8L1834.8 497.0L1824.3 487.8zM1836.9 477.3L1847.4 486.5L1836.9 495.7L1826.4 486.5zM1839.1 476.1L1849.6 485.3L1839.1 494.5L1828.6 485.3zM1841.3 474.8L1851.8 484.0L1841.3 493.2L1830.8 484.0zM1843.5 473.5L1854.0 482.7L1843.5 491.9L1833.0 482.7zM1845.7 472.3L1856.2 481.5L1845.7 490.7L1835.2 481.5zM1847.8 471.0L1858.3 480.2L1847.8 489.4L1837.3 480.2zM1850.0 469.7L1860.5 478.9L1850.0 488.1L1839.5 478.9zM1852.2 468.5L1862.7 477.7L1852.2 486.9L1841.7 477.7zM1854.4 467.2L1864.9 476.4L1854.4 485.6L1843.9 476.4zM1856.5 465.9L1867.0 475.1L1856.5 484.3L1846.0 475.1zM1858.7 464.6L1869.2 473.8L1858.7 483.0L1848.2 473.8zM1860.9 463.4L1871.4 472.6L1860.9 481.8L1850.4 472.6zM1863.1 462.1L1873.6 471.3L1863.1 480.5L1852.6 471.3zM1865.3 460.8L1875.8 470.0L1865.3 479.2L1854.8 470.0zM1867.4 459.6L1877.9 468.8L1867.4 478.0L1856.9 468.8zM1869.6 458.3L1880.1 467.5L1869.6 476.7L1859.1 467.5zM1871.8 457.0L1882.3 466.2L1871.8 475.4L1861.3 466.2zM1874.0 455.8L1884.5 465.0L1874.0 474.2L1863.5 465.0zM1876.2 454.5L1886.7 463.7L1876.2 472.9L1865.7 463.7zM1878.3 453.2L1888.8 462.4L1878.3 471.6L1867.8 462.4zM1880.5 451.9L1891.0 461.1L1880.5 470.3L1870.0 461.1zM1882.7 450.7L1893.2 459.9L1882.7 469.1L1872.2 459.9zM1884.9 449.4L1895.4 458.6L1884.9 467.8L1874.4 458.6zM1887.1 448.1L1897.6 457.3L1887.1 466.5L1876.6 457.3zM1889.2 446.8L1899.7 456.0L1889.2 465.2L1878.7 456.0zM1891.4 445.6L1901.9 454.8L1891.4 464.0L1880.9 454.8zM1893.6 444.3L1904.1 453.5L1893.6 462.7L1883.1 453.5zM1895.8 443.0L1906.3 452.2L1895.8 461.4L1885.3 452.2zM1897.9 441.8L1908.4 451.0L1897.9 460.2L1887.4 451.0zM1900.1 440.5L1910.6 449.7L1900.1 458.9L1889.6 449.7zM1902.3 439.2L1912.8 448.4L1902.3 457.6L1891.8 448.4zM1904.5 437.9L1915.0 447.1L1904.5 456.3L1894.0 447.1zM1906.7 436.7L1917.2 445.9L1906.7 455.1L1896.2 445.9zM1908.8 435.4L1919.3 444.6L1908.8 453.8L1898.3 444.6zM1911.0 434.1L1921.5 443.3L1911.0 452.5L1900.5 443.3zM1913.2 432.8L1923.7 442.0L1913.2 451.2L1902.7 442.0zM1915.4 431.5L1925.9 440.7L1915.4 449.9L1904.9 440.7zM1917.6 430.3L1928.1 439.5L1917.6 448.7L1907.1 439.5zM1919.7 429.0L1930.2 438.2L1919.7 447.4L1909.2 438.2zM1921.9 427.7L1932.4 436.9L1921.9 446.1L1911.4 436.9zM1924.1 426.4L1934.6 435.6L1924.1 444.8L1913.6 435.6zM1926.3 425.1L1936.8 434.3L1926.3 443.5L1915.8 434.3zM1928.4 423.9L1938.9 433.1L1928.4 442.3L1917.9 433.1zM1930.6 422.6L1941.1 431.8L1930.6 441.0L1920.1 431.8zM1932.8 421.3L1943.3 430.5L1932.8 439.7L1922.3 430.5zM1935.0 420.0L1945.5 429.2L1935.0 438.4L1924.5 429.2zM1937.2 418.7L1947.7 427.9L1937.2 437.1L1926.7 427.9zM1939.3 417.4L1949.8 426.6L1939.3 435.8L1928.8 426.6zM1941.5 416.1L1952.0 425.3L1941.5 434.5L1931.0 425.3zM1943.7 414.9L1954.2 424.1L1943.7 433.3L1933.2 424.1zM1945.9 413.6L1956.4 422.8L1945.9 432.0L1935.4 422.8zM1948.1 412.3L1958.6 421.5L1948.1 430.7L1937.6 421.5zM1950.2 411.0L1960.7 420.2L1950.2 429.4L1939.7 420.2zM1952.4 409.7L1962.9 418.9L1952.4 428.1L1941.9 418.9zM1954.6 408.4L1965.1 417.6L1954.6 426.8L1944.1 417.6zM1956.8 407.1L1967.3 416.3L1956.8 425.5L1946.3 416.3zM1959.0 405.8L1969.5 415.0L1959.0 424.2L1948.5 415.0zM1961.1 404.5L1971.6 413.7L1961.1 422.9L1950.6 413.7zM1963.3 403.2L1973.8 412.4L1963.3 421.6L1952.8 412.4zM1965.5 401.9L1976.0 411.1L1965.5 420.3L1955.0 411.1zM1967.7 400.6L1978.2 409.8L1967.7 419.0L1957.2 409.8zM1969.8 399.3L1980.3 408.5L1969.8 417.7L1959.3 408.5zM1972.0 398.0L1982.5 407.2L1972.0 416.4L1961.5 407.2zM1974.2 396.7L1984.7 405.9L1974.2 415.1L1963.7 405.9zM1976.4 395.4L1986.9 404.6L1976.4 413.8L1965.9 404.6zM1978.6 394.1L1989.1 403.3L1978.6 412.5L1968.1 403.3zM1980.7 392.8L1991.2 402.0L1980.7 411.2L1970.2 402.0zM1982.9 391.5L1993.4 400.7L1982.9 409.9L1972.4 400.7zM1985.1 390.1L1995.6 399.3L1985.1 408.5L1974.6 399.3zM1987.3 388.8L1997.8 398.0L1987.3 407.2L1976.8 398.0zM1989.5 387.5L2000.0 396.7L1989.5 405.9L1979.0 396.7zM1991.6 386.2L2002.1 395.4L1991.6 404.6L1981.1 395.4zM1993.8 384.9L2004.3 394.1L1993.8 403.3L1983.3 394.1zM1996.0 383.5L2006.5 392.7L1996.0 401.9L1985.5 392.7zM1998.2 382.2L2008.7 391.4L1998.2 400.6L1987.7 391.4zM2000.3 380.9L2010.8 390.1L2000.3 399.3L1989.8 390.1zM2002.5 379.6L2013.0 388.8L2002.5 398.0L1992.0 388.8zM2004.7 378.2L2015.2 387.4L2004.7 396.6L1994.2 387.4zM2006.9 376.9L2017.4 386.1L2006.9 395.3L1996.4 386.1zM2009.1 375.6L2019.6 384.8L2009.1 394.0L1998.6 384.8zM2011.2 374.2L2021.7 383.4L2011.2 392.6L2000.7 383.4zM2013.4 372.9L2023.9 382.1L2013.4 391.3L2002.9 382.1zM2015.6 371.6L2026.1 380.8L2015.6 390.0L2005.1 380.8zM2017.8 370.2L2028.3 379.4L2017.8 388.6L2007.3 379.4zM2020.0 368.9L2030.5 378.1L2020.0 387.3L2009.5 378.1zM2022.1 367.5L2032.6 376.7L2022.1 385.9L2011.6 376.7zM2024.3 366.2L2034.8 375.4L2024.3 384.6L2013.8 375.4zM2026.5 364.8L2037.0 374.0L2026.5 383.2L2016.0 374.0zM2028.7 363.5L2039.2 372.7L2028.7 381.9L2018.2 372.7zM2030.8 362.1L2041.3 371.3L2030.8 380.5L2020.3 371.3zM2033.0 360.8L2043.5 370.0L2033.0 379.2L2022.5 370.0zM2035.2 359.4L2045.7 368.6L2035.2 377.8L2024.7 368.6zM2037.4 358.1L2047.9 367.3L2037.4 376.5L2026.9 367.3zM2039.6 356.7L2050.1 365.9L2039.6 375.1L2029.1 365.9zM2041.7 355.3L2052.2 364.5L2041.7 373.7L2031.2 364.5zM2043.9 354.0L2054.4 363.2L2043.9 372.4L2033.4 363.2zM2046.1 352.6L2056.6 361.8L2046.1 371.0L2035.6 361.8zM2048.3 351.2L2058.8 360.4L2048.3 369.6L2037.8 360.4zM2050.5 349.8L2061.0 359.0L2050.5 368.2L2040.0 359.0zM2052.6 348.5L2063.1 357.7L2052.6 366.9L2042.1 357.7zM2054.8 347.1L2065.3 356.3L2054.8 365.5L2044.3 356.3zM2057.0 345.7L2067.5 354.9L2057.0 364.1L2046.5 354.9zM2059.2 344.3L2069.7 353.5L2059.2 362.7L2048.7 353.5zM2061.4 342.9L2071.9 352.1L2061.4 361.3L2050.9 352.1zM2063.5 341.5L2074.0 350.7L2063.5 359.9L2053.0 350.7zM2065.7 340.1L2076.2 349.3L2065.7 358.5L2055.2 349.3zM2067.9 338.7L2078.4 347.9L2067.9 357.1L2057.4 347.9zM2070.1 337.3L2080.6 346.5L2070.1 355.7L2059.6 346.5zM2072.2 335.9L2082.7 345.1L2072.2 354.3L2061.7 345.1zM2074.4 334.5L2084.9 343.7L2074.4 352.9L2063.9 343.7zM2076.6 333.1L2087.1 342.3L2076.6 351.5L2066.1 342.3zM2078.8 331.7L2089.3 340.9L2078.8 350.1L2068.3 340.9zM2081.0 330.3L2091.5 339.5L2081.0 348.7L2070.5 339.5zM2083.1 328.9L2093.6 338.1L2083.1 347.3L2072.6 338.1zM2085.3 327.5L2095.8 336.7L2085.3 345.9L2074.8 336.7zM2087.5 326.0L2098.0 335.2L2087.5 344.4L2077.0 335.2zM2089.7 324.6L2100.2 333.8L2089.7 343.0L2079.2 333.8zM2091.9 323.2L2102.4 332.4L2091.9 341.6L2081.4 332.4zM2094.0 321.8L2104.5 331.0L2094.0 340.2L2083.5 331.0zM2096.2 320.3L2106.7 329.5L2096.2 338.7L2085.7 329.5zM2098.4 318.9L2108.9 328.1L2098.4 337.3L2087.9 328.1zM2100.6 317.4L2111.1 326.6L2100.6 335.8L2090.1 326.6zM2102.7 316.0L2113.2 325.2L2102.7 334.4L2092.2 325.2zM2104.9 314.6L2115.4 323.8L2104.9 333.0L2094.4 323.8zM2107.1 313.1L2117.6 322.3L2107.1 331.5L2096.6 322.3zM2109.3 311.6L2119.8 320.8L2109.3 330.0L2098.8 320.8zM2111.5 310.2L2122.0 319.4L2111.5 328.6L2101.0 319.4zM2113.6 308.7L2124.1 317.9L2113.6 327.1L2103.1 317.9zM2115.8 307.3L2126.3 316.5L2115.8 325.7L2105.3 316.5zM2118.0 305.8L2128.5 315.0L2118.0 324.2L2107.5 315.0z" fill="#2e2eff"/>
<rect x="375.70" y="247.00" width="3.10" height="1224.00" fill="#3d3d3d"/>
<rect x="370.20" y="1471.00" width="1752.20" height="2.60" fill="#3d3d3d"/>
<rect x="375.70" y="1296.29" width="38.10" height="2.10" fill="#3d3d3d"/>
<rect x="375.70" y="1121.33" width="38.10" height="2.10" fill="#3d3d3d"/>
<rect x="375.70" y="946.37" width="38.10" height="2.10" fill="#3d3d3d"/>
<rect x="375.70" y="771.41" width="38.10" height="2.10" fill="#3d3d3d"/>
<rect x="375.70" y="596.45" width="38.10" height="2.10" fill="#3d3d3d"/>
<rect x="375.70" y="421.49" width="38.10" height="2.10" fill="#3d3d3d"/>
<rect x="375.70" y="246.53" width="38.10" height="2.10" fill="#3d3d3d"/>
<rect x="482.00" y="1452.00" width="1.40" height="15.00" fill="#3d3d3d"/>
<rect x="592.00" y="1452.00" width="1.40" height="15.00" fill="#3d3d3d"/>
<rect x="702.00" y="1452.00" width="1.40" height="15.00" fill="#3d3d3d"/>
<rect x="813.00" y="1438.50" width="2.20" height="28.50" fill="#3d3d3d"/>
<rect x="920.50" y="1452.00" width="1.40" height="15.00" fill="#3d3d3d"/>
<rect x="1030.00" y="1452.00" width="1.40" height="15.00" fill="#3d3d3d"/>
<rect x="1137.60" y="1452.00" width="1.40" height="15.00" fill="#3d3d3d"/>
<rect x="1249.00" y="1438.50" width="2.20" height="28.50" fill="#3d3d3d"/>
<rect x="1356.30" y="1452.00" width="1.40" height="15.00" fill="#3d3d3d"/>
<rect x="1463.60" y="1452.00" width="1.40" height="15.00" fill="#3d3d3d"/>
<rect x="1573.70" y="1452.00" width="1.40" height="15.00" fill="#3d3d3d"/>
<rect x="1686.00" y="1438.50" width="2.20" height="28.50" fill="#3d3d3d"/>
<rect x="1791.00" y="1452.00" width="1.40" height="15.00" fill="#3d3d3d"/>
<rect x="1901.00" y="1452.00" width="1.40" height="15.00" fill="#3d3d3d"/>
<rect x="2011.00" y="1452.00" width="1.40" height="15.00" fill="#3d3d3d"/>
<rect x="2121.00" y="1438.50" width="2.20" height="28.50" fill="#3d3d3d"/>
<rect x="370.20" y="242.40" width="5.50" height="1228.60" fill="#000"/>
<rect x="370.20" y="1467.00" width="1749.90" height="4.00" fill="#000"/>
<rect x="370.20" y="1433.56" width="26.80" height="2.40" fill="#000"/>
<rect x="370.20" y="1398.57" width="26.80" height="2.40" fill="#000"/>
<rect x="370.20" y="1363.57" width="26.80" height="2.40" fill="#000"/>
<rect x="370.20" y="1328.58" width="26.80" height="2.40" fill="#000"/>
<rect x="370.20" y="1291.59" width="43.60" height="4.70" fill="#000"/>
<rect x="370.20" y="1258.60" width="26.80" height="2.40" fill="#000"/>
<rect x="370.20" y="1223.61" width="26.80" height="2.40" fill="#000"/>
<rect x="370.20" y="1188.61" width="26.80" height="2.40" fill="#000"/>
<rect x="370.20" y="1153.62" width="26.80" height="2.40" fill="#000"/>
<rect x="370.20" y="1116.63" width="43.60" height="4.70" fill="#000"/>
<rect x="370.20" y="1083.64" width="26.80" height="2.40" fill="#000"/>
<rect x="370.20" y="1048.65" width="26.80" height="2.40" fill="#000"/>
<rect x="370.20" y="1013.65" width="26.80" height="2.40" fill="#000"/>
<rect x="370.20" y="978.66" width="26.80" height="2.40" fill="#000"/>
<rect x="370.20" y="941.67" width="43.60" height="4.70" fill="#000"/>
<rect x="370.20" y="908.68" width="26.80" height="2.40" fill="#000"/>
<rect x="370.20" y="873.69" width="26.80" height="2.40" fill="#000"/>
<rect x="370.20" y="838.69" width="26.80" height="2.40" fill="#000"/>
<rect x="370.20" y="803.70" width="26.80" height="2.40" fill="#000"/>
<rect x="370.20" y="766.71" width="43.60" height="4.70" fill="#000"/>
<rect x="370.20" y="733.72" width="26.80" height="2.40" fill="#000"/>
<rect x="370.20" y="698.73" width="26.80" height="2.40" fill="#000"/>
<rect x="370.20" y="663.73" width="26.80" height="2.40" fill="#000"/>
<rect x="370.20" y="628.74" width="26.80" height="2.40" fill="#000"/>
<rect x="370.20" y="591.75" width="43.60" height="4.70" fill="#000"/>
<rect x="370.20" y="558.76" width="26.80" height="2.40" fill="#000"/>
<rect x="370.20" y="523.77" width="26.80" height="2.40" fill="#000"/>
<rect x="370.20" y="488.77" width="26.80" height="2.40" fill="#000"/>
<rect x="370.20" y="453.78" width="26.80" height="2.40" fill="#000"/>
<rect x="370.20" y="416.79" width="43.60" height="4.70" fill="#000"/>
<rect x="370.20" y="383.80" width="26.80" height="2.40" fill="#000"/>
<rect x="370.20" y="348.81" width="26.80" height="2.40" fill="#000"/>
<rect x="370.20" y="313.81" width="26.80" height="2.40" fill="#000"/>
<rect x="370.20" y="278.82" width="26.80" height="2.40" fill="#000"/>
<rect x="370.20" y="241.83" width="43.60" height="4.70" fill="#000"/>
<rect x="480.00" y="1452.00" width="2.00" height="19.00" fill="#000"/>
<rect x="590.00" y="1452.00" width="2.00" height="19.00" fill="#000"/>
<rect x="700.00" y="1452.00" width="2.00" height="19.00" fill="#000"/>
<rect x="807.00" y="1438.50" width="6.00" height="32.50" fill="#000"/>
<rect x="918.50" y="1452.00" width="2.00" height="19.00" fill="#000"/>
<rect x="1028.00" y="1452.00" width="2.00" height="19.00" fill="#000"/>
<rect x="1135.60" y="1452.00" width="2.00" height="19.00" fill="#000"/>
<rect x="1243.00" y="1438.50" width="6.00" height="32.50" fill="#000"/>
<rect x="1354.30" y="1452.00" width="2.00" height="19.00" fill="#000"/>
<rect x="1461.60" y="1452.00" width="2.00" height="19.00" fill="#000"/>
<rect x="1571.70" y="1452.00" width="2.00" height="19.00" fill="#000"/>
<rect x="1680.00" y="1438.50" width="6.00" height="32.50" fill="#000"/>
<rect x="1789.00" y="1452.00" width="2.00" height="19.00" fill="#000"/>
<rect x="1899.00" y="1452.00" width="2.00" height="19.00" fill="#000"/>
<rect x="2009.00" y="1452.00" width="2.00" height="19.00" fill="#000"/>
<rect x="2115.00" y="1438.50" width="6.00" height="32.50" fill="#000"/>
<text transform="translate(349.5 1487.2) scale(1.290 1)" font-size="48" text-anchor="end">0</text>
<text transform="translate(349.5 1312.3) scale(1.290 1)" font-size="48" text-anchor="end">0.01</text>
<text transform="translate(349.5 1137.3) scale(1.290 1)" font-size="48" text-anchor="end">0.02</text>
<text transform="translate(349.5 962.4) scale(1.290 1)" font-size="48" text-anchor="end">0.03</text>
<text transform="translate(349.5 787.4) scale(1.290 1)" font-size="48" text-anchor="end">0.04</text>
<text transform="translate(349.5 612.4) scale(1.290 1)" font-size="48" text-anchor="end">0.05</text>
<text transform="translate(349.5 437.5) scale(1.290 1)" font-size="48" text-anchor="end">0.06</text>
<text transform="translate(349.5 262.5) scale(1.290 1)" font-size="48" text-anchor="end">0.07</text>
<text transform="translate(373.3 1519.5) scale(1.290 1)" font-size="48" text-anchor="middle">0</text>
<text transform="translate(808.5 1519.5) scale(1.290 1)" font-size="48" text-anchor="middle">20</text>
<text transform="translate(1244.8 1519.5) scale(1.290 1)" font-size="48" text-anchor="middle">40</text>
<text transform="translate(1682.8 1519.5) scale(1.290 1)" font-size="48" text-anchor="middle">60</text>
<text transform="translate(2119.2 1519.5) scale(1.290 1)" font-size="48" text-anchor="middle">80</text>
<text transform="translate(1090.1 1573.5) scale(1.240 1)" font-size="60">Time (ms)</text>
<text transform="translate(187 1125.2) scale(1.340 1) rotate(-90)" font-size="57.4">Sloshing Pressure (bar)</text>
<rect x="470.5" y="274.5" width="677.6" height="294" fill="#fff" stroke="#393939" stroke-width="2.8"/>
<text transform="translate(510.3 324.6) scale(1.280 1)" font-size="54.4">Mesh size</text>
<line x1="524" y1="368.3" x2="853" y2="368.3" stroke="#d42a2a" stroke-width="1.5"/>
<path d="M679.5 362.0h16.0v12.0h-16.0z" fill="#cc0000"/>
<text transform="translate(904.6 385.0) scale(1.230 1)" font-size="59.5">5mm</text>
<line x1="524" y1="435.3" x2="853" y2="435.3" stroke="#22d022" stroke-width="1.5"/>
<path d="M687.5 425.3L697.0 440.3L678.0 440.3z" fill="#00cc00"/>
<text transform="translate(908.1 451.7) scale(1.275 1)" font-size="56.6">14mm</text>
<line x1="524" y1="501.5" x2="853" y2="501.5" stroke="#4848ff" stroke-width="1.5"/>
<path d="M687.5 492.7L697.5 501.2L687.5 509.7L677.5 501.2z" fill="#2e2eff"/>
<text transform="translate(903.3 518.3) scale(1.280 1)" font-size="57.8">20mm</text>
</svg></body></html>
